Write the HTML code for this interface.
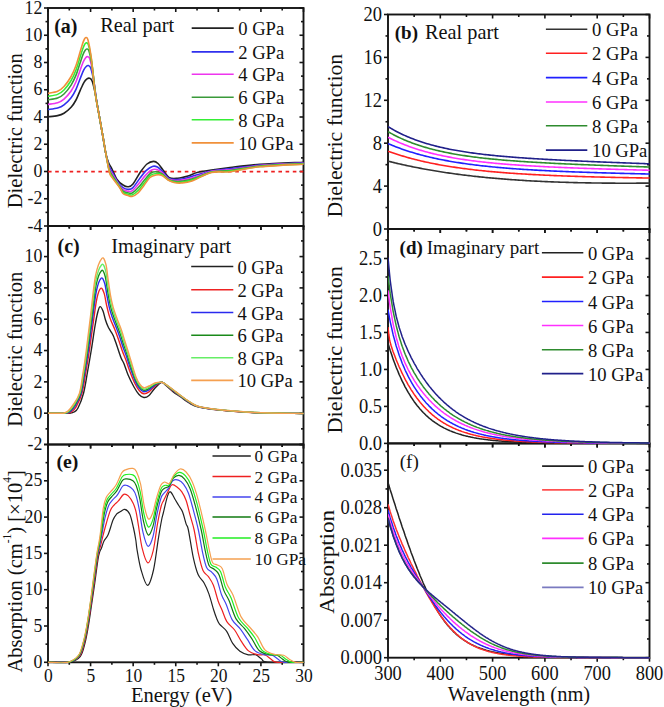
<!DOCTYPE html><html><head><meta charset="utf-8"><style>html,body{margin:0;padding:0;background:#fff;}svg{display:block;}</style></head><body>
<svg width="664" height="707" viewBox="0 0 664 707" style="font-family:'Liberation Serif', serif">
<rect width="664" height="707" fill="#fff"/>
<defs>
<clipPath id="ca"><rect x="48.00" y="7.00" width="255.50" height="220.00"/></clipPath>
<clipPath id="cc"><rect x="48.00" y="225.00" width="255.50" height="220.50"/></clipPath>
<clipPath id="ce"><rect x="48.00" y="443.50" width="255.50" height="219.80"/></clipPath>
<clipPath id="cb"><rect x="388.00" y="13.50" width="261.50" height="216.50"/></clipPath>
<clipPath id="cd"><rect x="388.00" y="228.00" width="261.50" height="216.40"/></clipPath>
<clipPath id="cf"><rect x="388.00" y="442.40" width="261.50" height="216.30"/></clipPath>
</defs>
<rect x="48.00" y="8.00" width="255.50" height="218.00" fill="none" stroke="#151515" stroke-width="1.9"/>
<rect x="48.00" y="226.00" width="255.50" height="218.50" fill="none" stroke="#151515" stroke-width="1.9"/>
<rect x="48.00" y="444.50" width="255.50" height="217.80" fill="none" stroke="#151515" stroke-width="1.9"/>
<rect x="388.00" y="14.50" width="261.50" height="214.50" fill="none" stroke="#151515" stroke-width="1.9"/>
<rect x="388.00" y="229.00" width="261.50" height="214.40" fill="none" stroke="#151515" stroke-width="1.9"/>
<rect x="388.00" y="443.40" width="261.50" height="214.30" fill="none" stroke="#151515" stroke-width="1.9"/>
<line x1="48.00" y1="8.00" x2="48.00" y2="12.00" stroke="#151515" stroke-width="1.6"/>
<line x1="69.29" y1="8.00" x2="69.29" y2="10.50" stroke="#151515" stroke-width="1.6"/>
<line x1="90.58" y1="8.00" x2="90.58" y2="12.00" stroke="#151515" stroke-width="1.6"/>
<line x1="111.88" y1="8.00" x2="111.88" y2="10.50" stroke="#151515" stroke-width="1.6"/>
<line x1="133.17" y1="8.00" x2="133.17" y2="12.00" stroke="#151515" stroke-width="1.6"/>
<line x1="154.46" y1="8.00" x2="154.46" y2="10.50" stroke="#151515" stroke-width="1.6"/>
<line x1="175.75" y1="8.00" x2="175.75" y2="12.00" stroke="#151515" stroke-width="1.6"/>
<line x1="197.04" y1="8.00" x2="197.04" y2="10.50" stroke="#151515" stroke-width="1.6"/>
<line x1="218.33" y1="8.00" x2="218.33" y2="12.00" stroke="#151515" stroke-width="1.6"/>
<line x1="239.63" y1="8.00" x2="239.63" y2="10.50" stroke="#151515" stroke-width="1.6"/>
<line x1="260.92" y1="8.00" x2="260.92" y2="12.00" stroke="#151515" stroke-width="1.6"/>
<line x1="282.21" y1="8.00" x2="282.21" y2="10.50" stroke="#151515" stroke-width="1.6"/>
<line x1="303.50" y1="8.00" x2="303.50" y2="12.00" stroke="#151515" stroke-width="1.6"/>
<line x1="48.00" y1="226.00" x2="48.00" y2="230.00" stroke="#151515" stroke-width="1.6"/>
<line x1="69.29" y1="226.00" x2="69.29" y2="228.50" stroke="#151515" stroke-width="1.6"/>
<line x1="90.58" y1="226.00" x2="90.58" y2="230.00" stroke="#151515" stroke-width="1.6"/>
<line x1="111.88" y1="226.00" x2="111.88" y2="228.50" stroke="#151515" stroke-width="1.6"/>
<line x1="133.17" y1="226.00" x2="133.17" y2="230.00" stroke="#151515" stroke-width="1.6"/>
<line x1="154.46" y1="226.00" x2="154.46" y2="228.50" stroke="#151515" stroke-width="1.6"/>
<line x1="175.75" y1="226.00" x2="175.75" y2="230.00" stroke="#151515" stroke-width="1.6"/>
<line x1="197.04" y1="226.00" x2="197.04" y2="228.50" stroke="#151515" stroke-width="1.6"/>
<line x1="218.33" y1="226.00" x2="218.33" y2="230.00" stroke="#151515" stroke-width="1.6"/>
<line x1="239.63" y1="226.00" x2="239.63" y2="228.50" stroke="#151515" stroke-width="1.6"/>
<line x1="260.92" y1="226.00" x2="260.92" y2="230.00" stroke="#151515" stroke-width="1.6"/>
<line x1="282.21" y1="226.00" x2="282.21" y2="228.50" stroke="#151515" stroke-width="1.6"/>
<line x1="303.50" y1="226.00" x2="303.50" y2="230.00" stroke="#151515" stroke-width="1.6"/>
<line x1="48.00" y1="226.00" x2="48.00" y2="230.00" stroke="#151515" stroke-width="1.6"/>
<line x1="69.29" y1="226.00" x2="69.29" y2="228.50" stroke="#151515" stroke-width="1.6"/>
<line x1="90.58" y1="226.00" x2="90.58" y2="230.00" stroke="#151515" stroke-width="1.6"/>
<line x1="111.88" y1="226.00" x2="111.88" y2="228.50" stroke="#151515" stroke-width="1.6"/>
<line x1="133.17" y1="226.00" x2="133.17" y2="230.00" stroke="#151515" stroke-width="1.6"/>
<line x1="154.46" y1="226.00" x2="154.46" y2="228.50" stroke="#151515" stroke-width="1.6"/>
<line x1="175.75" y1="226.00" x2="175.75" y2="230.00" stroke="#151515" stroke-width="1.6"/>
<line x1="197.04" y1="226.00" x2="197.04" y2="228.50" stroke="#151515" stroke-width="1.6"/>
<line x1="218.33" y1="226.00" x2="218.33" y2="230.00" stroke="#151515" stroke-width="1.6"/>
<line x1="239.63" y1="226.00" x2="239.63" y2="228.50" stroke="#151515" stroke-width="1.6"/>
<line x1="260.92" y1="226.00" x2="260.92" y2="230.00" stroke="#151515" stroke-width="1.6"/>
<line x1="282.21" y1="226.00" x2="282.21" y2="228.50" stroke="#151515" stroke-width="1.6"/>
<line x1="303.50" y1="226.00" x2="303.50" y2="230.00" stroke="#151515" stroke-width="1.6"/>
<line x1="48.00" y1="444.50" x2="48.00" y2="448.50" stroke="#151515" stroke-width="1.6"/>
<line x1="69.29" y1="444.50" x2="69.29" y2="447.00" stroke="#151515" stroke-width="1.6"/>
<line x1="90.58" y1="444.50" x2="90.58" y2="448.50" stroke="#151515" stroke-width="1.6"/>
<line x1="111.88" y1="444.50" x2="111.88" y2="447.00" stroke="#151515" stroke-width="1.6"/>
<line x1="133.17" y1="444.50" x2="133.17" y2="448.50" stroke="#151515" stroke-width="1.6"/>
<line x1="154.46" y1="444.50" x2="154.46" y2="447.00" stroke="#151515" stroke-width="1.6"/>
<line x1="175.75" y1="444.50" x2="175.75" y2="448.50" stroke="#151515" stroke-width="1.6"/>
<line x1="197.04" y1="444.50" x2="197.04" y2="447.00" stroke="#151515" stroke-width="1.6"/>
<line x1="218.33" y1="444.50" x2="218.33" y2="448.50" stroke="#151515" stroke-width="1.6"/>
<line x1="239.63" y1="444.50" x2="239.63" y2="447.00" stroke="#151515" stroke-width="1.6"/>
<line x1="260.92" y1="444.50" x2="260.92" y2="448.50" stroke="#151515" stroke-width="1.6"/>
<line x1="282.21" y1="444.50" x2="282.21" y2="447.00" stroke="#151515" stroke-width="1.6"/>
<line x1="303.50" y1="444.50" x2="303.50" y2="448.50" stroke="#151515" stroke-width="1.6"/>
<line x1="48.00" y1="444.50" x2="48.00" y2="448.50" stroke="#151515" stroke-width="1.6"/>
<line x1="69.29" y1="444.50" x2="69.29" y2="447.00" stroke="#151515" stroke-width="1.6"/>
<line x1="90.58" y1="444.50" x2="90.58" y2="448.50" stroke="#151515" stroke-width="1.6"/>
<line x1="111.88" y1="444.50" x2="111.88" y2="447.00" stroke="#151515" stroke-width="1.6"/>
<line x1="133.17" y1="444.50" x2="133.17" y2="448.50" stroke="#151515" stroke-width="1.6"/>
<line x1="154.46" y1="444.50" x2="154.46" y2="447.00" stroke="#151515" stroke-width="1.6"/>
<line x1="175.75" y1="444.50" x2="175.75" y2="448.50" stroke="#151515" stroke-width="1.6"/>
<line x1="197.04" y1="444.50" x2="197.04" y2="447.00" stroke="#151515" stroke-width="1.6"/>
<line x1="218.33" y1="444.50" x2="218.33" y2="448.50" stroke="#151515" stroke-width="1.6"/>
<line x1="239.63" y1="444.50" x2="239.63" y2="447.00" stroke="#151515" stroke-width="1.6"/>
<line x1="260.92" y1="444.50" x2="260.92" y2="448.50" stroke="#151515" stroke-width="1.6"/>
<line x1="282.21" y1="444.50" x2="282.21" y2="447.00" stroke="#151515" stroke-width="1.6"/>
<line x1="303.50" y1="444.50" x2="303.50" y2="448.50" stroke="#151515" stroke-width="1.6"/>
<line x1="48.00" y1="662.30" x2="48.00" y2="666.30" stroke="#151515" stroke-width="1.6"/>
<line x1="69.29" y1="662.30" x2="69.29" y2="664.80" stroke="#151515" stroke-width="1.6"/>
<line x1="90.58" y1="662.30" x2="90.58" y2="666.30" stroke="#151515" stroke-width="1.6"/>
<line x1="111.88" y1="662.30" x2="111.88" y2="664.80" stroke="#151515" stroke-width="1.6"/>
<line x1="133.17" y1="662.30" x2="133.17" y2="666.30" stroke="#151515" stroke-width="1.6"/>
<line x1="154.46" y1="662.30" x2="154.46" y2="664.80" stroke="#151515" stroke-width="1.6"/>
<line x1="175.75" y1="662.30" x2="175.75" y2="666.30" stroke="#151515" stroke-width="1.6"/>
<line x1="197.04" y1="662.30" x2="197.04" y2="664.80" stroke="#151515" stroke-width="1.6"/>
<line x1="218.33" y1="662.30" x2="218.33" y2="666.30" stroke="#151515" stroke-width="1.6"/>
<line x1="239.63" y1="662.30" x2="239.63" y2="664.80" stroke="#151515" stroke-width="1.6"/>
<line x1="260.92" y1="662.30" x2="260.92" y2="666.30" stroke="#151515" stroke-width="1.6"/>
<line x1="282.21" y1="662.30" x2="282.21" y2="664.80" stroke="#151515" stroke-width="1.6"/>
<line x1="303.50" y1="662.30" x2="303.50" y2="666.30" stroke="#151515" stroke-width="1.6"/>
<line x1="388.00" y1="14.50" x2="388.00" y2="18.50" stroke="#151515" stroke-width="1.6"/>
<line x1="414.15" y1="14.50" x2="414.15" y2="17.00" stroke="#151515" stroke-width="1.6"/>
<line x1="440.30" y1="14.50" x2="440.30" y2="18.50" stroke="#151515" stroke-width="1.6"/>
<line x1="466.45" y1="14.50" x2="466.45" y2="17.00" stroke="#151515" stroke-width="1.6"/>
<line x1="492.60" y1="14.50" x2="492.60" y2="18.50" stroke="#151515" stroke-width="1.6"/>
<line x1="518.75" y1="14.50" x2="518.75" y2="17.00" stroke="#151515" stroke-width="1.6"/>
<line x1="544.90" y1="14.50" x2="544.90" y2="18.50" stroke="#151515" stroke-width="1.6"/>
<line x1="571.05" y1="14.50" x2="571.05" y2="17.00" stroke="#151515" stroke-width="1.6"/>
<line x1="597.20" y1="14.50" x2="597.20" y2="18.50" stroke="#151515" stroke-width="1.6"/>
<line x1="623.35" y1="14.50" x2="623.35" y2="17.00" stroke="#151515" stroke-width="1.6"/>
<line x1="649.50" y1="14.50" x2="649.50" y2="18.50" stroke="#151515" stroke-width="1.6"/>
<line x1="388.00" y1="229.00" x2="388.00" y2="233.00" stroke="#151515" stroke-width="1.6"/>
<line x1="414.15" y1="229.00" x2="414.15" y2="231.50" stroke="#151515" stroke-width="1.6"/>
<line x1="440.30" y1="229.00" x2="440.30" y2="233.00" stroke="#151515" stroke-width="1.6"/>
<line x1="466.45" y1="229.00" x2="466.45" y2="231.50" stroke="#151515" stroke-width="1.6"/>
<line x1="492.60" y1="229.00" x2="492.60" y2="233.00" stroke="#151515" stroke-width="1.6"/>
<line x1="518.75" y1="229.00" x2="518.75" y2="231.50" stroke="#151515" stroke-width="1.6"/>
<line x1="544.90" y1="229.00" x2="544.90" y2="233.00" stroke="#151515" stroke-width="1.6"/>
<line x1="571.05" y1="229.00" x2="571.05" y2="231.50" stroke="#151515" stroke-width="1.6"/>
<line x1="597.20" y1="229.00" x2="597.20" y2="233.00" stroke="#151515" stroke-width="1.6"/>
<line x1="623.35" y1="229.00" x2="623.35" y2="231.50" stroke="#151515" stroke-width="1.6"/>
<line x1="649.50" y1="229.00" x2="649.50" y2="233.00" stroke="#151515" stroke-width="1.6"/>
<line x1="388.00" y1="229.00" x2="388.00" y2="233.00" stroke="#151515" stroke-width="1.6"/>
<line x1="414.15" y1="229.00" x2="414.15" y2="231.50" stroke="#151515" stroke-width="1.6"/>
<line x1="440.30" y1="229.00" x2="440.30" y2="233.00" stroke="#151515" stroke-width="1.6"/>
<line x1="466.45" y1="229.00" x2="466.45" y2="231.50" stroke="#151515" stroke-width="1.6"/>
<line x1="492.60" y1="229.00" x2="492.60" y2="233.00" stroke="#151515" stroke-width="1.6"/>
<line x1="518.75" y1="229.00" x2="518.75" y2="231.50" stroke="#151515" stroke-width="1.6"/>
<line x1="544.90" y1="229.00" x2="544.90" y2="233.00" stroke="#151515" stroke-width="1.6"/>
<line x1="571.05" y1="229.00" x2="571.05" y2="231.50" stroke="#151515" stroke-width="1.6"/>
<line x1="597.20" y1="229.00" x2="597.20" y2="233.00" stroke="#151515" stroke-width="1.6"/>
<line x1="623.35" y1="229.00" x2="623.35" y2="231.50" stroke="#151515" stroke-width="1.6"/>
<line x1="649.50" y1="229.00" x2="649.50" y2="233.00" stroke="#151515" stroke-width="1.6"/>
<line x1="388.00" y1="443.40" x2="388.00" y2="447.40" stroke="#151515" stroke-width="1.6"/>
<line x1="414.15" y1="443.40" x2="414.15" y2="445.90" stroke="#151515" stroke-width="1.6"/>
<line x1="440.30" y1="443.40" x2="440.30" y2="447.40" stroke="#151515" stroke-width="1.6"/>
<line x1="466.45" y1="443.40" x2="466.45" y2="445.90" stroke="#151515" stroke-width="1.6"/>
<line x1="492.60" y1="443.40" x2="492.60" y2="447.40" stroke="#151515" stroke-width="1.6"/>
<line x1="518.75" y1="443.40" x2="518.75" y2="445.90" stroke="#151515" stroke-width="1.6"/>
<line x1="544.90" y1="443.40" x2="544.90" y2="447.40" stroke="#151515" stroke-width="1.6"/>
<line x1="571.05" y1="443.40" x2="571.05" y2="445.90" stroke="#151515" stroke-width="1.6"/>
<line x1="597.20" y1="443.40" x2="597.20" y2="447.40" stroke="#151515" stroke-width="1.6"/>
<line x1="623.35" y1="443.40" x2="623.35" y2="445.90" stroke="#151515" stroke-width="1.6"/>
<line x1="649.50" y1="443.40" x2="649.50" y2="447.40" stroke="#151515" stroke-width="1.6"/>
<line x1="388.00" y1="443.40" x2="388.00" y2="447.40" stroke="#151515" stroke-width="1.6"/>
<line x1="414.15" y1="443.40" x2="414.15" y2="445.90" stroke="#151515" stroke-width="1.6"/>
<line x1="440.30" y1="443.40" x2="440.30" y2="447.40" stroke="#151515" stroke-width="1.6"/>
<line x1="466.45" y1="443.40" x2="466.45" y2="445.90" stroke="#151515" stroke-width="1.6"/>
<line x1="492.60" y1="443.40" x2="492.60" y2="447.40" stroke="#151515" stroke-width="1.6"/>
<line x1="518.75" y1="443.40" x2="518.75" y2="445.90" stroke="#151515" stroke-width="1.6"/>
<line x1="544.90" y1="443.40" x2="544.90" y2="447.40" stroke="#151515" stroke-width="1.6"/>
<line x1="571.05" y1="443.40" x2="571.05" y2="445.90" stroke="#151515" stroke-width="1.6"/>
<line x1="597.20" y1="443.40" x2="597.20" y2="447.40" stroke="#151515" stroke-width="1.6"/>
<line x1="623.35" y1="443.40" x2="623.35" y2="445.90" stroke="#151515" stroke-width="1.6"/>
<line x1="649.50" y1="443.40" x2="649.50" y2="447.40" stroke="#151515" stroke-width="1.6"/>
<line x1="388.00" y1="657.70" x2="388.00" y2="661.70" stroke="#151515" stroke-width="1.6"/>
<line x1="414.15" y1="657.70" x2="414.15" y2="660.20" stroke="#151515" stroke-width="1.6"/>
<line x1="440.30" y1="657.70" x2="440.30" y2="661.70" stroke="#151515" stroke-width="1.6"/>
<line x1="466.45" y1="657.70" x2="466.45" y2="660.20" stroke="#151515" stroke-width="1.6"/>
<line x1="492.60" y1="657.70" x2="492.60" y2="661.70" stroke="#151515" stroke-width="1.6"/>
<line x1="518.75" y1="657.70" x2="518.75" y2="660.20" stroke="#151515" stroke-width="1.6"/>
<line x1="544.90" y1="657.70" x2="544.90" y2="661.70" stroke="#151515" stroke-width="1.6"/>
<line x1="571.05" y1="657.70" x2="571.05" y2="660.20" stroke="#151515" stroke-width="1.6"/>
<line x1="597.20" y1="657.70" x2="597.20" y2="661.70" stroke="#151515" stroke-width="1.6"/>
<line x1="623.35" y1="657.70" x2="623.35" y2="660.20" stroke="#151515" stroke-width="1.6"/>
<line x1="649.50" y1="657.70" x2="649.50" y2="661.70" stroke="#151515" stroke-width="1.6"/>
<line x1="44.00" y1="226.00" x2="48.00" y2="226.00" stroke="#151515" stroke-width="1.6"/>
<line x1="45.50" y1="212.38" x2="48.00" y2="212.38" stroke="#151515" stroke-width="1.6"/>
<line x1="44.00" y1="198.75" x2="48.00" y2="198.75" stroke="#151515" stroke-width="1.6"/>
<line x1="45.50" y1="185.12" x2="48.00" y2="185.12" stroke="#151515" stroke-width="1.6"/>
<line x1="44.00" y1="171.50" x2="48.00" y2="171.50" stroke="#151515" stroke-width="1.6"/>
<line x1="45.50" y1="157.88" x2="48.00" y2="157.88" stroke="#151515" stroke-width="1.6"/>
<line x1="44.00" y1="144.25" x2="48.00" y2="144.25" stroke="#151515" stroke-width="1.6"/>
<line x1="45.50" y1="130.62" x2="48.00" y2="130.62" stroke="#151515" stroke-width="1.6"/>
<line x1="44.00" y1="117.00" x2="48.00" y2="117.00" stroke="#151515" stroke-width="1.6"/>
<line x1="45.50" y1="103.38" x2="48.00" y2="103.38" stroke="#151515" stroke-width="1.6"/>
<line x1="44.00" y1="89.75" x2="48.00" y2="89.75" stroke="#151515" stroke-width="1.6"/>
<line x1="45.50" y1="76.12" x2="48.00" y2="76.12" stroke="#151515" stroke-width="1.6"/>
<line x1="44.00" y1="62.50" x2="48.00" y2="62.50" stroke="#151515" stroke-width="1.6"/>
<line x1="45.50" y1="48.88" x2="48.00" y2="48.88" stroke="#151515" stroke-width="1.6"/>
<line x1="44.00" y1="35.25" x2="48.00" y2="35.25" stroke="#151515" stroke-width="1.6"/>
<line x1="45.50" y1="21.62" x2="48.00" y2="21.62" stroke="#151515" stroke-width="1.6"/>
<line x1="44.00" y1="8.00" x2="48.00" y2="8.00" stroke="#151515" stroke-width="1.6"/>
<line x1="44.00" y1="444.50" x2="48.00" y2="444.50" stroke="#151515" stroke-width="1.6"/>
<line x1="45.50" y1="428.84" x2="48.00" y2="428.84" stroke="#151515" stroke-width="1.6"/>
<line x1="44.00" y1="413.18" x2="48.00" y2="413.18" stroke="#151515" stroke-width="1.6"/>
<line x1="45.50" y1="397.52" x2="48.00" y2="397.52" stroke="#151515" stroke-width="1.6"/>
<line x1="44.00" y1="381.86" x2="48.00" y2="381.86" stroke="#151515" stroke-width="1.6"/>
<line x1="45.50" y1="366.20" x2="48.00" y2="366.20" stroke="#151515" stroke-width="1.6"/>
<line x1="44.00" y1="350.54" x2="48.00" y2="350.54" stroke="#151515" stroke-width="1.6"/>
<line x1="45.50" y1="334.88" x2="48.00" y2="334.88" stroke="#151515" stroke-width="1.6"/>
<line x1="44.00" y1="319.22" x2="48.00" y2="319.22" stroke="#151515" stroke-width="1.6"/>
<line x1="45.50" y1="303.56" x2="48.00" y2="303.56" stroke="#151515" stroke-width="1.6"/>
<line x1="44.00" y1="287.90" x2="48.00" y2="287.90" stroke="#151515" stroke-width="1.6"/>
<line x1="45.50" y1="272.24" x2="48.00" y2="272.24" stroke="#151515" stroke-width="1.6"/>
<line x1="44.00" y1="256.58" x2="48.00" y2="256.58" stroke="#151515" stroke-width="1.6"/>
<line x1="45.50" y1="240.92" x2="48.00" y2="240.92" stroke="#151515" stroke-width="1.6"/>
<line x1="44.00" y1="662.30" x2="48.00" y2="662.30" stroke="#151515" stroke-width="1.6"/>
<line x1="45.50" y1="644.15" x2="48.00" y2="644.15" stroke="#151515" stroke-width="1.6"/>
<line x1="44.00" y1="626.00" x2="48.00" y2="626.00" stroke="#151515" stroke-width="1.6"/>
<line x1="45.50" y1="607.85" x2="48.00" y2="607.85" stroke="#151515" stroke-width="1.6"/>
<line x1="44.00" y1="589.70" x2="48.00" y2="589.70" stroke="#151515" stroke-width="1.6"/>
<line x1="45.50" y1="571.55" x2="48.00" y2="571.55" stroke="#151515" stroke-width="1.6"/>
<line x1="44.00" y1="553.40" x2="48.00" y2="553.40" stroke="#151515" stroke-width="1.6"/>
<line x1="45.50" y1="535.25" x2="48.00" y2="535.25" stroke="#151515" stroke-width="1.6"/>
<line x1="44.00" y1="517.10" x2="48.00" y2="517.10" stroke="#151515" stroke-width="1.6"/>
<line x1="45.50" y1="498.95" x2="48.00" y2="498.95" stroke="#151515" stroke-width="1.6"/>
<line x1="44.00" y1="480.80" x2="48.00" y2="480.80" stroke="#151515" stroke-width="1.6"/>
<line x1="45.50" y1="462.65" x2="48.00" y2="462.65" stroke="#151515" stroke-width="1.6"/>
<line x1="44.00" y1="444.50" x2="48.00" y2="444.50" stroke="#151515" stroke-width="1.6"/>
<line x1="299.50" y1="226.00" x2="303.50" y2="226.00" stroke="#151515" stroke-width="1.6"/>
<line x1="301.00" y1="212.38" x2="303.50" y2="212.38" stroke="#151515" stroke-width="1.6"/>
<line x1="299.50" y1="198.75" x2="303.50" y2="198.75" stroke="#151515" stroke-width="1.6"/>
<line x1="301.00" y1="185.12" x2="303.50" y2="185.12" stroke="#151515" stroke-width="1.6"/>
<line x1="299.50" y1="171.50" x2="303.50" y2="171.50" stroke="#151515" stroke-width="1.6"/>
<line x1="301.00" y1="157.88" x2="303.50" y2="157.88" stroke="#151515" stroke-width="1.6"/>
<line x1="299.50" y1="144.25" x2="303.50" y2="144.25" stroke="#151515" stroke-width="1.6"/>
<line x1="301.00" y1="130.62" x2="303.50" y2="130.62" stroke="#151515" stroke-width="1.6"/>
<line x1="299.50" y1="117.00" x2="303.50" y2="117.00" stroke="#151515" stroke-width="1.6"/>
<line x1="301.00" y1="103.38" x2="303.50" y2="103.38" stroke="#151515" stroke-width="1.6"/>
<line x1="299.50" y1="89.75" x2="303.50" y2="89.75" stroke="#151515" stroke-width="1.6"/>
<line x1="301.00" y1="76.12" x2="303.50" y2="76.12" stroke="#151515" stroke-width="1.6"/>
<line x1="299.50" y1="62.50" x2="303.50" y2="62.50" stroke="#151515" stroke-width="1.6"/>
<line x1="301.00" y1="48.88" x2="303.50" y2="48.88" stroke="#151515" stroke-width="1.6"/>
<line x1="299.50" y1="35.25" x2="303.50" y2="35.25" stroke="#151515" stroke-width="1.6"/>
<line x1="301.00" y1="21.62" x2="303.50" y2="21.62" stroke="#151515" stroke-width="1.6"/>
<line x1="299.50" y1="8.00" x2="303.50" y2="8.00" stroke="#151515" stroke-width="1.6"/>
<line x1="299.50" y1="444.50" x2="303.50" y2="444.50" stroke="#151515" stroke-width="1.6"/>
<line x1="301.00" y1="428.84" x2="303.50" y2="428.84" stroke="#151515" stroke-width="1.6"/>
<line x1="299.50" y1="413.18" x2="303.50" y2="413.18" stroke="#151515" stroke-width="1.6"/>
<line x1="301.00" y1="397.52" x2="303.50" y2="397.52" stroke="#151515" stroke-width="1.6"/>
<line x1="299.50" y1="381.86" x2="303.50" y2="381.86" stroke="#151515" stroke-width="1.6"/>
<line x1="301.00" y1="366.20" x2="303.50" y2="366.20" stroke="#151515" stroke-width="1.6"/>
<line x1="299.50" y1="350.54" x2="303.50" y2="350.54" stroke="#151515" stroke-width="1.6"/>
<line x1="301.00" y1="334.88" x2="303.50" y2="334.88" stroke="#151515" stroke-width="1.6"/>
<line x1="299.50" y1="319.22" x2="303.50" y2="319.22" stroke="#151515" stroke-width="1.6"/>
<line x1="301.00" y1="303.56" x2="303.50" y2="303.56" stroke="#151515" stroke-width="1.6"/>
<line x1="299.50" y1="287.90" x2="303.50" y2="287.90" stroke="#151515" stroke-width="1.6"/>
<line x1="301.00" y1="272.24" x2="303.50" y2="272.24" stroke="#151515" stroke-width="1.6"/>
<line x1="299.50" y1="256.58" x2="303.50" y2="256.58" stroke="#151515" stroke-width="1.6"/>
<line x1="301.00" y1="240.92" x2="303.50" y2="240.92" stroke="#151515" stroke-width="1.6"/>
<line x1="299.50" y1="662.30" x2="303.50" y2="662.30" stroke="#151515" stroke-width="1.6"/>
<line x1="301.00" y1="644.15" x2="303.50" y2="644.15" stroke="#151515" stroke-width="1.6"/>
<line x1="299.50" y1="626.00" x2="303.50" y2="626.00" stroke="#151515" stroke-width="1.6"/>
<line x1="301.00" y1="607.85" x2="303.50" y2="607.85" stroke="#151515" stroke-width="1.6"/>
<line x1="299.50" y1="589.70" x2="303.50" y2="589.70" stroke="#151515" stroke-width="1.6"/>
<line x1="301.00" y1="571.55" x2="303.50" y2="571.55" stroke="#151515" stroke-width="1.6"/>
<line x1="299.50" y1="553.40" x2="303.50" y2="553.40" stroke="#151515" stroke-width="1.6"/>
<line x1="301.00" y1="535.25" x2="303.50" y2="535.25" stroke="#151515" stroke-width="1.6"/>
<line x1="299.50" y1="517.10" x2="303.50" y2="517.10" stroke="#151515" stroke-width="1.6"/>
<line x1="301.00" y1="498.95" x2="303.50" y2="498.95" stroke="#151515" stroke-width="1.6"/>
<line x1="299.50" y1="480.80" x2="303.50" y2="480.80" stroke="#151515" stroke-width="1.6"/>
<line x1="301.00" y1="462.65" x2="303.50" y2="462.65" stroke="#151515" stroke-width="1.6"/>
<line x1="299.50" y1="444.50" x2="303.50" y2="444.50" stroke="#151515" stroke-width="1.6"/>
<line x1="384.00" y1="229.00" x2="388.00" y2="229.00" stroke="#151515" stroke-width="1.6"/>
<line x1="385.50" y1="207.55" x2="388.00" y2="207.55" stroke="#151515" stroke-width="1.6"/>
<line x1="384.00" y1="186.10" x2="388.00" y2="186.10" stroke="#151515" stroke-width="1.6"/>
<line x1="385.50" y1="164.65" x2="388.00" y2="164.65" stroke="#151515" stroke-width="1.6"/>
<line x1="384.00" y1="143.20" x2="388.00" y2="143.20" stroke="#151515" stroke-width="1.6"/>
<line x1="385.50" y1="121.75" x2="388.00" y2="121.75" stroke="#151515" stroke-width="1.6"/>
<line x1="384.00" y1="100.30" x2="388.00" y2="100.30" stroke="#151515" stroke-width="1.6"/>
<line x1="385.50" y1="78.85" x2="388.00" y2="78.85" stroke="#151515" stroke-width="1.6"/>
<line x1="384.00" y1="57.40" x2="388.00" y2="57.40" stroke="#151515" stroke-width="1.6"/>
<line x1="385.50" y1="35.95" x2="388.00" y2="35.95" stroke="#151515" stroke-width="1.6"/>
<line x1="384.00" y1="14.50" x2="388.00" y2="14.50" stroke="#151515" stroke-width="1.6"/>
<line x1="384.00" y1="443.40" x2="388.00" y2="443.40" stroke="#151515" stroke-width="1.6"/>
<line x1="385.50" y1="424.91" x2="388.00" y2="424.91" stroke="#151515" stroke-width="1.6"/>
<line x1="384.00" y1="406.42" x2="388.00" y2="406.42" stroke="#151515" stroke-width="1.6"/>
<line x1="385.50" y1="387.93" x2="388.00" y2="387.93" stroke="#151515" stroke-width="1.6"/>
<line x1="384.00" y1="369.44" x2="388.00" y2="369.44" stroke="#151515" stroke-width="1.6"/>
<line x1="385.50" y1="350.95" x2="388.00" y2="350.95" stroke="#151515" stroke-width="1.6"/>
<line x1="384.00" y1="332.46" x2="388.00" y2="332.46" stroke="#151515" stroke-width="1.6"/>
<line x1="385.50" y1="313.97" x2="388.00" y2="313.97" stroke="#151515" stroke-width="1.6"/>
<line x1="384.00" y1="295.48" x2="388.00" y2="295.48" stroke="#151515" stroke-width="1.6"/>
<line x1="385.50" y1="276.99" x2="388.00" y2="276.99" stroke="#151515" stroke-width="1.6"/>
<line x1="384.00" y1="258.50" x2="388.00" y2="258.50" stroke="#151515" stroke-width="1.6"/>
<line x1="385.50" y1="240.01" x2="388.00" y2="240.01" stroke="#151515" stroke-width="1.6"/>
<line x1="384.00" y1="657.70" x2="388.00" y2="657.70" stroke="#151515" stroke-width="1.6"/>
<line x1="385.50" y1="638.95" x2="388.00" y2="638.95" stroke="#151515" stroke-width="1.6"/>
<line x1="384.00" y1="620.20" x2="388.00" y2="620.20" stroke="#151515" stroke-width="1.6"/>
<line x1="385.50" y1="601.45" x2="388.00" y2="601.45" stroke="#151515" stroke-width="1.6"/>
<line x1="384.00" y1="582.70" x2="388.00" y2="582.70" stroke="#151515" stroke-width="1.6"/>
<line x1="385.50" y1="563.95" x2="388.00" y2="563.95" stroke="#151515" stroke-width="1.6"/>
<line x1="384.00" y1="545.20" x2="388.00" y2="545.20" stroke="#151515" stroke-width="1.6"/>
<line x1="385.50" y1="526.45" x2="388.00" y2="526.45" stroke="#151515" stroke-width="1.6"/>
<line x1="384.00" y1="507.70" x2="388.00" y2="507.70" stroke="#151515" stroke-width="1.6"/>
<line x1="385.50" y1="488.95" x2="388.00" y2="488.95" stroke="#151515" stroke-width="1.6"/>
<line x1="384.00" y1="470.20" x2="388.00" y2="470.20" stroke="#151515" stroke-width="1.6"/>
<line x1="385.50" y1="451.45" x2="388.00" y2="451.45" stroke="#151515" stroke-width="1.6"/>
<line x1="645.50" y1="229.00" x2="649.50" y2="229.00" stroke="#151515" stroke-width="1.6"/>
<line x1="647.00" y1="207.55" x2="649.50" y2="207.55" stroke="#151515" stroke-width="1.6"/>
<line x1="645.50" y1="186.10" x2="649.50" y2="186.10" stroke="#151515" stroke-width="1.6"/>
<line x1="647.00" y1="164.65" x2="649.50" y2="164.65" stroke="#151515" stroke-width="1.6"/>
<line x1="645.50" y1="143.20" x2="649.50" y2="143.20" stroke="#151515" stroke-width="1.6"/>
<line x1="647.00" y1="121.75" x2="649.50" y2="121.75" stroke="#151515" stroke-width="1.6"/>
<line x1="645.50" y1="100.30" x2="649.50" y2="100.30" stroke="#151515" stroke-width="1.6"/>
<line x1="647.00" y1="78.85" x2="649.50" y2="78.85" stroke="#151515" stroke-width="1.6"/>
<line x1="645.50" y1="57.40" x2="649.50" y2="57.40" stroke="#151515" stroke-width="1.6"/>
<line x1="647.00" y1="35.95" x2="649.50" y2="35.95" stroke="#151515" stroke-width="1.6"/>
<line x1="645.50" y1="14.50" x2="649.50" y2="14.50" stroke="#151515" stroke-width="1.6"/>
<line x1="645.50" y1="443.40" x2="649.50" y2="443.40" stroke="#151515" stroke-width="1.6"/>
<line x1="647.00" y1="424.91" x2="649.50" y2="424.91" stroke="#151515" stroke-width="1.6"/>
<line x1="645.50" y1="406.42" x2="649.50" y2="406.42" stroke="#151515" stroke-width="1.6"/>
<line x1="647.00" y1="387.93" x2="649.50" y2="387.93" stroke="#151515" stroke-width="1.6"/>
<line x1="645.50" y1="369.44" x2="649.50" y2="369.44" stroke="#151515" stroke-width="1.6"/>
<line x1="647.00" y1="350.95" x2="649.50" y2="350.95" stroke="#151515" stroke-width="1.6"/>
<line x1="645.50" y1="332.46" x2="649.50" y2="332.46" stroke="#151515" stroke-width="1.6"/>
<line x1="647.00" y1="313.97" x2="649.50" y2="313.97" stroke="#151515" stroke-width="1.6"/>
<line x1="645.50" y1="295.48" x2="649.50" y2="295.48" stroke="#151515" stroke-width="1.6"/>
<line x1="647.00" y1="276.99" x2="649.50" y2="276.99" stroke="#151515" stroke-width="1.6"/>
<line x1="645.50" y1="258.50" x2="649.50" y2="258.50" stroke="#151515" stroke-width="1.6"/>
<line x1="647.00" y1="240.01" x2="649.50" y2="240.01" stroke="#151515" stroke-width="1.6"/>
<line x1="645.50" y1="657.70" x2="649.50" y2="657.70" stroke="#151515" stroke-width="1.6"/>
<line x1="647.00" y1="638.95" x2="649.50" y2="638.95" stroke="#151515" stroke-width="1.6"/>
<line x1="645.50" y1="620.20" x2="649.50" y2="620.20" stroke="#151515" stroke-width="1.6"/>
<line x1="647.00" y1="601.45" x2="649.50" y2="601.45" stroke="#151515" stroke-width="1.6"/>
<line x1="645.50" y1="582.70" x2="649.50" y2="582.70" stroke="#151515" stroke-width="1.6"/>
<line x1="647.00" y1="563.95" x2="649.50" y2="563.95" stroke="#151515" stroke-width="1.6"/>
<line x1="645.50" y1="545.20" x2="649.50" y2="545.20" stroke="#151515" stroke-width="1.6"/>
<line x1="647.00" y1="526.45" x2="649.50" y2="526.45" stroke="#151515" stroke-width="1.6"/>
<line x1="645.50" y1="507.70" x2="649.50" y2="507.70" stroke="#151515" stroke-width="1.6"/>
<line x1="647.00" y1="488.95" x2="649.50" y2="488.95" stroke="#151515" stroke-width="1.6"/>
<line x1="645.50" y1="470.20" x2="649.50" y2="470.20" stroke="#151515" stroke-width="1.6"/>
<line x1="647.00" y1="451.45" x2="649.50" y2="451.45" stroke="#151515" stroke-width="1.6"/>
<g clip-path="url(#ca)">
<line x1="48.00" y1="171.6" x2="303.50" y2="171.6" stroke="#ee2020" stroke-width="1.6" stroke-dasharray="3.6 3.6"/>
<path d="M48.00 116.80 C49.60 116.60 54.93 116.20 57.60 115.60 C60.27 115.00 61.75 114.58 64.00 113.20 C66.25 111.82 69.10 109.50 71.10 107.30 C73.10 105.10 74.50 102.78 76.00 100.00 C77.50 97.22 78.77 93.55 80.10 90.60 C81.43 87.65 82.85 84.25 84.00 82.30 C85.15 80.35 86.08 79.58 87.00 78.90 C87.92 78.22 88.67 77.88 89.50 78.20 C90.33 78.52 91.12 78.60 92.00 80.80 C92.88 83.00 93.88 87.20 94.80 91.40 C95.72 95.60 96.67 101.40 97.50 106.00 C98.33 110.60 98.88 113.83 99.80 119.00 C100.72 124.17 102.02 131.37 103.00 137.00 C103.98 142.63 104.78 148.55 105.70 152.80 C106.62 157.05 107.45 159.80 108.50 162.50 C109.55 165.20 110.58 166.17 112.00 169.00 C113.42 171.83 115.17 176.83 117.00 179.50 C118.83 182.17 121.12 183.80 123.00 185.00 C124.88 186.20 126.63 186.87 128.30 186.70 C129.97 186.53 130.95 186.48 133.00 184.00 C135.05 181.52 138.27 175.13 140.60 171.80 C142.93 168.47 144.85 165.73 147.00 164.00 C149.15 162.27 151.67 161.48 153.50 161.40 C155.33 161.32 156.42 162.07 158.00 163.50 C159.58 164.93 161.12 167.63 163.00 170.00 C164.88 172.37 166.85 176.32 169.30 177.70 C171.75 179.08 174.58 178.58 177.70 178.30 C180.82 178.02 184.62 177.00 188.00 176.00 C191.38 175.00 193.50 173.38 198.00 172.30 C202.50 171.22 209.67 170.30 215.00 169.50 C220.33 168.70 222.50 168.37 230.00 167.50 C237.50 166.63 247.75 165.18 260.00 164.30 C272.25 163.42 296.25 162.55 303.50 162.20" fill="none" stroke="#222222" stroke-width="1.6" stroke-linejoin="round" stroke-linecap="round" />
<path d="M48.00 109.52 C49.60 109.27 54.93 108.80 57.60 108.04 C60.27 107.27 61.75 106.64 64.00 104.92 C66.25 103.21 69.10 100.35 71.10 97.75 C73.10 95.15 74.53 92.39 76.00 89.31 C77.47 86.22 78.66 82.40 79.91 79.25 C81.17 76.11 82.48 72.55 83.53 70.43 C84.59 68.31 85.41 67.33 86.22 66.53 C87.04 65.73 87.66 65.34 88.42 65.61 C89.17 65.88 89.88 65.63 90.76 68.15 C91.64 70.67 92.69 75.15 93.68 80.74 C94.68 86.32 95.71 95.28 96.72 101.66 C97.74 108.04 98.75 113.11 99.80 119.00 C100.85 124.89 102.02 131.37 103.00 137.00 C103.98 142.63 104.74 148.04 105.70 152.80 C106.66 157.56 107.73 162.40 108.78 165.54 C109.83 168.67 110.50 168.86 112.00 171.60 C113.50 174.34 115.97 179.31 117.81 181.98 C119.64 184.65 121.30 186.41 123.00 187.63 C124.70 188.86 126.38 189.29 127.99 189.33 C129.61 189.37 130.72 189.70 132.69 187.88 C134.66 186.05 137.56 181.24 139.79 178.37 C142.02 175.50 143.97 172.66 146.07 170.66 C148.17 168.67 150.53 166.99 152.41 166.39 C154.30 165.79 155.67 166.18 157.38 167.06 C159.09 167.95 160.77 169.81 162.69 171.71 C164.61 173.60 166.59 177.10 168.90 178.41 C171.21 179.73 173.72 179.64 176.55 179.60 C179.39 179.56 182.66 178.94 185.92 178.17 C189.19 177.40 191.48 176.29 196.14 175.00 C200.80 173.71 208.24 171.46 213.88 170.43 C219.53 169.40 222.31 169.69 230.00 168.80 C237.69 167.91 247.75 166.07 260.00 165.08 C272.25 164.08 296.25 163.20 303.50 162.82" fill="none" stroke="#3030ee" stroke-width="1.6" stroke-linejoin="round" stroke-linecap="round" />
<path d="M48.00 104.34 C49.60 104.07 54.93 103.55 57.60 102.67 C60.27 101.79 61.75 101.00 64.00 99.05 C66.25 97.10 69.10 93.86 71.10 90.98 C73.10 88.09 74.55 85.01 76.00 81.72 C77.45 78.42 78.58 74.49 79.78 71.20 C80.98 67.92 82.22 64.24 83.20 62.00 C84.19 59.76 84.94 58.64 85.67 57.75 C86.41 56.87 86.94 56.44 87.64 56.68 C88.35 56.92 89.01 56.43 89.88 59.18 C90.75 61.92 91.84 66.60 92.89 73.17 C93.94 79.74 95.02 90.94 96.17 98.58 C97.33 106.22 98.66 112.60 99.80 119.00 C100.94 125.40 102.02 131.37 103.00 137.00 C103.98 142.63 104.70 147.68 105.70 152.80 C106.70 157.92 107.93 164.25 108.98 167.69 C110.03 171.14 110.43 170.78 112.00 173.45 C113.57 176.13 116.54 181.06 118.38 183.74 C120.21 186.42 121.43 188.26 123.00 189.50 C124.57 190.75 126.19 191.02 127.77 191.20 C129.35 191.39 130.56 191.99 132.47 190.62 C134.38 189.26 137.07 185.57 139.22 183.04 C141.38 180.50 143.34 177.58 145.41 175.40 C147.48 173.21 149.72 170.90 151.65 169.93 C153.57 168.97 155.14 169.10 156.94 169.59 C158.74 170.09 160.52 171.36 162.47 172.91 C164.42 174.47 166.40 177.65 168.61 178.92 C170.82 180.19 173.10 180.39 175.74 180.53 C178.38 180.66 181.27 180.31 184.45 179.71 C187.63 179.11 190.05 178.35 194.82 176.91 C199.59 175.47 207.23 172.29 213.09 171.09 C218.96 169.89 222.18 170.64 230.00 169.73 C237.82 168.82 247.75 166.70 260.00 165.62 C272.25 164.55 296.25 163.65 303.50 163.26" fill="none" stroke="#ee35ee" stroke-width="1.6" stroke-linejoin="round" stroke-linecap="round" />
<path d="M48.00 99.88 C49.60 99.57 54.93 99.02 57.60 98.03 C60.27 97.05 61.75 96.13 64.00 93.98 C66.25 91.82 69.10 88.26 71.10 85.12 C73.10 81.99 74.57 78.64 76.00 75.16 C77.43 71.68 78.51 67.65 79.67 64.25 C80.82 60.84 82.00 57.07 82.92 54.72 C83.84 52.38 84.52 51.13 85.20 50.17 C85.88 49.21 86.33 48.76 86.98 48.97 C87.63 49.18 88.25 48.48 89.12 51.42 C89.99 54.37 91.11 59.22 92.21 66.63 C93.30 74.05 94.43 87.19 95.70 95.92 C96.97 104.65 98.58 112.15 99.80 119.00 C101.02 125.85 102.02 131.37 103.00 137.00 C103.98 142.63 104.68 147.37 105.70 152.80 C106.72 158.23 108.10 165.85 109.15 169.56 C110.20 173.26 110.38 172.43 112.00 175.05 C113.62 177.67 117.04 182.58 118.87 185.26 C120.71 187.94 121.55 189.86 123.00 191.12 C124.45 192.38 126.03 192.51 127.58 192.82 C129.13 193.13 130.42 193.96 132.28 193.00 C134.14 192.04 136.63 189.32 138.73 187.06 C140.82 184.81 142.80 181.83 144.84 179.48 C146.88 177.13 149.03 174.28 150.98 172.99 C152.93 171.71 154.68 171.62 156.56 171.78 C158.44 171.94 160.31 172.70 162.28 173.96 C164.25 175.22 166.24 178.13 168.36 179.36 C170.49 180.58 172.57 181.04 175.04 181.32 C177.50 181.60 180.07 181.50 183.18 181.04 C186.28 180.58 188.81 180.13 193.68 178.56 C198.55 177.00 206.35 173.00 212.41 171.66 C218.46 170.32 222.07 171.45 230.00 170.52 C237.93 169.60 247.75 167.25 260.00 166.10 C272.25 164.95 296.25 164.05 303.50 163.64" fill="none" stroke="#3a9a3a" stroke-width="1.6" stroke-linejoin="round" stroke-linecap="round" />
<path d="M48.00 96.35 C49.60 96.02 54.93 95.44 57.60 94.37 C60.27 93.31 61.75 92.28 64.00 89.97 C66.25 87.66 69.10 83.84 71.10 80.50 C73.10 77.17 74.59 73.61 76.00 69.98 C77.41 66.36 78.46 62.26 79.58 58.76 C80.69 55.26 81.82 51.41 82.69 48.98 C83.57 46.55 84.20 45.20 84.83 44.19 C85.45 43.17 85.84 42.69 86.45 42.88 C87.07 43.06 87.65 42.20 88.52 45.30 C89.39 48.40 90.53 53.39 91.67 61.47 C92.80 69.56 93.97 84.23 95.33 93.82 C96.68 103.41 98.52 111.80 99.80 119.00 C101.08 126.20 102.02 131.37 103.00 137.00 C103.98 142.63 104.65 147.13 105.70 152.80 C106.75 158.47 108.23 167.11 109.28 171.03 C110.33 174.94 110.34 173.74 112.00 176.31 C113.66 178.88 117.43 183.78 119.26 186.46 C121.10 189.14 121.64 191.12 123.00 192.40 C124.36 193.67 125.91 193.68 127.43 194.09 C128.95 194.51 130.31 195.52 132.13 194.88 C133.95 194.23 136.29 192.27 138.34 190.24 C140.38 188.22 142.37 185.18 144.39 182.70 C146.41 180.23 148.48 176.94 150.46 175.41 C152.43 173.87 154.31 173.61 156.26 173.50 C158.21 173.40 160.15 173.75 162.13 174.78 C164.11 175.82 166.11 178.51 168.17 179.70 C170.23 180.90 172.15 181.56 174.48 181.95 C176.81 182.35 179.12 182.44 182.17 182.09 C185.22 181.74 187.83 181.53 192.78 179.87 C197.73 178.21 205.66 173.56 211.87 172.11 C218.07 170.66 221.98 172.09 230.00 171.15 C238.02 170.21 247.75 167.68 260.00 166.48 C272.25 165.27 296.25 164.36 303.50 163.94" fill="none" stroke="#35ee35" stroke-width="1.6" stroke-linejoin="round" stroke-linecap="round" />
<path d="M48.00 93.30 C49.60 92.95 54.93 92.33 57.60 91.20 C60.27 90.07 61.75 88.95 64.00 86.50 C66.25 84.05 69.10 80.00 71.10 76.50 C73.10 73.00 74.60 69.25 76.00 65.50 C77.40 61.75 78.42 57.58 79.50 54.00 C80.58 50.42 81.67 46.50 82.50 44.00 C83.33 41.50 83.92 40.07 84.50 39.00 C85.08 37.93 85.42 37.43 86.00 37.60 C86.58 37.77 87.13 36.77 88.00 40.00 C88.87 43.23 90.03 48.33 91.20 57.00 C92.37 65.67 93.57 81.67 95.00 92.00 C96.43 102.33 98.47 111.50 99.80 119.00 C101.13 126.50 102.02 131.37 103.00 137.00 C103.98 142.63 104.63 146.92 105.70 152.80 C106.77 158.68 108.35 168.20 109.40 172.30 C110.45 176.40 110.30 174.87 112.00 177.40 C113.70 179.93 117.77 184.82 119.60 187.50 C121.43 190.18 121.72 192.22 123.00 193.50 C124.28 194.78 125.80 194.70 127.30 195.20 C128.80 195.70 130.22 196.87 132.00 196.50 C133.78 196.13 136.00 194.83 138.00 193.00 C140.00 191.17 142.00 188.08 144.00 185.50 C146.00 182.92 148.00 179.25 150.00 177.50 C152.00 175.75 154.00 175.33 156.00 175.00 C158.00 174.67 160.00 174.67 162.00 175.50 C164.00 176.33 166.00 178.83 168.00 180.00 C170.00 181.17 171.78 182.00 174.00 182.50 C176.22 183.00 178.30 183.25 181.30 183.00 C184.30 182.75 186.98 182.75 192.00 181.00 C197.02 179.25 205.07 174.05 211.40 172.50 C217.73 170.95 221.90 172.65 230.00 171.70 C238.10 170.75 247.75 168.05 260.00 166.80 C272.25 165.55 296.25 164.63 303.50 164.20" fill="none" stroke="#f0903a" stroke-width="1.6" stroke-linejoin="round" stroke-linecap="round" />
</g>
<g clip-path="url(#cc)">
<path d="M48.00 413.30 C51.00 413.30 62.33 413.32 66.00 413.30 C69.67 413.28 68.67 413.42 70.00 413.20 C71.33 412.98 72.67 412.87 74.00 412.00 C75.33 411.13 76.40 411.17 78.00 408.00 C79.60 404.83 82.02 399.00 83.60 393.00 C85.18 387.00 86.22 379.17 87.50 372.00 C88.78 364.83 90.05 357.67 91.30 350.00 C92.55 342.33 93.92 332.33 95.00 326.00 C96.08 319.67 96.95 315.23 97.80 312.00 C98.65 308.77 99.23 306.77 100.10 306.60 C100.97 306.43 102.10 308.77 103.00 311.00 C103.90 313.23 104.67 317.42 105.50 320.00 C106.33 322.58 107.17 324.67 108.00 326.50 C108.83 328.33 109.60 329.42 110.50 331.00 C111.40 332.58 112.32 333.50 113.40 336.00 C114.48 338.50 115.73 342.38 117.00 346.00 C118.27 349.62 119.82 354.70 121.00 357.70 C122.18 360.70 122.93 361.17 124.10 364.00 C125.27 366.83 126.35 370.87 128.00 374.70 C129.65 378.53 132.17 383.70 134.00 387.00 C135.83 390.30 137.35 392.75 139.00 394.50 C140.65 396.25 142.23 397.33 143.90 397.50 C145.57 397.67 147.15 397.08 149.00 395.50 C150.85 393.92 152.90 390.22 155.00 388.00 C157.10 385.78 159.77 382.62 161.60 382.20 C163.43 381.78 164.00 383.85 166.00 385.50 C168.00 387.15 171.27 390.27 173.60 392.10 C175.93 393.93 177.27 394.60 180.00 396.50 C182.73 398.40 186.88 401.75 190.00 403.50 C193.12 405.25 194.15 405.93 198.70 407.00 C203.25 408.07 207.97 408.95 217.30 409.90 C226.63 410.85 240.33 412.10 254.70 412.70 C269.07 413.30 295.37 413.37 303.50 413.50" fill="none" stroke="#222222" stroke-width="1.4" stroke-linejoin="round" stroke-linecap="round" />
<path d="M48.00 413.30 C50.62 413.30 60.43 413.33 63.72 413.30 C67.01 413.27 66.42 413.40 67.76 413.12 C69.09 412.84 70.33 412.66 71.72 411.62 C73.11 410.58 74.39 409.94 76.10 406.86 C77.81 403.78 80.39 398.90 82.00 393.15 C83.62 387.41 84.56 379.51 85.79 372.38 C87.02 365.25 88.12 358.68 89.36 350.38 C90.61 342.08 91.99 331.26 93.25 322.58 C94.51 313.90 95.67 304.04 96.93 298.32 C98.18 292.60 99.59 289.15 100.78 288.28 C101.97 287.42 103.11 290.38 104.06 293.14 C105.02 295.90 105.71 301.22 106.53 304.84 C107.35 308.45 108.17 312.02 108.99 314.83 C109.81 317.65 110.51 319.37 111.45 321.73 C112.39 324.08 113.41 325.94 114.62 328.97 C115.82 332.00 117.39 336.25 118.67 339.92 C119.96 343.59 121.18 347.78 122.33 350.97 C123.48 354.16 124.45 355.97 125.58 359.06 C126.72 362.15 127.61 365.47 129.14 369.49 C130.67 373.52 133.05 379.67 134.76 383.20 C136.47 386.73 137.86 388.93 139.38 390.70 C140.90 392.47 142.30 393.62 143.90 393.81 C145.50 394.01 147.15 393.18 149.00 391.89 C150.85 390.60 152.90 387.72 155.00 386.10 C157.10 384.49 159.77 382.36 161.60 382.20 C163.43 382.04 164.00 383.60 166.00 385.12 C168.00 386.64 171.27 389.50 173.60 391.30 C175.93 393.10 177.27 393.99 180.00 395.93 C182.73 397.87 186.88 401.12 190.00 402.93 C193.12 404.74 194.15 405.67 198.70 406.81 C203.25 407.95 207.97 408.78 217.30 409.75 C226.63 410.72 240.33 412.00 254.70 412.62 C269.07 413.25 295.37 413.35 303.50 413.50" fill="none" stroke="#ee2222" stroke-width="1.4" stroke-linejoin="round" stroke-linecap="round" />
<path d="M48.00 413.30 C50.41 413.30 59.37 413.34 62.46 413.30 C65.55 413.26 65.19 413.40 66.52 413.08 C67.85 412.77 69.04 412.55 70.46 411.41 C71.88 410.27 73.27 409.26 75.05 406.23 C76.83 403.20 79.49 398.84 81.12 393.24 C82.75 387.63 83.65 379.70 84.84 372.59 C86.04 365.48 87.05 359.24 88.29 350.59 C89.53 341.94 90.93 330.66 92.29 320.69 C93.64 310.72 94.96 297.85 96.44 290.76 C97.92 283.67 99.79 279.41 101.16 278.16 C102.53 276.91 103.66 280.22 104.65 283.27 C105.64 286.32 106.28 292.27 107.09 296.46 C107.91 300.65 108.72 305.03 109.53 308.39 C110.35 311.74 111.02 313.82 111.97 316.60 C112.93 319.39 114.02 321.76 115.29 325.08 C116.56 328.41 118.30 332.86 119.60 336.56 C120.89 340.26 121.93 343.96 123.06 347.26 C124.20 350.55 125.28 353.10 126.40 356.33 C127.52 359.56 128.31 362.49 129.77 366.62 C131.23 370.75 133.54 377.44 135.18 381.10 C136.82 384.76 138.14 386.82 139.59 388.60 C141.04 390.38 142.33 391.56 143.90 391.78 C145.47 391.99 147.15 391.02 149.00 389.89 C150.85 388.77 152.90 386.33 155.00 385.05 C157.10 383.77 159.77 382.22 161.60 382.20 C163.43 382.18 164.00 383.47 166.00 384.91 C168.00 386.35 171.27 389.08 173.60 390.86 C175.93 392.65 177.27 393.66 180.00 395.62 C182.73 397.57 186.88 400.77 190.00 402.62 C193.12 404.46 194.15 405.53 198.70 406.70 C203.25 407.88 207.97 408.68 217.30 409.66 C226.63 410.64 240.33 411.94 254.70 412.58 C269.07 413.22 295.37 413.35 303.50 413.50" fill="none" stroke="#2a2aee" stroke-width="1.4" stroke-linejoin="round" stroke-linecap="round" />
<path d="M48.00 413.30 C50.26 413.30 58.60 413.34 61.53 413.30 C64.46 413.26 64.27 413.39 65.60 413.05 C66.94 412.71 68.08 412.47 69.53 411.25 C70.98 410.04 72.45 408.76 74.28 405.76 C76.10 402.77 78.83 398.80 80.47 393.30 C82.12 387.79 82.98 379.84 84.15 372.75 C85.32 365.65 86.26 359.65 87.50 350.75 C88.74 341.84 90.14 330.22 91.57 319.30 C93.00 308.37 94.44 293.28 96.09 285.18 C97.73 277.08 99.94 272.22 101.44 270.69 C102.94 269.16 104.07 272.72 105.09 275.99 C106.10 279.25 106.70 285.67 107.51 290.27 C108.32 294.88 109.13 299.87 109.94 303.63 C110.75 307.39 111.39 309.72 112.36 312.82 C113.34 315.92 114.46 318.67 115.78 322.22 C117.10 325.76 118.97 330.36 120.28 334.08 C121.58 337.80 122.49 341.14 123.61 344.51 C124.73 347.89 125.90 350.99 127.01 354.31 C128.11 357.64 128.82 360.29 130.24 364.49 C131.65 368.70 133.91 375.79 135.49 379.55 C137.08 383.31 138.34 385.26 139.75 387.05 C141.15 388.84 142.36 390.04 143.90 390.27 C145.44 390.50 147.15 389.42 149.00 388.42 C150.85 387.42 152.90 385.31 155.00 384.27 C157.10 383.24 159.77 382.12 161.60 382.20 C163.43 382.28 164.00 383.37 166.00 384.75 C168.00 386.14 171.27 388.76 173.60 390.54 C175.93 392.31 177.27 393.41 180.00 395.38 C182.73 397.36 186.88 400.51 190.00 402.38 C193.12 404.26 194.15 405.42 198.70 406.63 C203.25 407.83 207.97 408.61 217.30 409.60 C226.63 410.59 240.33 411.90 254.70 412.55 C269.07 413.20 295.37 413.34 303.50 413.50" fill="none" stroke="#1a8a1a" stroke-width="1.4" stroke-linejoin="round" stroke-linecap="round" />
<path d="M48.00 413.30 C50.13 413.30 57.97 413.35 60.78 413.30 C63.59 413.25 63.53 413.39 64.87 413.03 C66.20 412.66 67.32 412.40 68.78 411.13 C70.24 409.86 71.79 408.35 73.65 405.39 C75.51 402.43 78.29 398.77 79.95 393.35 C81.60 387.93 82.43 379.95 83.58 372.87 C84.74 365.79 85.63 359.99 86.86 350.87 C88.10 341.75 89.51 329.87 91.00 318.17 C92.49 306.47 94.02 289.60 95.80 280.68 C97.58 271.76 100.06 266.43 101.67 264.67 C103.27 262.90 104.41 266.67 105.44 270.11 C106.47 273.55 107.04 280.34 107.85 285.29 C108.65 290.23 109.46 295.71 110.26 299.79 C111.07 303.87 111.69 306.42 112.67 309.77 C113.66 313.12 114.83 316.19 116.18 319.90 C117.54 323.62 119.52 328.35 120.83 332.08 C122.14 335.81 122.93 338.87 124.05 342.30 C125.16 345.74 126.40 349.28 127.49 352.69 C128.59 356.10 129.24 358.51 130.61 362.78 C131.98 367.05 134.20 374.46 135.74 378.30 C137.28 382.14 138.51 384.01 139.87 385.80 C141.23 387.59 142.38 388.82 143.90 389.06 C145.42 389.30 147.15 388.14 149.00 387.24 C150.85 386.33 152.90 384.49 155.00 383.65 C157.10 382.81 159.77 382.04 161.60 382.20 C163.43 382.36 164.00 383.28 166.00 384.63 C168.00 385.98 171.27 388.51 173.60 390.27 C175.93 392.03 177.27 393.21 180.00 395.19 C182.73 397.18 186.88 400.30 190.00 402.19 C193.12 404.09 194.15 405.34 198.70 406.56 C203.25 407.79 207.97 408.56 217.30 409.55 C226.63 410.55 240.33 411.87 254.70 412.53 C269.07 413.18 295.37 413.34 303.50 413.50" fill="none" stroke="#66ee66" stroke-width="1.4" stroke-linejoin="round" stroke-linecap="round" />
<path d="M48.00 413.30 C50.00 413.30 57.32 413.35 60.00 413.30 C62.68 413.25 62.77 413.38 64.10 413.00 C65.43 412.62 66.52 412.33 68.00 411.00 C69.48 409.67 71.10 407.93 73.00 405.00 C74.90 402.07 77.73 398.73 79.40 393.40 C81.07 388.07 81.87 380.07 83.00 373.00 C84.13 365.93 84.97 360.33 86.20 351.00 C87.43 341.67 88.85 329.50 90.40 317.00 C91.95 304.50 93.58 285.77 95.50 276.00 C97.42 266.23 100.18 260.40 101.90 258.40 C103.62 256.40 104.75 260.38 105.80 264.00 C106.85 267.62 107.40 274.80 108.20 280.10 C109.00 285.40 109.80 291.38 110.60 295.80 C111.40 300.22 112.00 302.98 113.00 306.60 C114.00 310.22 115.20 313.60 116.60 317.50 C118.00 321.40 120.08 326.25 121.40 330.00 C122.72 333.75 123.40 336.50 124.50 340.00 C125.60 343.50 126.92 347.50 128.00 351.00 C129.08 354.50 129.67 356.67 131.00 361.00 C132.33 365.33 134.50 373.08 136.00 377.00 C137.50 380.92 138.68 382.70 140.00 384.50 C141.32 386.30 142.40 387.55 143.90 387.80 C145.40 388.05 147.15 386.80 149.00 386.00 C150.85 385.20 152.90 383.63 155.00 383.00 C157.10 382.37 159.77 381.95 161.60 382.20 C163.43 382.45 164.00 383.20 166.00 384.50 C168.00 385.80 171.27 388.25 173.60 390.00 C175.93 391.75 177.27 393.00 180.00 395.00 C182.73 397.00 186.88 400.08 190.00 402.00 C193.12 403.92 194.15 405.25 198.70 406.50 C203.25 407.75 207.97 408.50 217.30 409.50 C226.63 410.50 240.33 411.83 254.70 412.50 C269.07 413.17 295.37 413.33 303.50 413.50" fill="none" stroke="#f5a050" stroke-width="1.4" stroke-linejoin="round" stroke-linecap="round" />
</g>
<g clip-path="url(#ce)">
<path d="M48.00 662.30 C51.50 662.30 63.63 663.27 69.00 662.30 C74.37 661.33 77.53 659.72 80.20 656.50 C82.87 653.28 83.67 647.92 85.00 643.00 C86.33 638.08 87.13 633.17 88.20 627.00 C89.27 620.83 90.35 613.00 91.40 606.00 C92.45 599.00 93.30 593.33 94.50 585.00 C95.70 576.67 97.43 562.17 98.60 556.00 C99.77 549.83 100.60 550.50 101.50 548.00 C102.40 545.50 102.88 543.25 104.00 541.00 C105.12 538.75 106.70 538.00 108.20 534.50 C109.70 531.00 111.62 523.38 113.00 520.00 C114.38 516.62 115.32 515.57 116.50 514.20 C117.68 512.83 118.70 512.60 120.10 511.80 C121.50 511.00 123.28 509.00 124.90 509.40 C126.52 509.80 128.38 511.18 129.80 514.20 C131.22 517.22 132.40 523.20 133.40 527.50 C134.40 531.80 135.18 536.23 135.80 540.00 C136.42 543.77 136.22 545.10 137.10 550.10 C137.98 555.10 139.37 564.12 141.10 570.00 C142.83 575.88 145.43 585.40 147.50 585.40 C149.57 585.40 151.68 577.85 153.50 570.00 C155.32 562.15 157.05 546.63 158.40 538.30 C159.75 529.97 160.78 524.22 161.60 520.00 C162.42 515.78 162.32 516.98 163.30 513.00 C164.28 509.02 166.30 499.62 167.50 496.10 C168.70 492.58 169.20 491.28 170.50 491.90 C171.80 492.52 173.90 497.48 175.30 499.80 C176.70 502.12 177.70 503.80 178.90 505.80 C180.10 507.80 181.30 508.78 182.50 511.80 C183.70 514.82 185.12 520.87 186.10 523.90 C187.08 526.93 187.20 524.37 188.40 530.00 C189.60 535.63 191.68 550.27 193.30 557.70 C194.92 565.13 196.30 570.38 198.10 574.60 C199.90 578.82 202.30 579.78 204.10 583.00 C205.90 586.22 207.30 589.40 208.90 593.90 C210.50 598.40 212.43 605.98 213.70 610.00 C214.97 614.02 215.53 615.65 216.50 618.00 C217.47 620.35 217.80 621.88 219.50 624.10 C221.20 626.32 224.50 628.08 226.70 631.30 C228.90 634.52 230.50 640.08 232.70 643.40 C234.90 646.72 237.28 649.30 239.90 651.20 C242.52 653.10 245.78 654.20 248.40 654.80 C251.02 655.40 253.40 654.10 255.60 654.80 C257.80 655.50 259.58 657.75 261.60 659.00 C263.62 660.25 260.72 661.75 267.70 662.30 C274.68 662.85 297.53 662.30 303.50 662.30" fill="none" stroke="#222222" stroke-width="1.2" stroke-linejoin="round" stroke-linecap="round" />
<path d="M48.00 662.30 C51.41 662.30 63.24 663.31 68.49 662.30 C73.74 661.29 76.88 659.44 79.52 656.23 C82.16 653.01 82.97 647.87 84.32 643.00 C85.67 638.13 86.53 633.17 87.62 627.00 C88.71 620.83 89.82 613.00 90.86 606.00 C91.89 599.00 92.68 593.33 93.85 585.00 C95.03 576.67 96.77 562.54 97.89 556.00 C99.00 549.46 99.78 548.87 100.56 545.75 C101.34 542.63 101.63 540.98 102.56 537.31 C103.50 533.64 104.91 528.15 106.19 523.72 C107.47 519.28 108.94 513.80 110.25 510.69 C111.56 507.58 112.69 506.68 114.04 505.06 C115.39 503.43 116.77 502.72 118.38 500.94 C119.98 499.15 122.02 495.19 123.67 494.35 C125.32 493.52 126.70 494.43 128.28 495.91 C129.86 497.40 131.86 500.61 133.15 503.27 C134.45 505.93 135.17 508.19 136.05 511.87 C136.92 515.55 137.39 519.30 138.41 525.35 C139.43 531.40 140.59 541.93 142.15 548.17 C143.72 554.42 145.96 562.42 147.81 562.82 C149.65 563.23 151.61 557.11 153.23 550.62 C154.84 544.13 156.16 531.34 157.50 523.86 C158.84 516.39 160.22 509.70 161.27 505.77 C162.32 501.84 162.63 502.76 163.79 500.29 C164.95 497.82 166.87 493.52 168.24 490.93 C169.60 488.35 170.47 485.39 171.98 484.77 C173.48 484.14 175.62 485.98 177.27 487.17 C178.91 488.37 180.37 489.72 181.85 491.94 C183.33 494.17 184.74 496.55 186.14 500.51 C187.53 504.47 188.88 510.79 190.21 515.71 C191.55 520.62 192.75 523.54 194.15 530.00 C195.54 536.46 197.13 547.69 198.60 554.44 C200.08 561.18 201.33 566.75 203.00 570.49 C204.66 574.22 206.85 574.38 208.59 576.85 C210.33 579.31 211.82 581.23 213.42 585.30 C215.03 589.36 216.77 597.08 218.22 601.23 C219.67 605.38 220.67 606.81 222.11 610.21 C223.55 613.62 224.76 618.35 226.84 621.65 C228.93 624.95 232.23 626.76 234.62 630.01 C237.01 633.25 238.85 637.65 241.17 641.12 C243.48 644.60 245.77 648.60 248.50 650.86 C251.23 653.12 254.77 654.01 257.55 654.70 C260.32 655.38 262.89 654.22 265.15 654.97 C267.42 655.72 269.12 657.95 271.12 659.17 C273.12 660.39 271.76 661.78 277.15 662.30 C282.55 662.82 299.11 662.30 303.50 662.30" fill="none" stroke="#ee2020" stroke-width="1.2" stroke-linejoin="round" stroke-linecap="round" />
<path d="M48.00 662.30 C51.35 662.30 62.94 663.35 68.11 662.30 C73.28 661.25 76.40 659.24 79.02 656.03 C81.64 652.81 82.46 647.84 83.82 643.00 C85.18 638.16 86.09 633.17 87.20 627.00 C88.30 620.83 89.43 613.00 90.46 606.00 C91.49 599.00 92.23 593.33 93.38 585.00 C94.53 576.67 96.26 562.78 97.36 556.00 C98.46 549.22 99.23 547.77 99.96 544.31 C100.70 540.85 100.91 539.68 101.76 535.24 C102.61 530.80 103.91 522.63 105.06 517.67 C106.22 512.71 107.45 508.43 108.71 505.47 C109.98 502.52 111.21 501.70 112.66 499.93 C114.11 498.16 115.69 497.18 117.41 494.84 C119.13 492.50 121.31 487.44 122.98 485.91 C124.65 484.38 125.76 485.03 127.43 485.66 C129.10 486.28 131.56 487.94 133.02 489.68 C134.47 491.42 135.14 492.79 136.18 496.10 C137.22 499.40 138.13 503.51 139.25 509.51 C140.38 515.51 141.47 526.00 142.93 532.12 C144.39 538.24 146.35 545.52 148.03 546.22 C149.71 546.93 151.55 541.64 153.03 536.37 C154.51 531.10 155.58 521.05 156.92 514.62 C158.27 508.19 159.90 501.37 161.09 497.79 C162.28 494.21 162.81 494.79 164.07 493.16 C165.33 491.53 167.20 490.10 168.65 488.04 C170.11 485.97 171.18 482.09 172.80 480.76 C174.42 479.44 176.59 479.52 178.37 480.09 C180.16 480.66 181.83 481.97 183.51 484.17 C185.19 486.37 186.84 489.04 188.47 493.29 C190.09 497.54 191.59 503.56 193.24 509.68 C194.89 515.80 196.83 522.94 198.37 530.00 C199.92 537.06 201.13 545.79 202.50 552.04 C203.87 558.28 205.03 564.08 206.60 567.46 C208.16 570.84 210.20 570.40 211.89 572.32 C213.58 574.24 215.14 575.23 216.75 578.97 C218.36 582.72 219.97 590.53 221.55 594.78 C223.13 599.03 224.45 600.31 226.24 604.49 C228.02 608.67 229.88 615.76 232.24 619.85 C234.61 623.95 237.92 625.79 240.45 629.06 C242.97 632.32 244.99 635.86 247.39 639.45 C249.79 643.04 252.01 648.08 254.83 650.61 C257.64 653.14 261.38 653.88 264.27 654.62 C267.16 655.37 269.87 654.32 272.18 655.09 C274.49 655.87 276.13 658.09 278.12 659.29 C280.11 660.50 279.87 661.80 284.10 662.30 C288.33 662.80 300.27 662.30 303.50 662.30" fill="none" stroke="#4545ee" stroke-width="1.2" stroke-linejoin="round" stroke-linecap="round" />
<path d="M48.00 662.30 C51.31 662.30 62.75 663.37 67.86 662.30 C72.97 661.23 76.08 659.11 78.68 655.89 C81.28 652.68 82.11 647.82 83.48 643.00 C84.85 638.18 85.79 633.17 86.91 627.00 C88.03 620.83 89.16 613.00 90.18 606.00 C91.21 599.00 91.92 593.33 93.06 585.00 C94.19 576.67 95.92 562.94 97.00 556.00 C98.09 549.06 98.86 547.04 99.56 543.35 C100.27 539.66 100.44 538.83 101.23 533.89 C102.03 528.95 103.25 519.03 104.33 513.72 C105.41 508.42 106.47 504.92 107.71 502.07 C108.95 499.21 110.25 498.45 111.76 496.58 C113.27 494.72 114.99 493.56 116.78 490.87 C118.58 488.17 120.85 482.39 122.53 480.41 C124.21 478.42 125.14 478.90 126.88 478.97 C128.61 479.03 131.36 479.67 132.93 480.81 C134.49 481.95 135.13 482.78 136.27 485.81 C137.42 488.83 138.62 493.05 139.81 498.95 C141.01 504.85 142.06 515.21 143.46 521.21 C144.85 527.21 146.61 534.02 148.18 534.94 C149.76 535.85 151.50 531.09 152.89 526.68 C154.28 522.27 155.19 514.14 156.54 508.46 C157.89 502.78 159.68 495.91 160.97 492.59 C162.25 489.26 162.92 489.58 164.25 488.51 C165.57 487.44 167.41 487.87 168.92 486.15 C170.44 484.42 171.65 479.93 173.34 478.15 C175.04 476.37 177.22 475.31 179.09 475.47 C180.97 475.63 182.77 476.93 184.59 479.10 C186.41 481.27 188.23 484.06 190.02 488.47 C191.80 492.89 193.42 498.66 195.30 505.58 C197.17 512.51 199.60 522.53 201.24 530.00 C202.89 537.47 203.86 544.50 205.16 550.40 C206.46 556.30 207.55 562.26 209.04 565.40 C210.54 568.54 212.47 567.70 214.13 569.24 C215.79 570.79 217.40 571.15 219.01 574.67 C220.62 578.20 222.14 586.07 223.81 590.39 C225.48 594.71 227.02 595.89 229.04 600.60 C231.06 605.30 233.35 613.99 235.92 618.63 C238.48 623.26 241.79 625.13 244.41 628.41 C247.03 631.69 249.17 634.64 251.62 638.31 C254.08 641.98 256.26 647.73 259.13 650.44 C262.00 653.15 265.87 653.78 268.84 654.57 C271.82 655.36 274.62 654.38 276.96 655.18 C279.30 655.98 280.90 658.19 282.88 659.38 C284.86 660.57 285.39 661.81 288.83 662.30 C292.26 662.79 301.05 662.30 303.50 662.30" fill="none" stroke="#117a11" stroke-width="1.2" stroke-linejoin="round" stroke-linecap="round" />
<path d="M48.00 662.30 C51.28 662.30 62.61 663.38 67.68 662.30 C72.75 661.22 75.85 659.01 78.44 655.80 C81.03 652.58 81.86 647.80 83.24 643.00 C84.62 638.20 85.58 633.17 86.70 627.00 C87.83 620.83 88.97 613.00 89.99 606.00 C91.01 599.00 91.70 593.33 92.83 585.00 C93.95 576.67 95.68 563.05 96.75 556.00 C97.83 548.95 98.60 546.53 99.29 542.69 C99.98 538.86 100.13 538.26 100.89 532.99 C101.64 527.72 102.81 516.63 103.84 511.09 C104.86 505.56 105.82 502.59 107.04 499.80 C108.26 497.01 109.61 496.28 111.16 494.35 C112.71 492.42 114.52 491.15 116.36 488.22 C118.21 485.28 120.54 479.02 122.23 476.74 C123.92 474.45 124.73 474.81 126.51 474.51 C128.28 474.20 131.23 474.16 132.87 474.90 C134.50 475.64 135.11 476.15 136.33 478.95 C137.56 481.74 138.95 485.93 140.20 491.69 C141.45 497.45 142.48 507.62 143.83 513.50 C145.18 519.38 146.80 525.91 148.29 526.97 C149.79 528.02 151.47 523.63 152.80 519.84 C154.13 516.05 154.93 509.35 156.28 504.23 C157.62 499.11 159.54 492.25 160.89 489.12 C162.24 485.98 163.00 486.12 164.37 485.41 C165.74 484.70 167.55 486.39 169.10 484.89 C170.66 483.39 171.96 478.50 173.70 476.41 C175.45 474.33 177.64 472.50 179.57 472.39 C181.51 472.27 183.39 473.59 185.31 475.72 C187.23 477.85 189.18 480.67 191.08 485.16 C192.99 489.66 194.72 495.22 196.75 502.69 C198.78 510.17 201.56 522.24 203.27 530.00 C204.99 537.76 205.78 543.59 207.03 549.25 C208.28 554.91 209.32 560.98 210.77 563.95 C212.22 566.92 214.08 565.79 215.72 567.07 C217.35 568.35 218.99 568.27 220.60 571.64 C222.22 575.01 223.67 582.93 225.40 587.30 C227.14 591.66 228.84 592.77 231.02 597.85 C233.20 602.93 235.81 612.75 238.51 617.76 C241.21 622.78 244.52 624.67 247.20 627.96 C249.89 631.25 252.12 633.78 254.61 637.50 C257.11 641.23 259.25 647.48 262.16 650.32 C265.07 653.16 269.04 653.72 272.07 654.54 C275.10 655.36 277.97 654.42 280.33 655.24 C282.69 656.06 284.27 658.26 286.24 659.44 C288.21 660.62 289.29 661.82 292.16 662.30 C295.04 662.78 301.61 662.30 303.50 662.30" fill="none" stroke="#22ee22" stroke-width="1.2" stroke-linejoin="round" stroke-linecap="round" />
<path d="M48.00 662.30 C51.25 662.30 62.47 663.40 67.50 662.30 C72.53 661.20 75.62 658.92 78.20 655.70 C80.78 652.48 81.62 647.78 83.00 643.00 C84.38 638.22 85.37 633.17 86.50 627.00 C87.63 620.83 88.78 613.00 89.80 606.00 C90.82 599.00 91.48 593.33 92.60 585.00 C93.72 576.67 95.43 563.17 96.50 556.00 C97.57 548.83 98.33 546.00 99.00 542.00 C99.67 538.00 99.78 537.63 100.50 532.00 C101.22 526.37 102.33 513.98 103.30 508.20 C104.27 502.42 105.10 500.02 106.30 497.30 C107.50 494.58 108.90 493.90 110.50 491.90 C112.10 489.90 114.00 488.50 115.90 485.30 C117.80 482.10 120.20 475.32 121.90 472.70 C123.60 470.08 124.28 470.32 126.10 469.60 C127.92 468.88 131.08 468.10 132.80 468.40 C134.52 468.70 135.10 468.78 136.40 471.40 C137.70 474.02 139.30 478.37 140.60 484.10 C141.90 489.83 142.90 499.98 144.20 505.80 C145.50 511.62 146.98 517.80 148.40 519.00 C149.82 520.20 151.43 516.20 152.70 513.00 C153.97 509.80 154.65 504.42 156.00 499.80 C157.35 495.18 159.38 488.27 160.80 485.30 C162.22 482.33 163.08 482.30 164.50 482.00 C165.92 481.70 167.70 484.75 169.30 483.50 C170.90 482.25 172.30 476.92 174.10 474.50 C175.90 472.08 178.10 469.42 180.10 469.00 C182.10 468.58 184.08 469.88 186.10 472.00 C188.12 474.12 190.18 477.07 192.20 481.70 C194.22 486.33 196.02 491.75 198.20 499.80 C200.38 507.85 203.52 521.95 205.30 530.00 C207.08 538.05 207.70 542.68 208.90 548.10 C210.10 553.52 211.10 559.70 212.50 562.50 C213.90 565.30 215.68 563.88 217.30 564.90 C218.92 565.92 220.58 565.38 222.20 568.60 C223.82 571.82 225.20 579.78 227.00 584.20 C228.80 588.62 230.65 589.65 233.00 595.10 C235.35 600.55 238.27 611.50 241.10 616.90 C243.93 622.30 247.25 624.20 250.00 627.50 C252.75 630.80 255.07 632.92 257.60 636.70 C260.13 640.48 262.25 647.23 265.20 650.20 C268.15 653.17 272.22 653.65 275.30 654.50 C278.38 655.35 281.32 654.47 283.70 655.30 C286.08 656.13 287.63 658.33 289.60 659.50 C291.57 660.67 293.18 661.83 295.50 662.30 C297.82 662.77 302.17 662.30 303.50 662.30" fill="none" stroke="#f5a050" stroke-width="1.2" stroke-linejoin="round" stroke-linecap="round" />
</g>
<g clip-path="url(#cb)">
<polyline points="388.0,161.15 389.5,161.53 391.0,161.90 392.5,162.27 394.0,162.63 395.5,162.99 397.0,163.35 398.5,163.70 400.0,164.04 401.5,164.38 403.0,164.72 404.5,165.05 406.0,165.37 407.5,165.70 409.0,166.01 410.5,166.33 412.0,166.64 413.5,166.94 415.0,167.24 416.5,167.54 418.0,167.83 419.5,168.12 421.0,168.41 422.5,168.69 424.0,168.96 425.5,169.24 427.0,169.51 428.5,169.77 430.0,170.03 431.5,170.29 433.0,170.55 434.5,170.80 436.0,171.05 437.5,171.29 439.0,171.53 440.5,171.77 442.0,172.00 443.5,172.23 445.0,172.46 446.5,172.68 448.0,172.90 449.5,173.12 451.0,173.33 452.5,173.54 454.0,173.75 455.5,173.95 457.0,174.16 458.5,174.35 460.0,174.55 461.5,174.74 463.0,174.93 464.5,175.12 466.0,175.30 467.5,175.48 469.0,175.66 470.5,175.83 472.0,176.01 473.5,176.18 475.0,176.34 476.5,176.51 478.0,176.67 479.5,176.83 481.0,176.98 482.5,177.14 484.0,177.29 485.5,177.44 487.0,177.58 488.5,177.73 490.0,177.87 491.5,178.01 493.0,178.14 494.5,178.28 496.0,178.41 497.5,178.54 499.0,178.66 500.5,178.79 502.0,178.91 503.5,179.03 505.0,179.15 506.5,179.27 508.0,179.38 509.5,179.49 511.0,179.60 512.5,179.71 514.0,179.82 515.5,179.92 517.0,180.02 518.5,180.12 520.0,180.22 521.5,180.31 523.0,180.41 524.5,180.50 526.0,180.59 527.5,180.68 529.0,180.76 530.5,180.85 532.0,180.93 533.5,181.01 535.0,181.09 536.5,181.17 538.0,181.24 539.5,181.32 541.0,181.39 542.5,181.46 544.0,181.53 545.5,181.59 547.0,181.66 548.5,181.72 550.0,181.79 551.5,181.85 553.0,181.91 554.5,181.96 556.0,182.02 557.5,182.07 559.0,182.13 560.5,182.18 562.0,182.23 563.5,182.28 565.0,182.32 566.5,182.37 568.0,182.41 569.5,182.46 571.0,182.50 572.5,182.54 574.0,182.58 575.5,182.62 577.0,182.65 578.5,182.69 580.0,182.72 581.5,182.75 583.0,182.79 584.5,182.82 586.0,182.84 587.5,182.87 589.0,182.90 590.5,182.92 592.0,182.95 593.5,182.97 595.0,182.99 596.5,183.01 598.0,183.03 599.5,183.05 601.0,183.07 602.5,183.08 604.0,183.10 605.5,183.11 607.0,183.12 608.5,183.13 610.0,183.15 611.5,183.16 613.0,183.16 614.5,183.17 616.0,183.18 617.5,183.18 619.0,183.19 620.5,183.19 622.0,183.19 623.5,183.20 625.0,183.20 626.5,183.20 628.0,183.20 629.5,183.19 631.0,183.19 632.5,183.19 634.0,183.18 635.5,183.18 637.0,183.17 638.5,183.16 640.0,183.16 641.5,183.15 643.0,183.14 644.5,183.13 646.0,183.12 647.5,183.10 649.0,183.09 650.5,183.08" fill="none" stroke="#333333" stroke-width="1.6" stroke-linejoin="round"/>
<polyline points="388.0,151.16 389.5,151.70 391.0,152.24 392.5,152.76 394.0,153.27 395.5,153.78 397.0,154.27 398.5,154.75 400.0,155.23 401.5,155.69 403.0,156.14 404.5,156.59 406.0,157.02 407.5,157.45 409.0,157.87 410.5,158.28 412.0,158.68 413.5,159.07 415.0,159.46 416.5,159.83 418.0,160.20 419.5,160.57 421.0,160.92 422.5,161.27 424.0,161.61 425.5,161.95 427.0,162.27 428.5,162.59 430.0,162.91 431.5,163.22 433.0,163.52 434.5,163.81 436.0,164.10 437.5,164.39 439.0,164.67 440.5,164.94 442.0,165.21 443.5,165.47 445.0,165.73 446.5,165.98 448.0,166.23 449.5,166.47 451.0,166.70 452.5,166.94 454.0,167.16 455.5,167.39 457.0,167.61 458.5,167.82 460.0,168.03 461.5,168.24 463.0,168.44 464.5,168.64 466.0,168.83 467.5,169.02 469.0,169.21 470.5,169.39 472.0,169.57 473.5,169.75 475.0,169.92 476.5,170.09 478.0,170.25 479.5,170.42 481.0,170.57 482.5,170.73 484.0,170.88 485.5,171.03 487.0,171.18 488.5,171.33 490.0,171.47 491.5,171.61 493.0,171.74 494.5,171.88 496.0,172.01 497.5,172.14 499.0,172.26 500.5,172.38 502.0,172.51 503.5,172.63 505.0,172.74 506.5,172.86 508.0,172.97 509.5,173.08 511.0,173.19 512.5,173.29 514.0,173.40 515.5,173.50 517.0,173.60 518.5,173.70 520.0,173.79 521.5,173.89 523.0,173.98 524.5,174.07 526.0,174.16 527.5,174.25 529.0,174.33 530.5,174.42 532.0,174.50 533.5,174.58 535.0,174.66 536.5,174.74 538.0,174.82 539.5,174.90 541.0,174.97 542.5,175.04 544.0,175.11 545.5,175.18 547.0,175.25 548.5,175.32 550.0,175.39 551.5,175.45 553.0,175.52 554.5,175.58 556.0,175.64 557.5,175.70 559.0,175.76 560.5,175.82 562.0,175.88 563.5,175.94 565.0,175.99 566.5,176.05 568.0,176.10 569.5,176.15 571.0,176.21 572.5,176.26 574.0,176.31 575.5,176.36 577.0,176.41 578.5,176.45 580.0,176.50 581.5,176.55 583.0,176.59 584.5,176.64 586.0,176.68 587.5,176.72 589.0,176.77 590.5,176.81 592.0,176.85 593.5,176.89 595.0,176.93 596.5,176.97 598.0,177.01 599.5,177.05 601.0,177.08 602.5,177.12 604.0,177.16 605.5,177.19 607.0,177.23 608.5,177.26 610.0,177.30 611.5,177.33 613.0,177.36 614.5,177.40 616.0,177.43 617.5,177.46 619.0,177.49 620.5,177.52 622.0,177.55 623.5,177.58 625.0,177.61 626.5,177.64 628.0,177.67 629.5,177.70 631.0,177.73 632.5,177.75 634.0,177.78 635.5,177.81 637.0,177.83 638.5,177.86 640.0,177.89 641.5,177.91 643.0,177.94 644.5,177.96 646.0,177.98 647.5,178.01 649.0,178.03 650.5,178.06" fill="none" stroke="#ff2020" stroke-width="1.6" stroke-linejoin="round"/>
<polyline points="388.0,143.54 389.5,144.19 391.0,144.82 392.5,145.44 394.0,146.05 395.5,146.64 397.0,147.22 398.5,147.79 400.0,148.34 401.5,148.88 403.0,149.41 404.5,149.93 406.0,150.44 407.5,150.93 409.0,151.42 410.5,151.89 412.0,152.36 413.5,152.81 415.0,153.25 416.5,153.69 418.0,154.11 419.5,154.53 421.0,154.93 422.5,155.33 424.0,155.72 425.5,156.10 427.0,156.47 428.5,156.83 430.0,157.19 431.5,157.53 433.0,157.87 434.5,158.21 436.0,158.53 437.5,158.85 439.0,159.16 440.5,159.47 442.0,159.77 443.5,160.06 445.0,160.35 446.5,160.63 448.0,160.90 449.5,161.17 451.0,161.43 452.5,161.69 454.0,161.94 455.5,162.18 457.0,162.43 458.5,162.66 460.0,162.89 461.5,163.12 463.0,163.34 464.5,163.56 466.0,163.77 467.5,163.98 469.0,164.18 470.5,164.38 472.0,164.58 473.5,164.77 475.0,164.95 476.5,165.14 478.0,165.32 479.5,165.49 481.0,165.67 482.5,165.83 484.0,166.00 485.5,166.16 487.0,166.32 488.5,166.48 490.0,166.63 491.5,166.78 493.0,166.93 494.5,167.07 496.0,167.21 497.5,167.35 499.0,167.49 500.5,167.62 502.0,167.75 503.5,167.88 505.0,168.00 506.5,168.13 508.0,168.25 509.5,168.37 511.0,168.48 512.5,168.60 514.0,168.71 515.5,168.82 517.0,168.93 518.5,169.03 520.0,169.13 521.5,169.24 523.0,169.34 524.5,169.43 526.0,169.53 527.5,169.63 529.0,169.72 530.5,169.81 532.0,169.90 533.5,169.99 535.0,170.08 536.5,170.16 538.0,170.24 539.5,170.33 541.0,170.41 542.5,170.49 544.0,170.56 545.5,170.64 547.0,170.72 548.5,170.79 550.0,170.86 551.5,170.94 553.0,171.01 554.5,171.08 556.0,171.15 557.5,171.21 559.0,171.28 560.5,171.34 562.0,171.41 563.5,171.47 565.0,171.53 566.5,171.60 568.0,171.66 569.5,171.72 571.0,171.77 572.5,171.83 574.0,171.89 575.5,171.94 577.0,172.00 578.5,172.05 580.0,172.11 581.5,172.16 583.0,172.21 584.5,172.27 586.0,172.32 587.5,172.37 589.0,172.42 590.5,172.47 592.0,172.51 593.5,172.56 595.0,172.61 596.5,172.65 598.0,172.70 599.5,172.75 601.0,172.79 602.5,172.83 604.0,172.88 605.5,172.92 607.0,172.96 608.5,173.01 610.0,173.05 611.5,173.09 613.0,173.13 614.5,173.17 616.0,173.21 617.5,173.25 619.0,173.29 620.5,173.33 622.0,173.37 623.5,173.40 625.0,173.44 626.5,173.48 628.0,173.51 629.5,173.55 631.0,173.59 632.5,173.62 634.0,173.66 635.5,173.69 637.0,173.73 638.5,173.76 640.0,173.80 641.5,173.83 643.0,173.86 644.5,173.90 646.0,173.93 647.5,173.96 649.0,174.00 650.5,174.03" fill="none" stroke="#2020ff" stroke-width="1.6" stroke-linejoin="round"/>
<polyline points="388.0,137.21 389.5,137.99 391.0,138.74 392.5,139.47 394.0,140.19 395.5,140.89 397.0,141.57 398.5,142.23 400.0,142.87 401.5,143.50 403.0,144.11 404.5,144.71 406.0,145.29 407.5,145.86 409.0,146.42 410.5,146.95 412.0,147.48 413.5,147.99 415.0,148.49 416.5,148.98 418.0,149.46 419.5,149.92 421.0,150.37 422.5,150.81 424.0,151.24 425.5,151.66 427.0,152.07 428.5,152.47 430.0,152.86 431.5,153.24 433.0,153.61 434.5,153.97 436.0,154.32 437.5,154.67 439.0,155.00 440.5,155.33 442.0,155.65 443.5,155.96 445.0,156.27 446.5,156.56 448.0,156.85 449.5,157.14 451.0,157.41 452.5,157.68 454.0,157.95 455.5,158.21 457.0,158.46 458.5,158.70 460.0,158.94 461.5,159.18 463.0,159.41 464.5,159.63 466.0,159.85 467.5,160.06 469.0,160.27 470.5,160.47 472.0,160.67 473.5,160.87 475.0,161.06 476.5,161.24 478.0,161.43 479.5,161.60 481.0,161.78 482.5,161.95 484.0,162.12 485.5,162.28 487.0,162.44 488.5,162.60 490.0,162.75 491.5,162.90 493.0,163.04 494.5,163.19 496.0,163.33 497.5,163.47 499.0,163.60 500.5,163.73 502.0,163.86 503.5,163.99 505.0,164.11 506.5,164.23 508.0,164.35 509.5,164.47 511.0,164.58 512.5,164.70 514.0,164.81 515.5,164.91 517.0,165.02 518.5,165.12 520.0,165.23 521.5,165.33 523.0,165.42 524.5,165.52 526.0,165.62 527.5,165.71 529.0,165.80 530.5,165.89 532.0,165.98 533.5,166.07 535.0,166.15 536.5,166.23 538.0,166.32 539.5,166.40 541.0,166.48 542.5,166.56 544.0,166.63 545.5,166.71 547.0,166.78 548.5,166.86 550.0,166.93 551.5,167.00 553.0,167.07 554.5,167.14 556.0,167.21 557.5,167.28 559.0,167.34 560.5,167.41 562.0,167.47 563.5,167.54 565.0,167.60 566.5,167.66 568.0,167.72 569.5,167.78 571.0,167.84 572.5,167.90 574.0,167.96 575.5,168.02 577.0,168.07 578.5,168.13 580.0,168.18 581.5,168.24 583.0,168.29 584.5,168.34 586.0,168.40 587.5,168.45 589.0,168.50 590.5,168.55 592.0,168.60 593.5,168.65 595.0,168.70 596.5,168.75 598.0,168.80 599.5,168.85 601.0,168.90 602.5,168.94 604.0,168.99 605.5,169.04 607.0,169.08 608.5,169.13 610.0,169.17 611.5,169.22 613.0,169.26 614.5,169.31 616.0,169.35 617.5,169.39 619.0,169.44 620.5,169.48 622.0,169.52 623.5,169.56 625.0,169.60 626.5,169.65 628.0,169.69 629.5,169.73 631.0,169.77 632.5,169.81 634.0,169.85 635.5,169.89 637.0,169.93 638.5,169.97 640.0,170.01 641.5,170.05 643.0,170.09 644.5,170.12 646.0,170.16 647.5,170.20 649.0,170.24 650.5,170.28" fill="none" stroke="#ff30ff" stroke-width="1.6" stroke-linejoin="round"/>
<polyline points="388.0,131.62 389.5,132.49 391.0,133.33 392.5,134.15 394.0,134.94 395.5,135.71 397.0,136.46 398.5,137.19 400.0,137.90 401.5,138.60 403.0,139.27 404.5,139.92 406.0,140.55 407.5,141.17 409.0,141.77 410.5,142.36 412.0,142.92 413.5,143.48 415.0,144.01 416.5,144.54 418.0,145.05 419.5,145.54 421.0,146.02 422.5,146.49 424.0,146.95 425.5,147.39 427.0,147.83 428.5,148.25 430.0,148.66 431.5,149.06 433.0,149.44 434.5,149.82 436.0,150.19 437.5,150.55 439.0,150.90 440.5,151.24 442.0,151.57 443.5,151.90 445.0,152.21 446.5,152.52 448.0,152.82 449.5,153.11 451.0,153.40 452.5,153.67 454.0,153.94 455.5,154.21 457.0,154.47 458.5,154.72 460.0,154.96 461.5,155.20 463.0,155.44 464.5,155.66 466.0,155.89 467.5,156.10 469.0,156.32 470.5,156.52 472.0,156.73 473.5,156.92 475.0,157.12 476.5,157.30 478.0,157.49 479.5,157.67 481.0,157.85 482.5,158.02 484.0,158.19 485.5,158.35 487.0,158.51 488.5,158.67 490.0,158.83 491.5,158.98 493.0,159.13 494.5,159.27 496.0,159.41 497.5,159.55 499.0,159.69 500.5,159.82 502.0,159.95 503.5,160.08 505.0,160.21 506.5,160.33 508.0,160.45 509.5,160.57 511.0,160.69 512.5,160.81 514.0,160.92 515.5,161.03 517.0,161.14 518.5,161.24 520.0,161.35 521.5,161.45 523.0,161.55 524.5,161.65 526.0,161.75 527.5,161.85 529.0,161.94 530.5,162.04 532.0,162.13 533.5,162.22 535.0,162.31 536.5,162.40 538.0,162.48 539.5,162.57 541.0,162.65 542.5,162.74 544.0,162.82 545.5,162.90 547.0,162.98 548.5,163.06 550.0,163.14 551.5,163.21 553.0,163.29 554.5,163.36 556.0,163.44 557.5,163.51 559.0,163.58 560.5,163.65 562.0,163.72 563.5,163.79 565.0,163.86 566.5,163.93 568.0,164.00 569.5,164.07 571.0,164.13 572.5,164.20 574.0,164.26 575.5,164.33 577.0,164.39 578.5,164.46 580.0,164.52 581.5,164.58 583.0,164.64 584.5,164.70 586.0,164.76 587.5,164.82 589.0,164.88 590.5,164.94 592.0,165.00 593.5,165.06 595.0,165.12 596.5,165.18 598.0,165.23 599.5,165.29 601.0,165.35 602.5,165.40 604.0,165.46 605.5,165.51 607.0,165.57 608.5,165.62 610.0,165.68 611.5,165.73 613.0,165.79 614.5,165.84 616.0,165.89 617.5,165.95 619.0,166.00 620.5,166.05 622.0,166.10 623.5,166.16 625.0,166.21 626.5,166.26 628.0,166.31 629.5,166.36 631.0,166.41 632.5,166.46 634.0,166.51 635.5,166.56 637.0,166.61 638.5,166.67 640.0,166.71 641.5,166.76 643.0,166.81 644.5,166.86 646.0,166.91 647.5,166.96 649.0,167.01 650.5,167.06" fill="none" stroke="#2e8b2e" stroke-width="1.6" stroke-linejoin="round"/>
<polyline points="388.0,126.60 389.5,127.52 391.0,128.41 392.5,129.28 394.0,130.12 395.5,130.93 397.0,131.73 398.5,132.50 400.0,133.25 401.5,133.98 403.0,134.68 404.5,135.37 406.0,136.04 407.5,136.69 409.0,137.32 410.5,137.93 412.0,138.53 413.5,139.11 415.0,139.67 416.5,140.22 418.0,140.75 419.5,141.27 421.0,141.78 422.5,142.27 424.0,142.74 425.5,143.21 427.0,143.66 428.5,144.10 430.0,144.53 431.5,144.94 433.0,145.35 434.5,145.74 436.0,146.13 437.5,146.50 439.0,146.86 440.5,147.22 442.0,147.56 443.5,147.90 445.0,148.23 446.5,148.55 448.0,148.86 449.5,149.16 451.0,149.46 452.5,149.75 454.0,150.03 455.5,150.30 457.0,150.57 458.5,150.83 460.0,151.08 461.5,151.33 463.0,151.57 464.5,151.81 466.0,152.04 467.5,152.26 469.0,152.48 470.5,152.70 472.0,152.91 473.5,153.11 475.0,153.31 476.5,153.51 478.0,153.70 479.5,153.88 481.0,154.07 482.5,154.25 484.0,154.42 485.5,154.59 487.0,154.76 488.5,154.92 490.0,155.08 491.5,155.24 493.0,155.39 494.5,155.54 496.0,155.69 497.5,155.84 499.0,155.98 500.5,156.12 502.0,156.25 503.5,156.39 505.0,156.52 506.5,156.65 508.0,156.77 509.5,156.90 511.0,157.02 512.5,157.14 514.0,157.25 515.5,157.37 517.0,157.48 518.5,157.60 520.0,157.70 521.5,157.81 523.0,157.92 524.5,158.02 526.0,158.13 527.5,158.23 529.0,158.33 530.5,158.42 532.0,158.52 533.5,158.62 535.0,158.71 536.5,158.80 538.0,158.89 539.5,158.98 541.0,159.07 542.5,159.16 544.0,159.25 545.5,159.33 547.0,159.42 548.5,159.50 550.0,159.58 551.5,159.66 553.0,159.74 554.5,159.82 556.0,159.90 557.5,159.98 559.0,160.06 560.5,160.13 562.0,160.21 563.5,160.28 565.0,160.36 566.5,160.43 568.0,160.50 569.5,160.57 571.0,160.65 572.5,160.72 574.0,160.79 575.5,160.85 577.0,160.92 578.5,160.99 580.0,161.06 581.5,161.13 583.0,161.19 584.5,161.26 586.0,161.32 587.5,161.39 589.0,161.45 590.5,161.52 592.0,161.58 593.5,161.65 595.0,161.71 596.5,161.77 598.0,161.83 599.5,161.89 601.0,161.96 602.5,162.02 604.0,162.08 605.5,162.14 607.0,162.20 608.5,162.26 610.0,162.32 611.5,162.38 613.0,162.44 614.5,162.50 616.0,162.55 617.5,162.61 619.0,162.67 620.5,162.73 622.0,162.79 623.5,162.84 625.0,162.90 626.5,162.96 628.0,163.01 629.5,163.07 631.0,163.13 632.5,163.18 634.0,163.24 635.5,163.29 637.0,163.35 638.5,163.40 640.0,163.46 641.5,163.51 643.0,163.57 644.5,163.62 646.0,163.68 647.5,163.73 649.0,163.79 650.5,163.84" fill="none" stroke="#20208a" stroke-width="1.6" stroke-linejoin="round"/>
</g>
<g clip-path="url(#cd)">
<polyline points="388.0,343.27 388.8,345.75 389.5,348.16 390.2,350.51 391.0,352.81 391.8,355.04 392.5,357.23 393.2,359.36 394.0,361.43 394.8,363.46 395.5,365.43 396.2,367.36 397.0,369.24 397.8,371.07 398.5,372.86 399.2,374.60 400.0,376.30 400.8,377.96 401.5,379.58 402.2,381.15 403.0,382.69 403.8,384.19 404.5,385.65 405.2,387.08 406.0,388.47 406.8,389.83 407.5,391.15 408.2,392.44 409.0,393.70 409.8,394.93 410.5,396.13 411.2,397.30 412.0,398.44 412.8,399.55 413.5,400.63 414.2,401.69 415.0,402.72 415.8,403.72 416.5,404.70 417.2,405.66 418.0,406.59 418.8,407.50 419.5,408.39 420.2,409.25 421.0,410.10 421.8,410.92 422.5,411.72 423.2,412.50 424.0,413.27 424.8,414.01 425.5,414.74 426.2,415.45 427.0,416.14 427.8,416.81 428.5,417.47 429.2,418.11 430.0,418.73 430.8,419.34 431.5,419.94 432.2,420.52 433.0,421.08 433.8,421.63 434.5,422.17 435.2,422.70 436.0,423.21 436.8,423.71 437.5,424.19 438.2,424.67 439.0,425.13 439.8,425.58 440.5,426.02 441.2,426.45 442.0,426.87 442.8,427.28 443.5,427.68 444.2,428.07 445.0,428.44 445.8,428.81 446.5,429.17 447.2,429.53 448.0,429.87 448.8,430.20 449.5,430.53 450.2,430.85 451.0,431.16 451.8,431.46 452.5,431.75 453.2,432.04 454.0,432.32 454.8,432.60 455.5,432.86 456.2,433.12 457.0,433.38 457.8,433.63 458.5,433.87 459.2,434.10 460.0,434.33 460.8,434.56 461.5,434.77 462.2,434.99 463.0,435.20 463.8,435.40 464.5,435.60 465.2,435.79 466.0,435.98 466.8,436.16 467.5,436.34 468.2,436.51 469.0,436.68 469.8,436.85 470.5,437.01 471.2,437.17 472.0,437.32 472.8,437.47 473.5,437.62 474.2,437.76 475.0,437.90 475.8,438.04 476.5,438.17 477.2,438.30 478.0,438.43 478.8,438.55 479.5,438.67 480.2,438.79 481.0,438.90 481.8,439.01 482.5,439.12 483.2,439.22 484.0,439.33 484.8,439.43 485.5,439.53 486.2,439.62 487.0,439.72 487.8,439.81 488.5,439.90 489.2,439.98 490.0,440.07 490.8,440.15 491.5,440.23 492.2,440.31 493.0,440.38 493.8,440.46 494.5,440.53 495.2,440.60 496.0,440.67 496.8,440.74 497.5,440.80 498.2,440.87 499.0,440.93 499.8,440.99 500.5,441.05 501.2,441.11 502.0,441.17 502.8,441.22 503.5,441.28 504.2,441.33 505.0,441.38 505.8,441.43 506.5,441.48 507.2,441.53 508.0,441.57 508.8,441.62 509.5,441.66 510.2,441.70 511.0,441.75 511.8,441.79 512.5,441.83 513.2,441.87 514.0,441.90 514.8,441.94 515.5,441.98 516.2,442.01 517.0,442.05 517.8,442.08 518.5,442.11 519.2,442.14 520.0,442.17 520.8,442.20 521.5,442.23 522.2,442.26 523.0,442.29 523.8,442.32 524.5,442.35 525.2,442.37 526.0,442.40 526.8,442.42 527.5,442.45 528.2,442.47 529.0,442.49 529.8,442.51 530.5,442.54 531.2,442.56 532.0,442.58 532.8,442.60 533.5,442.62 534.2,442.64 535.0,442.66 535.8,442.68 536.5,442.69 537.2,442.71 538.0,442.73 538.8,442.74 539.5,442.76 540.2,442.78 541.0,442.79 541.8,442.81 542.5,442.82 543.2,442.84 544.0,442.85 544.8,442.86 545.5,442.88 546.2,442.89 547.0,442.90 547.8,442.91 548.5,442.93 549.2,442.94 550.0,442.95 550.8,442.96 551.5,442.97 552.2,442.98 553.0,442.99 553.8,443.00 554.5,443.01 555.2,443.02 556.0,443.03 556.8,443.04 557.5,443.05 558.2,443.06 559.0,443.07 559.8,443.07 560.5,443.08 561.2,443.09 562.0,443.10 562.8,443.11 563.5,443.11 564.2,443.12 565.0,443.13 565.8,443.13 566.5,443.14 567.2,443.15 568.0,443.15 568.8,443.16 569.5,443.16 570.2,443.17 571.0,443.18 571.8,443.18 572.5,443.19 573.2,443.19 574.0,443.20 574.8,443.20 575.5,443.21 576.2,443.21 577.0,443.22 577.8,443.22 578.5,443.23 579.2,443.23 580.0,443.23 580.8,443.24 581.5,443.24 582.2,443.25 583.0,443.25 583.8,443.25 584.5,443.26 585.2,443.26 586.0,443.26 586.8,443.27 587.5,443.27 588.2,443.27 589.0,443.28 589.8,443.28 590.5,443.28 591.2,443.29 592.0,443.29 592.8,443.29 593.5,443.29 594.2,443.30 595.0,443.30 595.8,443.30 596.5,443.30 597.2,443.31 598.0,443.31 598.8,443.31 599.5,443.31 600.2,443.32 601.0,443.32 601.8,443.32 602.5,443.32 603.2,443.32 604.0,443.33 604.8,443.33 605.5,443.33 606.2,443.33 607.0,443.33 607.8,443.33 608.5,443.34 609.2,443.34 610.0,443.34 610.8,443.34 611.5,443.34 612.2,443.34 613.0,443.34 613.8,443.35 614.5,443.35 615.2,443.35 616.0,443.35 616.8,443.35 617.5,443.35 618.2,443.35 619.0,443.35 619.8,443.36 620.5,443.36 621.2,443.36 622.0,443.36 622.8,443.36 623.5,443.36 624.2,443.36 625.0,443.36 625.8,443.36 626.5,443.36 627.2,443.37 628.0,443.37 628.8,443.37 629.5,443.37 630.2,443.37 631.0,443.37 631.8,443.37 632.5,443.37 633.2,443.37 634.0,443.37 634.8,443.37 635.5,443.37 636.2,443.37 637.0,443.38 637.8,443.38 638.5,443.38 639.2,443.38 640.0,443.38 640.8,443.38 641.5,443.38 642.2,443.38 643.0,443.38 643.8,443.38 644.5,443.38 645.2,443.38 646.0,443.38 646.8,443.38 647.5,443.38 648.2,443.38 649.0,443.38 649.8,443.38" fill="none" stroke="#222222" stroke-width="1.5" stroke-linejoin="round"/>
<polyline points="388.0,327.00 388.8,334.46 389.5,339.17 390.2,342.55 391.0,345.29 391.8,347.69 392.5,349.91 393.2,352.02 394.0,354.05 394.8,356.03 395.5,357.96 396.2,359.84 397.0,361.68 397.8,363.48 398.5,365.24 399.2,366.96 400.0,368.64 400.8,370.28 401.5,371.89 402.2,373.46 403.0,375.00 403.8,376.51 404.5,377.98 405.2,379.42 406.0,380.82 406.8,382.20 407.5,383.55 408.2,384.86 409.0,386.15 409.8,387.41 410.5,388.64 411.2,389.85 412.0,391.02 412.8,392.18 413.5,393.30 414.2,394.40 415.0,395.48 415.8,396.54 416.5,397.57 417.2,398.57 418.0,399.56 418.8,400.53 419.5,401.47 420.2,402.39 421.0,403.29 421.8,404.17 422.5,405.04 423.2,405.88 424.0,406.71 424.8,407.51 425.5,408.30 426.2,409.07 427.0,409.83 427.8,410.57 428.5,411.29 429.2,412.00 430.0,412.69 430.8,413.36 431.5,414.02 432.2,414.67 433.0,415.30 433.8,415.92 434.5,416.52 435.2,417.12 436.0,417.69 436.8,418.26 437.5,418.81 438.2,419.35 439.0,419.88 439.8,420.40 440.5,420.90 441.2,421.40 442.0,421.88 442.8,422.36 443.5,422.82 444.2,423.27 445.0,423.72 445.8,424.15 446.5,424.57 447.2,424.99 448.0,425.39 448.8,425.79 449.5,426.17 450.2,426.55 451.0,426.92 451.8,427.29 452.5,427.64 453.2,427.99 454.0,428.33 454.8,428.66 455.5,428.98 456.2,429.30 457.0,429.61 457.8,429.91 458.5,430.21 459.2,430.50 460.0,430.78 460.8,431.06 461.5,431.33 462.2,431.60 463.0,431.86 463.8,432.11 464.5,432.36 465.2,432.60 466.0,432.84 466.8,433.07 467.5,433.30 468.2,433.52 469.0,433.74 469.8,433.95 470.5,434.16 471.2,434.36 472.0,434.56 472.8,434.76 473.5,434.95 474.2,435.13 475.0,435.31 475.8,435.49 476.5,435.67 477.2,435.84 478.0,436.00 478.8,436.16 479.5,436.32 480.2,436.48 481.0,436.63 481.8,436.78 482.5,436.93 483.2,437.07 484.0,437.21 484.8,437.34 485.5,437.48 486.2,437.61 487.0,437.73 487.8,437.86 488.5,437.98 489.2,438.10 490.0,438.22 490.8,438.33 491.5,438.44 492.2,438.55 493.0,438.66 493.8,438.76 494.5,438.86 495.2,438.96 496.0,439.06 496.8,439.16 497.5,439.25 498.2,439.34 499.0,439.43 499.8,439.52 500.5,439.60 501.2,439.69 502.0,439.77 502.8,439.85 503.5,439.93 504.2,440.00 505.0,440.08 505.8,440.15 506.5,440.22 507.2,440.29 508.0,440.36 508.8,440.43 509.5,440.49 510.2,440.56 511.0,440.62 511.8,440.68 512.5,440.74 513.2,440.80 514.0,440.86 514.8,440.91 515.5,440.97 516.2,441.02 517.0,441.07 517.8,441.12 518.5,441.17 519.2,441.22 520.0,441.27 520.8,441.32 521.5,441.36 522.2,441.41 523.0,441.45 523.8,441.49 524.5,441.54 525.2,441.58 526.0,441.62 526.8,441.66 527.5,441.70 528.2,441.73 529.0,441.77 529.8,441.81 530.5,441.84 531.2,441.87 532.0,441.91 532.8,441.94 533.5,441.97 534.2,442.00 535.0,442.04 535.8,442.07 536.5,442.09 537.2,442.12 538.0,442.15 538.8,442.18 539.5,442.21 540.2,442.23 541.0,442.26 541.8,442.28 542.5,442.31 543.2,442.33 544.0,442.35 544.8,442.38 545.5,442.40 546.2,442.42 547.0,442.44 547.8,442.46 548.5,442.49 549.2,442.51 550.0,442.53 550.8,442.54 551.5,442.56 552.2,442.58 553.0,442.60 553.8,442.62 554.5,442.63 555.2,442.65 556.0,442.67 556.8,442.68 557.5,442.70 558.2,442.72 559.0,442.73 559.8,442.74 560.5,442.76 561.2,442.77 562.0,442.79 562.8,442.80 563.5,442.81 564.2,442.83 565.0,442.84 565.8,442.85 566.5,442.86 567.2,442.88 568.0,442.89 568.8,442.90 569.5,442.91 570.2,442.92 571.0,442.93 571.8,442.94 572.5,442.95 573.2,442.96 574.0,442.97 574.8,442.98 575.5,442.99 576.2,443.00 577.0,443.01 577.8,443.02 578.5,443.02 579.2,443.03 580.0,443.04 580.8,443.05 581.5,443.06 582.2,443.06 583.0,443.07 583.8,443.08 584.5,443.09 585.2,443.09 586.0,443.10 586.8,443.11 587.5,443.11 588.2,443.12 589.0,443.12 589.8,443.13 590.5,443.14 591.2,443.14 592.0,443.15 592.8,443.15 593.5,443.16 594.2,443.16 595.0,443.17 595.8,443.17 596.5,443.18 597.2,443.18 598.0,443.19 598.8,443.19 599.5,443.20 600.2,443.20 601.0,443.21 601.8,443.21 602.5,443.22 603.2,443.22 604.0,443.22 604.8,443.23 605.5,443.23 606.2,443.24 607.0,443.24 607.8,443.24 608.5,443.25 609.2,443.25 610.0,443.25 610.8,443.26 611.5,443.26 612.2,443.26 613.0,443.26 613.8,443.27 614.5,443.27 615.2,443.27 616.0,443.28 616.8,443.28 617.5,443.28 618.2,443.28 619.0,443.29 619.8,443.29 620.5,443.29 621.2,443.29 622.0,443.30 622.8,443.30 623.5,443.30 624.2,443.30 625.0,443.31 625.8,443.31 626.5,443.31 627.2,443.31 628.0,443.31 628.8,443.32 629.5,443.32 630.2,443.32 631.0,443.32 631.8,443.32 632.5,443.32 633.2,443.33 634.0,443.33 634.8,443.33 635.5,443.33 636.2,443.33 637.0,443.33 637.8,443.34 638.5,443.34 639.2,443.34 640.0,443.34 640.8,443.34 641.5,443.34 642.2,443.34 643.0,443.34 643.8,443.35 644.5,443.35 645.2,443.35 646.0,443.35 646.8,443.35 647.5,443.35 648.2,443.35 649.0,443.35 649.8,443.35" fill="none" stroke="#ff2020" stroke-width="1.5" stroke-linejoin="round"/>
<polyline points="388.0,309.57 388.8,313.82 389.5,317.83 390.2,321.62 391.0,325.21 391.8,328.61 392.5,331.85 393.2,334.93 394.0,337.87 394.8,340.68 395.5,343.36 396.2,345.93 397.0,348.39 397.8,350.75 398.5,353.03 399.2,355.21 400.0,357.32 400.8,359.35 401.5,361.31 402.2,363.21 403.0,365.04 403.8,366.82 404.5,368.54 405.2,370.21 406.0,371.83 406.8,373.40 407.5,374.93 408.2,376.41 409.0,377.86 409.8,379.26 410.5,380.63 411.2,381.97 412.0,383.27 412.8,384.54 413.5,385.78 414.2,386.98 415.0,388.16 415.8,389.31 416.5,390.44 417.2,391.53 418.0,392.61 418.8,393.65 419.5,394.68 420.2,395.68 421.0,396.66 421.8,397.62 422.5,398.56 423.2,399.47 424.0,400.37 424.8,401.25 425.5,402.11 426.2,402.95 427.0,403.77 427.8,404.57 428.5,405.36 429.2,406.13 430.0,406.89 430.8,407.63 431.5,408.36 432.2,409.07 433.0,409.76 433.8,410.44 434.5,411.11 435.2,411.76 436.0,412.40 436.8,413.03 437.5,413.64 438.2,414.24 439.0,414.83 439.8,415.41 440.5,415.97 441.2,416.53 442.0,417.07 442.8,417.60 443.5,418.12 444.2,418.63 445.0,419.13 445.8,419.62 446.5,420.10 447.2,420.57 448.0,421.03 448.8,421.48 449.5,421.92 450.2,422.35 451.0,422.78 451.8,423.19 452.5,423.60 453.2,424.00 454.0,424.39 454.8,424.77 455.5,425.15 456.2,425.52 457.0,425.88 457.8,426.23 458.5,426.58 459.2,426.91 460.0,427.25 460.8,427.57 461.5,427.89 462.2,428.20 463.0,428.51 463.8,428.81 464.5,429.10 465.2,429.39 466.0,429.67 466.8,429.95 467.5,430.22 468.2,430.49 469.0,430.75 469.8,431.00 470.5,431.25 471.2,431.50 472.0,431.74 472.8,431.97 473.5,432.20 474.2,432.43 475.0,432.65 475.8,432.86 476.5,433.08 477.2,433.28 478.0,433.49 478.8,433.69 479.5,433.88 480.2,434.07 481.0,434.26 481.8,434.45 482.5,434.63 483.2,434.80 484.0,434.98 484.8,435.15 485.5,435.31 486.2,435.48 487.0,435.64 487.8,435.79 488.5,435.94 489.2,436.09 490.0,436.24 490.8,436.39 491.5,436.53 492.2,436.67 493.0,436.80 493.8,436.93 494.5,437.06 495.2,437.19 496.0,437.32 496.8,437.44 497.5,437.56 498.2,437.68 499.0,437.79 499.8,437.91 500.5,438.02 501.2,438.12 502.0,438.23 502.8,438.33 503.5,438.44 504.2,438.54 505.0,438.63 505.8,438.73 506.5,438.82 507.2,438.92 508.0,439.01 508.8,439.10 509.5,439.18 510.2,439.27 511.0,439.35 511.8,439.43 512.5,439.51 513.2,439.59 514.0,439.67 514.8,439.74 515.5,439.82 516.2,439.89 517.0,439.96 517.8,440.03 518.5,440.10 519.2,440.16 520.0,440.23 520.8,440.29 521.5,440.35 522.2,440.42 523.0,440.48 523.8,440.53 524.5,440.59 525.2,440.65 526.0,440.70 526.8,440.76 527.5,440.81 528.2,440.86 529.0,440.91 529.8,440.97 530.5,441.01 531.2,441.06 532.0,441.11 532.8,441.16 533.5,441.20 534.2,441.24 535.0,441.29 535.8,441.33 536.5,441.37 537.2,441.41 538.0,441.45 538.8,441.49 539.5,441.53 540.2,441.57 541.0,441.61 541.8,441.64 542.5,441.68 543.2,441.71 544.0,441.75 544.8,441.78 545.5,441.81 546.2,441.84 547.0,441.88 547.8,441.91 548.5,441.94 549.2,441.97 550.0,441.99 550.8,442.02 551.5,442.05 552.2,442.08 553.0,442.10 553.8,442.13 554.5,442.16 555.2,442.18 556.0,442.21 556.8,442.23 557.5,442.25 558.2,442.28 559.0,442.30 559.8,442.32 560.5,442.34 561.2,442.36 562.0,442.38 562.8,442.41 563.5,442.43 564.2,442.44 565.0,442.46 565.8,442.48 566.5,442.50 567.2,442.52 568.0,442.54 568.8,442.55 569.5,442.57 570.2,442.59 571.0,442.60 571.8,442.62 572.5,442.64 573.2,442.65 574.0,442.67 574.8,442.68 575.5,442.70 576.2,442.71 577.0,442.72 577.8,442.74 578.5,442.75 579.2,442.76 580.0,442.78 580.8,442.79 581.5,442.80 582.2,442.81 583.0,442.83 583.8,442.84 584.5,442.85 585.2,442.86 586.0,442.87 586.8,442.88 587.5,442.89 588.2,442.90 589.0,442.91 589.8,442.92 590.5,442.93 591.2,442.94 592.0,442.95 592.8,442.96 593.5,442.97 594.2,442.98 595.0,442.99 595.8,442.99 596.5,443.00 597.2,443.01 598.0,443.02 598.8,443.03 599.5,443.03 600.2,443.04 601.0,443.05 601.8,443.05 602.5,443.06 603.2,443.07 604.0,443.08 604.8,443.08 605.5,443.09 606.2,443.09 607.0,443.10 607.8,443.11 608.5,443.11 609.2,443.12 610.0,443.12 610.8,443.13 611.5,443.13 612.2,443.14 613.0,443.15 613.8,443.15 614.5,443.16 615.2,443.16 616.0,443.17 616.8,443.17 617.5,443.17 618.2,443.18 619.0,443.18 619.8,443.19 620.5,443.19 621.2,443.20 622.0,443.20 622.8,443.20 623.5,443.21 624.2,443.21 625.0,443.22 625.8,443.22 626.5,443.22 627.2,443.23 628.0,443.23 628.8,443.23 629.5,443.24 630.2,443.24 631.0,443.24 631.8,443.25 632.5,443.25 633.2,443.25 634.0,443.26 634.8,443.26 635.5,443.26 636.2,443.26 637.0,443.27 637.8,443.27 638.5,443.27 639.2,443.28 640.0,443.28 640.8,443.28 641.5,443.28 642.2,443.28 643.0,443.29 643.8,443.29 644.5,443.29 645.2,443.29 646.0,443.30 646.8,443.30 647.5,443.30 648.2,443.30 649.0,443.30 649.8,443.31" fill="none" stroke="#2020ff" stroke-width="1.5" stroke-linejoin="round"/>
<polyline points="388.0,290.34 388.8,296.43 389.5,302.04 390.2,307.21 391.0,311.98 391.8,316.41 392.5,320.52 393.2,324.35 394.0,327.93 394.8,331.28 395.5,334.43 396.2,337.39 397.0,340.18 397.8,342.83 398.5,345.33 399.2,347.72 400.0,349.99 400.8,352.16 401.5,354.23 402.2,356.22 403.0,358.13 403.8,359.97 404.5,361.74 405.2,363.44 406.0,365.10 406.8,366.69 407.5,368.24 408.2,369.74 409.0,371.20 409.8,372.62 410.5,374.00 411.2,375.34 412.0,376.65 412.8,377.93 413.5,379.17 414.2,380.39 415.0,381.57 415.8,382.73 416.5,383.87 417.2,384.98 418.0,386.07 418.8,387.13 419.5,388.17 420.2,389.19 421.0,390.19 421.8,391.17 422.5,392.13 423.2,393.07 424.0,393.99 424.8,394.89 425.5,395.78 426.2,396.65 427.0,397.50 427.8,398.33 428.5,399.16 429.2,399.96 430.0,400.75 430.8,401.53 431.5,402.29 432.2,403.03 433.0,403.77 433.8,404.48 434.5,405.19 435.2,405.88 436.0,406.56 436.8,407.23 437.5,407.89 438.2,408.53 439.0,409.16 439.8,409.78 440.5,410.39 441.2,410.99 442.0,411.58 442.8,412.15 443.5,412.72 444.2,413.27 445.0,413.82 445.8,414.35 446.5,414.88 447.2,415.39 448.0,415.90 448.8,416.40 449.5,416.89 450.2,417.37 451.0,417.84 451.8,418.30 452.5,418.75 453.2,419.20 454.0,419.64 454.8,420.07 455.5,420.49 456.2,420.90 457.0,421.31 457.8,421.71 458.5,422.10 459.2,422.49 460.0,422.87 460.8,423.24 461.5,423.60 462.2,423.96 463.0,424.31 463.8,424.66 464.5,425.00 465.2,425.33 466.0,425.66 466.8,425.98 467.5,426.29 468.2,426.60 469.0,426.91 469.8,427.20 470.5,427.50 471.2,427.78 472.0,428.07 472.8,428.34 473.5,428.62 474.2,428.88 475.0,429.15 475.8,429.40 476.5,429.66 477.2,429.91 478.0,430.15 478.8,430.39 479.5,430.63 480.2,430.86 481.0,431.08 481.8,431.31 482.5,431.52 483.2,431.74 484.0,431.95 484.8,432.16 485.5,432.36 486.2,432.56 487.0,432.76 487.8,432.95 488.5,433.14 489.2,433.32 490.0,433.51 490.8,433.68 491.5,433.86 492.2,434.03 493.0,434.20 493.8,434.37 494.5,434.53 495.2,434.69 496.0,434.85 496.8,435.00 497.5,435.16 498.2,435.31 499.0,435.45 499.8,435.60 500.5,435.74 501.2,435.88 502.0,436.01 502.8,436.15 503.5,436.28 504.2,436.41 505.0,436.53 505.8,436.66 506.5,436.78 507.2,436.90 508.0,437.02 508.8,437.13 509.5,437.24 510.2,437.36 511.0,437.46 511.8,437.57 512.5,437.68 513.2,437.78 514.0,437.88 514.8,437.98 515.5,438.08 516.2,438.18 517.0,438.27 517.8,438.36 518.5,438.46 519.2,438.54 520.0,438.63 520.8,438.72 521.5,438.80 522.2,438.89 523.0,438.97 523.8,439.05 524.5,439.13 525.2,439.20 526.0,439.28 526.8,439.35 527.5,439.43 528.2,439.50 529.0,439.57 529.8,439.64 530.5,439.71 531.2,439.77 532.0,439.84 532.8,439.90 533.5,439.97 534.2,440.03 535.0,440.09 535.8,440.15 536.5,440.21 537.2,440.27 538.0,440.32 538.8,440.38 539.5,440.43 540.2,440.49 541.0,440.54 541.8,440.59 542.5,440.64 543.2,440.69 544.0,440.74 544.8,440.79 545.5,440.84 546.2,440.88 547.0,440.93 547.8,440.97 548.5,441.02 549.2,441.06 550.0,441.10 550.8,441.14 551.5,441.19 552.2,441.23 553.0,441.26 553.8,441.30 554.5,441.34 555.2,441.38 556.0,441.41 556.8,441.45 557.5,441.49 558.2,441.52 559.0,441.55 559.8,441.59 560.5,441.62 561.2,441.65 562.0,441.68 562.8,441.72 563.5,441.75 564.2,441.78 565.0,441.81 565.8,441.83 566.5,441.86 567.2,441.89 568.0,441.92 568.8,441.94 569.5,441.97 570.2,442.00 571.0,442.02 571.8,442.05 572.5,442.07 573.2,442.10 574.0,442.12 574.8,442.14 575.5,442.16 576.2,442.19 577.0,442.21 577.8,442.23 578.5,442.25 579.2,442.27 580.0,442.29 580.8,442.31 581.5,442.33 582.2,442.35 583.0,442.37 583.8,442.39 584.5,442.41 585.2,442.43 586.0,442.44 586.8,442.46 587.5,442.48 588.2,442.49 589.0,442.51 589.8,442.53 590.5,442.54 591.2,442.56 592.0,442.57 592.8,442.59 593.5,442.60 594.2,442.62 595.0,442.63 595.8,442.65 596.5,442.66 597.2,442.67 598.0,442.69 598.8,442.70 599.5,442.71 600.2,442.72 601.0,442.74 601.8,442.75 602.5,442.76 603.2,442.77 604.0,442.78 604.8,442.79 605.5,442.80 606.2,442.82 607.0,442.83 607.8,442.84 608.5,442.85 609.2,442.86 610.0,442.87 610.8,442.88 611.5,442.89 612.2,442.89 613.0,442.90 613.8,442.91 614.5,442.92 615.2,442.93 616.0,442.94 616.8,442.95 617.5,442.96 618.2,442.96 619.0,442.97 619.8,442.98 620.5,442.99 621.2,442.99 622.0,443.00 622.8,443.01 623.5,443.02 624.2,443.02 625.0,443.03 625.8,443.04 626.5,443.04 627.2,443.05 628.0,443.06 628.8,443.06 629.5,443.07 630.2,443.07 631.0,443.08 631.8,443.09 632.5,443.09 633.2,443.10 634.0,443.10 634.8,443.11 635.5,443.11 636.2,443.12 637.0,443.12 637.8,443.13 638.5,443.13 639.2,443.14 640.0,443.14 640.8,443.15 641.5,443.15 642.2,443.16 643.0,443.16 643.8,443.17 644.5,443.17 645.2,443.17 646.0,443.18 646.8,443.18 647.5,443.19 648.2,443.19 649.0,443.19 649.8,443.20" fill="none" stroke="#ff30ff" stroke-width="1.5" stroke-linejoin="round"/>
<polyline points="388.0,275.92 388.8,282.19 389.5,288.00 390.2,293.39 391.0,298.42 391.8,303.10 392.5,307.48 393.2,311.58 394.0,315.43 394.8,319.05 395.5,322.46 396.2,325.68 397.0,328.73 397.8,331.63 398.5,334.38 399.2,336.99 400.0,339.49 400.8,341.87 401.5,344.16 402.2,346.35 403.0,348.45 403.8,350.47 404.5,352.42 405.2,354.30 406.0,356.12 406.8,357.87 407.5,359.58 408.2,361.22 409.0,362.82 409.8,364.38 410.5,365.89 411.2,367.36 412.0,368.79 412.8,370.18 413.5,371.54 414.2,372.87 415.0,374.17 415.8,375.43 416.5,376.67 417.2,377.88 418.0,379.06 418.8,380.22 419.5,381.35 420.2,382.46 421.0,383.54 421.8,384.61 422.5,385.65 423.2,386.68 424.0,387.68 424.8,388.66 425.5,389.63 426.2,390.57 427.0,391.50 427.8,392.41 428.5,393.30 429.2,394.18 430.0,395.04 430.8,395.89 431.5,396.72 432.2,397.53 433.0,398.33 433.8,399.12 434.5,399.89 435.2,400.65 436.0,401.39 436.8,402.12 437.5,402.84 438.2,403.55 439.0,404.24 439.8,404.92 440.5,405.59 441.2,406.24 442.0,406.89 442.8,407.52 443.5,408.15 444.2,408.76 445.0,409.36 445.8,409.95 446.5,410.53 447.2,411.10 448.0,411.66 448.8,412.21 449.5,412.75 450.2,413.28 451.0,413.81 451.8,414.32 452.5,414.82 453.2,415.32 454.0,415.81 454.8,416.28 455.5,416.75 456.2,417.22 457.0,417.67 457.8,418.12 458.5,418.55 459.2,418.99 460.0,419.41 460.8,419.82 461.5,420.23 462.2,420.63 463.0,421.03 463.8,421.42 464.5,421.80 465.2,422.17 466.0,422.54 466.8,422.90 467.5,423.26 468.2,423.61 469.0,423.95 469.8,424.29 470.5,424.62 471.2,424.94 472.0,425.26 472.8,425.58 473.5,425.89 474.2,426.19 475.0,426.49 475.8,426.78 476.5,427.07 477.2,427.35 478.0,427.63 478.8,427.90 479.5,428.17 480.2,428.43 481.0,428.69 481.8,428.95 482.5,429.20 483.2,429.45 484.0,429.69 484.8,429.92 485.5,430.16 486.2,430.39 487.0,430.61 487.8,430.83 488.5,431.05 489.2,431.27 490.0,431.48 490.8,431.68 491.5,431.89 492.2,432.09 493.0,432.28 493.8,432.47 494.5,432.66 495.2,432.85 496.0,433.03 496.8,433.21 497.5,433.39 498.2,433.56 499.0,433.73 499.8,433.90 500.5,434.07 501.2,434.23 502.0,434.39 502.8,434.54 503.5,434.70 504.2,434.85 505.0,434.99 505.8,435.14 506.5,435.28 507.2,435.42 508.0,435.56 508.8,435.70 509.5,435.83 510.2,435.96 511.0,436.09 511.8,436.22 512.5,436.34 513.2,436.46 514.0,436.58 514.8,436.70 515.5,436.82 516.2,436.93 517.0,437.05 517.8,437.16 518.5,437.26 519.2,437.37 520.0,437.47 520.8,437.58 521.5,437.68 522.2,437.78 523.0,437.87 523.8,437.97 524.5,438.06 525.2,438.16 526.0,438.25 526.8,438.34 527.5,438.42 528.2,438.51 529.0,438.60 529.8,438.68 530.5,438.76 531.2,438.84 532.0,438.92 532.8,439.00 533.5,439.07 534.2,439.15 535.0,439.22 535.8,439.29 536.5,439.37 537.2,439.44 538.0,439.50 538.8,439.57 539.5,439.64 540.2,439.70 541.0,439.77 541.8,439.83 542.5,439.89 543.2,439.95 544.0,440.01 544.8,440.07 545.5,440.13 546.2,440.19 547.0,440.24 547.8,440.30 548.5,440.35 549.2,440.40 550.0,440.45 550.8,440.51 551.5,440.56 552.2,440.61 553.0,440.65 553.8,440.70 554.5,440.75 555.2,440.79 556.0,440.84 556.8,440.88 557.5,440.93 558.2,440.97 559.0,441.01 559.8,441.05 560.5,441.09 561.2,441.13 562.0,441.17 562.8,441.21 563.5,441.25 564.2,441.29 565.0,441.32 565.8,441.36 566.5,441.40 567.2,441.43 568.0,441.46 568.8,441.50 569.5,441.53 570.2,441.56 571.0,441.59 571.8,441.63 572.5,441.66 573.2,441.69 574.0,441.72 574.8,441.75 575.5,441.77 576.2,441.80 577.0,441.83 577.8,441.86 578.5,441.88 579.2,441.91 580.0,441.94 580.8,441.96 581.5,441.99 582.2,442.01 583.0,442.04 583.8,442.06 584.5,442.08 585.2,442.10 586.0,442.13 586.8,442.15 587.5,442.17 588.2,442.19 589.0,442.21 589.8,442.23 590.5,442.25 591.2,442.27 592.0,442.29 592.8,442.31 593.5,442.33 594.2,442.35 595.0,442.37 595.8,442.39 596.5,442.40 597.2,442.42 598.0,442.44 598.8,442.45 599.5,442.47 600.2,442.49 601.0,442.50 601.8,442.52 602.5,442.53 603.2,442.55 604.0,442.56 604.8,442.58 605.5,442.59 606.2,442.61 607.0,442.62 607.8,442.63 608.5,442.65 609.2,442.66 610.0,442.67 610.8,442.69 611.5,442.70 612.2,442.71 613.0,442.72 613.8,442.73 614.5,442.75 615.2,442.76 616.0,442.77 616.8,442.78 617.5,442.79 618.2,442.80 619.0,442.81 619.8,442.82 620.5,442.83 621.2,442.84 622.0,442.85 622.8,442.86 623.5,442.87 624.2,442.88 625.0,442.89 625.8,442.90 626.5,442.90 627.2,442.91 628.0,442.92 628.8,442.93 629.5,442.94 630.2,442.95 631.0,442.95 631.8,442.96 632.5,442.97 633.2,442.98 634.0,442.98 634.8,442.99 635.5,443.00 636.2,443.01 637.0,443.01 637.8,443.02 638.5,443.03 639.2,443.03 640.0,443.04 640.8,443.04 641.5,443.05 642.2,443.06 643.0,443.06 643.8,443.07 644.5,443.07 645.2,443.08 646.0,443.09 646.8,443.09 647.5,443.10 648.2,443.10 649.0,443.11 649.8,443.11" fill="none" stroke="#2e8b2e" stroke-width="1.5" stroke-linejoin="round"/>
<polyline points="388.0,257.67 388.8,266.08 389.5,273.59 390.2,280.32 391.0,286.38 391.8,291.87 392.5,296.85 393.2,301.39 394.0,305.56 394.8,309.41 395.5,312.96 396.2,316.27 397.0,319.36 397.8,322.26 398.5,324.98 399.2,327.57 400.0,330.02 400.8,332.35 401.5,334.58 402.2,336.72 403.0,338.77 403.8,340.75 404.5,342.66 405.2,344.51 406.0,346.30 406.8,348.05 407.5,349.74 408.2,351.39 409.0,353.00 409.8,354.56 410.5,356.10 411.2,357.60 412.0,359.06 412.8,360.50 413.5,361.91 414.2,363.28 415.0,364.63 415.8,365.96 416.5,367.26 417.2,368.54 418.0,369.79 418.8,371.02 419.5,372.23 420.2,373.42 421.0,374.58 421.8,375.73 422.5,376.85 423.2,377.96 424.0,379.05 424.8,380.12 425.5,381.17 426.2,382.20 427.0,383.22 427.8,384.22 428.5,385.20 429.2,386.16 430.0,387.11 430.8,388.04 431.5,388.96 432.2,389.86 433.0,390.75 433.8,391.62 434.5,392.48 435.2,393.32 436.0,394.15 436.8,394.97 437.5,395.77 438.2,396.56 439.0,397.34 439.8,398.10 440.5,398.85 441.2,399.59 442.0,400.31 442.8,401.03 443.5,401.73 444.2,402.42 445.0,403.10 445.8,403.77 446.5,404.42 447.2,405.07 448.0,405.70 448.8,406.33 449.5,406.94 450.2,407.54 451.0,408.14 451.8,408.72 452.5,409.30 453.2,409.86 454.0,410.42 454.8,410.96 455.5,411.50 456.2,412.03 457.0,412.55 457.8,413.06 458.5,413.56 459.2,414.06 460.0,414.54 460.8,415.02 461.5,415.49 462.2,415.95 463.0,416.41 463.8,416.85 464.5,417.29 465.2,417.73 466.0,418.15 466.8,418.57 467.5,418.98 468.2,419.38 469.0,419.78 469.8,420.17 470.5,420.56 471.2,420.94 472.0,421.31 472.8,421.67 473.5,422.03 474.2,422.39 475.0,422.74 475.8,423.08 476.5,423.41 477.2,423.75 478.0,424.07 478.8,424.39 479.5,424.71 480.2,425.02 481.0,425.32 481.8,425.62 482.5,425.91 483.2,426.20 484.0,426.49 484.8,426.77 485.5,427.04 486.2,427.31 487.0,427.58 487.8,427.84 488.5,428.10 489.2,428.35 490.0,428.60 490.8,428.85 491.5,429.09 492.2,429.33 493.0,429.56 493.8,429.79 494.5,430.01 495.2,430.24 496.0,430.45 496.8,430.67 497.5,430.88 498.2,431.09 499.0,431.29 499.8,431.49 500.5,431.69 501.2,431.88 502.0,432.07 502.8,432.26 503.5,432.44 504.2,432.63 505.0,432.80 505.8,432.98 506.5,433.15 507.2,433.32 508.0,433.49 508.8,433.65 509.5,433.81 510.2,433.97 511.0,434.13 511.8,434.28 512.5,434.43 513.2,434.58 514.0,434.73 514.8,434.87 515.5,435.01 516.2,435.15 517.0,435.29 517.8,435.42 518.5,435.56 519.2,435.68 520.0,435.81 520.8,435.94 521.5,436.06 522.2,436.18 523.0,436.30 523.8,436.42 524.5,436.54 525.2,436.65 526.0,436.76 526.8,436.87 527.5,436.98 528.2,437.09 529.0,437.19 529.8,437.29 530.5,437.39 531.2,437.49 532.0,437.59 532.8,437.69 533.5,437.78 534.2,437.88 535.0,437.97 535.8,438.06 536.5,438.15 537.2,438.23 538.0,438.32 538.8,438.40 539.5,438.48 540.2,438.57 541.0,438.65 541.8,438.73 542.5,438.80 543.2,438.88 544.0,438.95 544.8,439.03 545.5,439.10 546.2,439.17 547.0,439.24 547.8,439.31 548.5,439.38 549.2,439.44 550.0,439.51 550.8,439.57 551.5,439.64 552.2,439.70 553.0,439.76 553.8,439.82 554.5,439.88 555.2,439.94 556.0,440.00 556.8,440.05 557.5,440.11 558.2,440.16 559.0,440.22 559.8,440.27 560.5,440.32 561.2,440.37 562.0,440.42 562.8,440.47 563.5,440.52 564.2,440.57 565.0,440.61 565.8,440.66 566.5,440.71 567.2,440.75 568.0,440.79 568.8,440.84 569.5,440.88 570.2,440.92 571.0,440.96 571.8,441.00 572.5,441.04 573.2,441.08 574.0,441.12 574.8,441.16 575.5,441.19 576.2,441.23 577.0,441.27 577.8,441.30 578.5,441.34 579.2,441.37 580.0,441.41 580.8,441.44 581.5,441.47 582.2,441.50 583.0,441.53 583.8,441.56 584.5,441.60 585.2,441.63 586.0,441.65 586.8,441.68 587.5,441.71 588.2,441.74 589.0,441.77 589.8,441.79 590.5,441.82 591.2,441.85 592.0,441.87 592.8,441.90 593.5,441.92 594.2,441.95 595.0,441.97 595.8,442.00 596.5,442.02 597.2,442.04 598.0,442.06 598.8,442.09 599.5,442.11 600.2,442.13 601.0,442.15 601.8,442.17 602.5,442.19 603.2,442.21 604.0,442.23 604.8,442.25 605.5,442.27 606.2,442.29 607.0,442.31 607.8,442.32 608.5,442.34 609.2,442.36 610.0,442.38 610.8,442.39 611.5,442.41 612.2,442.43 613.0,442.44 613.8,442.46 614.5,442.47 615.2,442.49 616.0,442.51 616.8,442.52 617.5,442.53 618.2,442.55 619.0,442.56 619.8,442.58 620.5,442.59 621.2,442.60 622.0,442.62 622.8,442.63 623.5,442.64 624.2,442.66 625.0,442.67 625.8,442.68 626.5,442.69 627.2,442.70 628.0,442.71 628.8,442.73 629.5,442.74 630.2,442.75 631.0,442.76 631.8,442.77 632.5,442.78 633.2,442.79 634.0,442.80 634.8,442.81 635.5,442.82 636.2,442.83 637.0,442.84 637.8,442.85 638.5,442.86 639.2,442.87 640.0,442.88 640.8,442.88 641.5,442.89 642.2,442.90 643.0,442.91 643.8,442.92 644.5,442.93 645.2,442.93 646.0,442.94 646.8,442.95 647.5,442.96 648.2,442.96 649.0,442.97 649.8,442.98" fill="none" stroke="#20208a" stroke-width="1.5" stroke-linejoin="round"/>
</g>
<g clip-path="url(#cf)">
<polyline points="388.0,482.55 388.8,484.98 389.5,487.41 390.2,489.82 391.0,492.22 391.8,494.61 392.5,496.99 393.2,499.36 394.0,501.71 394.8,504.06 395.5,506.39 396.2,508.72 397.0,511.03 397.8,513.33 398.5,515.63 399.2,517.91 400.0,520.18 400.8,522.44 401.5,524.68 402.2,526.92 403.0,529.14 403.8,531.35 404.5,533.55 405.2,535.74 406.0,537.91 406.8,540.07 407.5,542.21 408.2,544.34 409.0,546.45 409.8,548.55 410.5,550.63 411.2,552.69 412.0,554.74 412.8,556.77 413.5,558.78 414.2,560.77 415.0,562.74 415.8,564.69 416.5,566.62 417.2,568.53 418.0,570.42 418.8,572.29 419.5,574.13 420.2,575.95 421.0,577.75 421.8,579.53 422.5,581.28 423.2,583.01 424.0,584.71 424.8,586.39 425.5,588.04 426.2,589.67 427.0,591.27 427.8,592.85 428.5,594.40 429.2,595.92 430.0,597.42 430.8,598.89 431.5,600.34 432.2,601.75 433.0,603.15 433.8,604.51 434.5,605.85 435.2,607.17 436.0,608.46 436.8,609.72 437.5,610.95 438.2,612.16 439.0,613.35 439.8,614.51 440.5,615.64 441.2,616.75 442.0,617.84 442.8,618.90 443.5,619.93 444.2,620.94 445.0,621.93 445.8,622.90 446.5,623.84 447.2,624.76 448.0,625.66 448.8,626.53 449.5,627.39 450.2,628.22 451.0,629.03 451.8,629.82 452.5,630.59 453.2,631.35 454.0,632.08 454.8,632.79 455.5,633.49 456.2,634.16 457.0,634.82 457.8,635.46 458.5,636.09 459.2,636.69 460.0,637.28 460.8,637.86 461.5,638.42 462.2,638.96 463.0,639.49 463.8,640.01 464.5,640.51 465.2,640.99 466.0,641.47 466.8,641.93 467.5,642.37 468.2,642.81 469.0,643.23 469.8,643.64 470.5,644.04 471.2,644.43 472.0,644.80 472.8,645.17 473.5,645.52 474.2,645.87 475.0,646.20 475.8,646.53 476.5,646.85 477.2,647.15 478.0,647.45 478.8,647.74 479.5,648.02 480.2,648.30 481.0,648.56 481.8,648.82 482.5,649.07 483.2,649.31 484.0,649.55 484.8,649.78 485.5,650.00 486.2,650.22 487.0,650.43 487.8,650.63 488.5,650.83 489.2,651.02 490.0,651.21 490.8,651.39 491.5,651.57 492.2,651.74 493.0,651.90 493.8,652.06 494.5,652.22 495.2,652.37 496.0,652.52 496.8,652.66 497.5,652.80 498.2,652.94 499.0,653.07 499.8,653.20 500.5,653.32 501.2,653.44 502.0,653.56 502.8,653.67 503.5,653.78 504.2,653.89 505.0,653.99 505.8,654.09 506.5,654.19 507.2,654.29 508.0,654.38 508.8,654.47 509.5,654.56 510.2,654.64 511.0,654.73 511.8,654.81 512.5,654.88 513.2,654.96 514.0,655.03 514.8,655.10 515.5,655.17 516.2,655.24 517.0,655.31 517.8,655.37 518.5,655.43 519.2,655.49 520.0,655.55 520.8,655.61 521.5,655.66 522.2,655.72 523.0,655.77 523.8,655.82 524.5,655.87 525.2,655.92 526.0,655.96 526.8,656.01 527.5,656.05 528.2,656.10 529.0,656.14 529.8,656.18 530.5,656.22 531.2,656.26 532.0,656.29 532.8,656.33 533.5,656.37 534.2,656.40 535.0,656.43 535.8,656.47 536.5,656.50 537.2,656.53 538.0,656.56 538.8,656.59 539.5,656.62 540.2,656.64 541.0,656.67 541.8,656.70 542.5,656.72 543.2,656.75 544.0,656.77 544.8,656.79 545.5,656.82 546.2,656.84 547.0,656.86 547.8,656.88 548.5,656.90 549.2,656.92 550.0,656.94 550.8,656.96 551.5,656.98 552.2,657.00 553.0,657.01 553.8,657.03 554.5,657.05 555.2,657.06 556.0,657.08 556.8,657.10 557.5,657.11 558.2,657.12 559.0,657.14 559.8,657.15 560.5,657.17 561.2,657.18 562.0,657.19 562.8,657.20 563.5,657.22 564.2,657.23 565.0,657.24 565.8,657.25 566.5,657.26 567.2,657.27 568.0,657.28 568.8,657.29 569.5,657.30 570.2,657.31 571.0,657.32 571.8,657.33 572.5,657.34 573.2,657.35 574.0,657.36 574.8,657.37 575.5,657.37 576.2,657.38 577.0,657.39 577.8,657.40 578.5,657.40 579.2,657.41 580.0,657.42 580.8,657.42 581.5,657.43 582.2,657.44 583.0,657.44 583.8,657.45 584.5,657.46 585.2,657.46 586.0,657.47 586.8,657.47 587.5,657.48 588.2,657.48 589.0,657.49 589.8,657.49 590.5,657.50 591.2,657.50 592.0,657.51 592.8,657.51 593.5,657.52 594.2,657.52 595.0,657.52 595.8,657.53 596.5,657.53 597.2,657.54 598.0,657.54 598.8,657.54 599.5,657.55 600.2,657.55 601.0,657.55 601.8,657.56 602.5,657.56 603.2,657.56 604.0,657.57 604.8,657.57 605.5,657.57 606.2,657.58 607.0,657.58 607.8,657.58 608.5,657.58 609.2,657.59 610.0,657.59 610.8,657.59 611.5,657.60 612.2,657.60 613.0,657.60 613.8,657.60 614.5,657.60 615.2,657.61 616.0,657.61 616.8,657.61 617.5,657.61 618.2,657.61 619.0,657.62 619.8,657.62 620.5,657.62 621.2,657.62 622.0,657.62 622.8,657.63 623.5,657.63 624.2,657.63 625.0,657.63 625.8,657.63 626.5,657.63 627.2,657.64 628.0,657.64 628.8,657.64 629.5,657.64 630.2,657.64 631.0,657.64 631.8,657.64 632.5,657.64 633.2,657.65 634.0,657.65 634.8,657.65 635.5,657.65 636.2,657.65 637.0,657.65 637.8,657.65 638.5,657.65 639.2,657.66 640.0,657.66 640.8,657.66 641.5,657.66 642.2,657.66 643.0,657.66 643.8,657.66 644.5,657.66 645.2,657.66 646.0,657.66 646.8,657.66 647.5,657.66 648.2,657.67 649.0,657.67 649.8,657.67" fill="none" stroke="#222222" stroke-width="1.5" stroke-linejoin="round"/>
<polyline points="388.0,504.17 388.8,506.76 389.5,509.28 390.2,511.73 391.0,514.12 391.8,516.43 392.5,518.70 393.2,520.90 394.0,523.05 394.8,525.16 395.5,527.22 396.2,529.23 397.0,531.21 397.8,533.15 398.5,535.05 399.2,536.92 400.0,538.76 400.8,540.57 401.5,542.36 402.2,544.12 403.0,545.86 403.8,547.57 404.5,549.26 405.2,550.94 406.0,552.60 406.8,554.24 407.5,555.86 408.2,557.47 409.0,559.07 409.8,560.65 410.5,562.22 411.2,563.78 412.0,565.32 412.8,566.85 413.5,568.38 414.2,569.89 415.0,571.39 415.8,572.88 416.5,574.36 417.2,575.83 418.0,577.29 418.8,578.75 419.5,580.19 420.2,581.62 421.0,583.04 421.8,584.45 422.5,585.84 423.2,587.23 424.0,588.61 424.8,589.97 425.5,591.33 426.2,592.67 427.0,594.00 427.8,595.32 428.5,596.62 429.2,597.91 430.0,599.19 430.8,600.45 431.5,601.70 432.2,602.94 433.0,604.16 433.8,605.37 434.5,606.56 435.2,607.73 436.0,608.89 436.8,610.04 437.5,611.17 438.2,612.28 439.0,613.37 439.8,614.45 440.5,615.51 441.2,616.56 442.0,617.58 442.8,618.59 443.5,619.59 444.2,620.56 445.0,621.52 445.8,622.46 446.5,623.38 447.2,624.29 448.0,625.17 448.8,626.04 449.5,626.89 450.2,627.73 451.0,628.55 451.8,629.35 452.5,630.13 453.2,630.90 454.0,631.65 454.8,632.38 455.5,633.09 456.2,633.79 457.0,634.48 457.8,635.14 458.5,635.79 459.2,636.43 460.0,637.05 460.8,637.65 461.5,638.24 462.2,638.82 463.0,639.38 463.8,639.92 464.5,640.45 465.2,640.97 466.0,641.47 466.8,641.96 467.5,642.44 468.2,642.90 469.0,643.36 469.8,643.80 470.5,644.22 471.2,644.64 472.0,645.04 472.8,645.43 473.5,645.82 474.2,646.19 475.0,646.55 475.8,646.89 476.5,647.23 477.2,647.56 478.0,647.88 478.8,648.19 479.5,648.49 480.2,648.79 481.0,649.07 481.8,649.35 482.5,649.61 483.2,649.87 484.0,650.12 484.8,650.37 485.5,650.60 486.2,650.83 487.0,651.05 487.8,651.27 488.5,651.47 489.2,651.68 490.0,651.87 490.8,652.06 491.5,652.24 492.2,652.42 493.0,652.59 493.8,652.76 494.5,652.92 495.2,653.08 496.0,653.23 496.8,653.38 497.5,653.52 498.2,653.66 499.0,653.79 499.8,653.92 500.5,654.04 501.2,654.16 502.0,654.28 502.8,654.39 503.5,654.50 504.2,654.61 505.0,654.71 505.8,654.81 506.5,654.90 507.2,655.00 508.0,655.09 508.8,655.17 509.5,655.26 510.2,655.34 511.0,655.42 511.8,655.49 512.5,655.57 513.2,655.64 514.0,655.71 514.8,655.77 515.5,655.84 516.2,655.90 517.0,655.96 517.8,656.02 518.5,656.07 519.2,656.13 520.0,656.18 520.8,656.23 521.5,656.28 522.2,656.33 523.0,656.37 523.8,656.42 524.5,656.46 525.2,656.50 526.0,656.54 526.8,656.58 527.5,656.62 528.2,656.65 529.0,656.69 529.8,656.72 530.5,656.76 531.2,656.79 532.0,656.82 532.8,656.85 533.5,656.88 534.2,656.90 535.0,656.93 535.8,656.96 536.5,656.98 537.2,657.01 538.0,657.03 538.8,657.05 539.5,657.07 540.2,657.09 541.0,657.11 541.8,657.13 542.5,657.15 543.2,657.17 544.0,657.19 544.8,657.21 545.5,657.22 546.2,657.24 547.0,657.25 547.8,657.27 548.5,657.28 549.2,657.30 550.0,657.31 550.8,657.32 551.5,657.34 552.2,657.35 553.0,657.36 553.8,657.37 554.5,657.38 555.2,657.39 556.0,657.40 556.8,657.41 557.5,657.42 558.2,657.43 559.0,657.44 559.8,657.45 560.5,657.46 561.2,657.47 562.0,657.48 562.8,657.48 563.5,657.49 564.2,657.50 565.0,657.50 565.8,657.51 566.5,657.52 567.2,657.52 568.0,657.53 568.8,657.54 569.5,657.54 570.2,657.55 571.0,657.55 571.8,657.56 572.5,657.56 573.2,657.57 574.0,657.57 574.8,657.57 575.5,657.58 576.2,657.58 577.0,657.59 577.8,657.59 578.5,657.59 579.2,657.60 580.0,657.60 580.8,657.60 581.5,657.61 582.2,657.61 583.0,657.61 583.8,657.62 584.5,657.62 585.2,657.62 586.0,657.63 586.8,657.63 587.5,657.63 588.2,657.63 589.0,657.63 589.8,657.64 590.5,657.64 591.2,657.64 592.0,657.64 592.8,657.64 593.5,657.65 594.2,657.65 595.0,657.65 595.8,657.65 596.5,657.65 597.2,657.66 598.0,657.66 598.8,657.66 599.5,657.66 600.2,657.66 601.0,657.66 601.8,657.66 602.5,657.66 603.2,657.67 604.0,657.67 604.8,657.67 605.5,657.67 606.2,657.67 607.0,657.67 607.8,657.67 608.5,657.67 609.2,657.67 610.0,657.67 610.8,657.68 611.5,657.68 612.2,657.68 613.0,657.68 613.8,657.68 614.5,657.68 615.2,657.68 616.0,657.68 616.8,657.68 617.5,657.68 618.2,657.68 619.0,657.68 619.8,657.68 620.5,657.68 621.2,657.69 622.0,657.69 622.8,657.69 623.5,657.69 624.2,657.69 625.0,657.69 625.8,657.69 626.5,657.69 627.2,657.69 628.0,657.69 628.8,657.69 629.5,657.69 630.2,657.69 631.0,657.69 631.8,657.69 632.5,657.69 633.2,657.69 634.0,657.69 634.8,657.69 635.5,657.69 636.2,657.69 637.0,657.69 637.8,657.69 638.5,657.69 639.2,657.69 640.0,657.69 640.8,657.69 641.5,657.69 642.2,657.69 643.0,657.69 643.8,657.69 644.5,657.69 645.2,657.70 646.0,657.70 646.8,657.70 647.5,657.70 648.2,657.70 649.0,657.70 649.8,657.70" fill="none" stroke="#ff3030" stroke-width="1.5" stroke-linejoin="round"/>
<polyline points="388.0,510.07 388.8,512.78 389.5,515.39 390.2,517.92 391.0,520.38 391.8,522.76 392.5,525.07 393.2,527.31 394.0,529.49 394.8,531.61 395.5,533.67 396.2,535.67 397.0,537.63 397.8,539.53 398.5,541.39 399.2,543.20 400.0,544.98 400.8,546.71 401.5,548.40 402.2,550.06 403.0,551.69 403.8,553.28 404.5,554.84 405.2,556.38 406.0,557.88 406.8,559.35 407.5,560.79 408.2,562.20 409.0,563.59 409.8,564.95 410.5,566.29 411.2,567.62 412.0,568.92 412.8,570.21 413.5,571.48 414.2,572.74 415.0,573.99 415.8,575.23 416.5,576.45 417.2,577.67 418.0,578.88 418.8,580.08 419.5,581.28 420.2,582.47 421.0,583.65 421.8,584.83 422.5,586.01 423.2,587.18 424.0,588.35 424.8,589.51 425.5,590.67 426.2,591.82 427.0,592.97 427.8,594.11 428.5,595.25 429.2,596.38 430.0,597.51 430.8,598.63 431.5,599.74 432.2,600.84 433.0,601.93 433.8,603.01 434.5,604.08 435.2,605.14 436.0,606.19 436.8,607.22 437.5,608.24 438.2,609.24 439.0,610.22 439.8,611.19 440.5,612.13 441.2,613.07 442.0,613.99 442.8,614.90 443.5,615.80 444.2,616.68 445.0,617.55 445.8,618.41 446.5,619.25 447.2,620.08 448.0,620.90 448.8,621.71 449.5,622.50 450.2,623.28 451.0,624.04 451.8,624.79 452.5,625.53 453.2,626.26 454.0,626.98 454.8,627.68 455.5,628.37 456.2,629.05 457.0,629.71 457.8,630.37 458.5,631.01 459.2,631.64 460.0,632.26 460.8,632.86 461.5,633.46 462.2,634.04 463.0,634.61 463.8,635.17 464.5,635.72 465.2,636.26 466.0,636.79 466.8,637.31 467.5,637.82 468.2,638.32 469.0,638.80 469.8,639.28 470.5,639.75 471.2,640.20 472.0,640.65 472.8,641.09 473.5,641.52 474.2,641.94 475.0,642.35 475.8,642.75 476.5,643.14 477.2,643.53 478.0,643.90 478.8,644.27 479.5,644.63 480.2,644.98 481.0,645.32 481.8,645.66 482.5,645.98 483.2,646.30 484.0,646.62 484.8,646.92 485.5,647.22 486.2,647.51 487.0,647.79 487.8,648.07 488.5,648.34 489.2,648.60 490.0,648.86 490.8,649.11 491.5,649.35 492.2,649.59 493.0,649.82 493.8,650.05 494.5,650.27 495.2,650.48 496.0,650.69 496.8,650.89 497.5,651.09 498.2,651.29 499.0,651.47 499.8,651.66 500.5,651.83 501.2,652.01 502.0,652.18 502.8,652.34 503.5,652.50 504.2,652.65 505.0,652.81 505.8,652.95 506.5,653.10 507.2,653.23 508.0,653.37 508.8,653.50 509.5,653.63 510.2,653.75 511.0,653.87 511.8,653.99 512.5,654.10 513.2,654.21 514.0,654.32 514.8,654.42 515.5,654.52 516.2,654.62 517.0,654.72 517.8,654.81 518.5,654.90 519.2,654.99 520.0,655.07 520.8,655.15 521.5,655.23 522.2,655.31 523.0,655.38 523.8,655.46 524.5,655.53 525.2,655.59 526.0,655.66 526.8,655.72 527.5,655.79 528.2,655.85 529.0,655.91 529.8,655.96 530.5,656.02 531.2,656.07 532.0,656.12 532.8,656.17 533.5,656.22 534.2,656.27 535.0,656.31 535.8,656.36 536.5,656.40 537.2,656.44 538.0,656.48 538.8,656.52 539.5,656.56 540.2,656.59 541.0,656.63 541.8,656.66 542.5,656.70 543.2,656.73 544.0,656.76 544.8,656.79 545.5,656.82 546.2,656.85 547.0,656.88 547.8,656.90 548.5,656.93 549.2,656.95 550.0,656.98 550.8,657.00 551.5,657.02 552.2,657.04 553.0,657.07 553.8,657.09 554.5,657.11 555.2,657.13 556.0,657.14 556.8,657.16 557.5,657.18 558.2,657.20 559.0,657.21 559.8,657.23 560.5,657.24 561.2,657.26 562.0,657.27 562.8,657.29 563.5,657.30 564.2,657.31 565.0,657.33 565.8,657.34 566.5,657.35 567.2,657.36 568.0,657.37 568.8,657.38 569.5,657.39 570.2,657.40 571.0,657.41 571.8,657.42 572.5,657.43 573.2,657.44 574.0,657.45 574.8,657.46 575.5,657.46 576.2,657.47 577.0,657.48 577.8,657.49 578.5,657.49 579.2,657.50 580.0,657.51 580.8,657.51 581.5,657.52 582.2,657.52 583.0,657.53 583.8,657.54 584.5,657.54 585.2,657.55 586.0,657.55 586.8,657.56 587.5,657.56 588.2,657.57 589.0,657.57 589.8,657.57 590.5,657.58 591.2,657.58 592.0,657.59 592.8,657.59 593.5,657.59 594.2,657.60 595.0,657.60 595.8,657.60 596.5,657.61 597.2,657.61 598.0,657.61 598.8,657.62 599.5,657.62 600.2,657.62 601.0,657.62 601.8,657.63 602.5,657.63 603.2,657.63 604.0,657.63 604.8,657.64 605.5,657.64 606.2,657.64 607.0,657.64 607.8,657.64 608.5,657.64 609.2,657.65 610.0,657.65 610.8,657.65 611.5,657.65 612.2,657.65 613.0,657.65 613.8,657.66 614.5,657.66 615.2,657.66 616.0,657.66 616.8,657.66 617.5,657.66 618.2,657.66 619.0,657.67 619.8,657.67 620.5,657.67 621.2,657.67 622.0,657.67 622.8,657.67 623.5,657.67 624.2,657.67 625.0,657.67 625.8,657.67 626.5,657.68 627.2,657.68 628.0,657.68 628.8,657.68 629.5,657.68 630.2,657.68 631.0,657.68 631.8,657.68 632.5,657.68 633.2,657.68 634.0,657.68 634.8,657.68 635.5,657.68 636.2,657.68 637.0,657.68 637.8,657.68 638.5,657.69 639.2,657.69 640.0,657.69 640.8,657.69 641.5,657.69 642.2,657.69 643.0,657.69 643.8,657.69 644.5,657.69 645.2,657.69 646.0,657.69 646.8,657.69 647.5,657.69 648.2,657.69 649.0,657.69 649.8,657.69" fill="none" stroke="#2222ee" stroke-width="1.5" stroke-linejoin="round"/>
<polyline points="388.0,514.15 388.8,516.93 389.5,519.61 390.2,522.20 391.0,524.70 391.8,527.12 392.5,529.47 393.2,531.73 394.0,533.93 394.8,536.06 395.5,538.12 396.2,540.12 397.0,542.06 397.8,543.94 398.5,545.77 399.2,547.54 400.0,549.27 400.8,550.95 401.5,552.58 402.2,554.17 403.0,555.72 403.8,557.23 404.5,558.70 405.2,560.13 406.0,561.53 406.8,562.88 407.5,564.20 408.2,565.49 409.0,566.74 409.8,567.96 410.5,569.16 411.2,570.33 412.0,571.48 412.8,572.61 413.5,573.72 414.2,574.81 415.0,575.89 415.8,576.96 416.5,578.01 417.2,579.05 418.0,580.08 418.8,581.11 419.5,582.12 420.2,583.13 421.0,584.14 421.8,585.14 422.5,586.14 423.2,587.14 424.0,588.13 424.8,589.12 425.5,590.11 426.2,591.09 427.0,592.08 427.8,593.06 428.5,594.03 429.2,595.01 430.0,595.98 430.8,596.95 431.5,597.91 432.2,598.86 433.0,599.81 433.8,600.75 434.5,601.69 435.2,602.61 436.0,603.53 436.8,604.43 437.5,605.33 438.2,606.21 439.0,607.07 439.8,607.92 440.5,608.76 441.2,609.58 442.0,610.40 442.8,611.21 443.5,612.01 444.2,612.80 445.0,613.58 445.8,614.36 446.5,615.12 447.2,615.88 448.0,616.63 448.8,617.37 449.5,618.10 450.2,618.82 451.0,619.54 451.8,620.24 452.5,620.94 453.2,621.63 454.0,622.31 454.8,622.98 455.5,623.65 456.2,624.30 457.0,624.95 457.8,625.59 458.5,626.23 459.2,626.85 460.0,627.47 460.8,628.07 461.5,628.67 462.2,629.27 463.0,629.85 463.8,630.43 464.5,631.00 465.2,631.56 466.0,632.11 466.8,632.66 467.5,633.20 468.2,633.73 469.0,634.25 469.8,634.76 470.5,635.27 471.2,635.77 472.0,636.26 472.8,636.75 473.5,637.22 474.2,637.69 475.0,638.15 475.8,638.61 476.5,639.05 477.2,639.49 478.0,639.92 478.8,640.35 479.5,640.76 480.2,641.17 481.0,641.57 481.8,641.97 482.5,642.36 483.2,642.74 484.0,643.11 484.8,643.47 485.5,643.83 486.2,644.19 487.0,644.53 487.8,644.87 488.5,645.20 489.2,645.52 490.0,645.84 490.8,646.15 491.5,646.46 492.2,646.76 493.0,647.05 493.8,647.33 494.5,647.61 495.2,647.88 496.0,648.15 496.8,648.41 497.5,648.67 498.2,648.92 499.0,649.16 499.8,649.40 500.5,649.63 501.2,649.85 502.0,650.07 502.8,650.29 503.5,650.50 504.2,650.70 505.0,650.90 505.8,651.10 506.5,651.29 507.2,651.47 508.0,651.65 508.8,651.83 509.5,652.00 510.2,652.16 511.0,652.33 511.8,652.48 512.5,652.64 513.2,652.79 514.0,652.93 514.8,653.07 515.5,653.21 516.2,653.34 517.0,653.47 517.8,653.60 518.5,653.72 519.2,653.84 520.0,653.96 520.8,654.07 521.5,654.18 522.2,654.29 523.0,654.39 523.8,654.49 524.5,654.59 525.2,654.69 526.0,654.78 526.8,654.87 527.5,654.96 528.2,655.04 529.0,655.12 529.8,655.20 530.5,655.28 531.2,655.35 532.0,655.43 532.8,655.50 533.5,655.56 534.2,655.63 535.0,655.70 535.8,655.76 536.5,655.82 537.2,655.88 538.0,655.93 538.8,655.99 539.5,656.04 540.2,656.10 541.0,656.15 541.8,656.19 542.5,656.24 543.2,656.29 544.0,656.33 544.8,656.38 545.5,656.42 546.2,656.46 547.0,656.50 547.8,656.53 548.5,656.57 549.2,656.61 550.0,656.64 550.8,656.68 551.5,656.71 552.2,656.74 553.0,656.77 553.8,656.80 554.5,656.83 555.2,656.86 556.0,656.88 556.8,656.91 557.5,656.93 558.2,656.96 559.0,656.98 559.8,657.00 560.5,657.03 561.2,657.05 562.0,657.07 562.8,657.09 563.5,657.11 564.2,657.13 565.0,657.15 565.8,657.16 566.5,657.18 567.2,657.20 568.0,657.21 568.8,657.23 569.5,657.24 570.2,657.26 571.0,657.27 571.8,657.29 572.5,657.30 573.2,657.31 574.0,657.33 574.8,657.34 575.5,657.35 576.2,657.36 577.0,657.37 577.8,657.38 578.5,657.39 579.2,657.40 580.0,657.41 580.8,657.42 581.5,657.43 582.2,657.44 583.0,657.45 583.8,657.45 584.5,657.46 585.2,657.47 586.0,657.48 586.8,657.48 587.5,657.49 588.2,657.50 589.0,657.50 589.8,657.51 590.5,657.52 591.2,657.52 592.0,657.53 592.8,657.53 593.5,657.54 594.2,657.54 595.0,657.55 595.8,657.55 596.5,657.56 597.2,657.56 598.0,657.57 598.8,657.57 599.5,657.58 600.2,657.58 601.0,657.58 601.8,657.59 602.5,657.59 603.2,657.60 604.0,657.60 604.8,657.60 605.5,657.61 606.2,657.61 607.0,657.61 607.8,657.61 608.5,657.62 609.2,657.62 610.0,657.62 610.8,657.62 611.5,657.63 612.2,657.63 613.0,657.63 613.8,657.63 614.5,657.64 615.2,657.64 616.0,657.64 616.8,657.64 617.5,657.64 618.2,657.65 619.0,657.65 619.8,657.65 620.5,657.65 621.2,657.65 622.0,657.65 622.8,657.66 623.5,657.66 624.2,657.66 625.0,657.66 625.8,657.66 626.5,657.66 627.2,657.66 628.0,657.66 628.8,657.67 629.5,657.67 630.2,657.67 631.0,657.67 631.8,657.67 632.5,657.67 633.2,657.67 634.0,657.67 634.8,657.67 635.5,657.67 636.2,657.68 637.0,657.68 637.8,657.68 638.5,657.68 639.2,657.68 640.0,657.68 640.8,657.68 641.5,657.68 642.2,657.68 643.0,657.68 643.8,657.68 644.5,657.68 645.2,657.68 646.0,657.68 646.8,657.68 647.5,657.68 648.2,657.69 649.0,657.69 649.8,657.69" fill="none" stroke="#ff30ff" stroke-width="1.5" stroke-linejoin="round"/>
<polyline points="388.0,517.81 388.8,520.65 389.5,523.39 390.2,526.03 391.0,528.58 391.8,531.04 392.5,533.41 393.2,535.70 394.0,537.91 394.8,540.05 395.5,542.11 396.2,544.10 397.0,546.03 397.8,547.89 398.5,549.69 399.2,551.43 400.0,553.12 400.8,554.74 401.5,556.32 402.2,557.85 403.0,559.33 403.8,560.76 404.5,562.15 405.2,563.50 406.0,564.80 406.8,566.05 407.5,567.27 408.2,568.44 409.0,569.58 409.8,570.68 410.5,571.75 411.2,572.79 412.0,573.80 412.8,574.79 413.5,575.76 414.2,576.70 415.0,577.63 415.8,578.54 416.5,579.44 417.2,580.32 418.0,581.19 418.8,582.05 419.5,582.91 420.2,583.76 421.0,584.60 421.8,585.44 422.5,586.27 423.2,587.10 424.0,587.92 424.8,588.75 425.5,589.57 426.2,590.39 427.0,591.22 427.8,592.03 428.5,592.85 429.2,593.67 430.0,594.49 430.8,595.30 431.5,596.11 432.2,596.92 433.0,597.72 433.8,598.52 434.5,599.31 435.2,600.10 436.0,600.88 436.8,601.66 437.5,602.42 438.2,603.18 439.0,603.92 439.8,604.66 440.5,605.38 441.2,606.10 442.0,606.81 442.8,607.52 443.5,608.22 444.2,608.92 445.0,609.62 445.8,610.31 446.5,611.00 447.2,611.68 448.0,612.36 448.8,613.03 449.5,613.70 450.2,614.37 451.0,615.03 451.8,615.69 452.5,616.34 453.2,616.99 454.0,617.64 454.8,618.29 455.5,618.92 456.2,619.56 457.0,620.19 457.8,620.82 458.5,621.44 459.2,622.06 460.0,622.68 460.8,623.29 461.5,623.89 462.2,624.49 463.0,625.09 463.8,625.68 464.5,626.27 465.2,626.85 466.0,627.43 466.8,628.01 467.5,628.57 468.2,629.14 469.0,629.69 469.8,630.25 470.5,630.79 471.2,631.33 472.0,631.87 472.8,632.40 473.5,632.92 474.2,633.44 475.0,633.95 475.8,634.46 476.5,634.96 477.2,635.45 478.0,635.94 478.8,636.42 479.5,636.90 480.2,637.36 481.0,637.83 481.8,638.28 482.5,638.73 483.2,639.17 484.0,639.60 484.8,640.03 485.5,640.45 486.2,640.86 487.0,641.27 487.8,641.67 488.5,642.06 489.2,642.45 490.0,642.83 490.8,643.20 491.5,643.57 492.2,643.92 493.0,644.27 493.8,644.62 494.5,644.96 495.2,645.29 496.0,645.61 496.8,645.93 497.5,646.24 498.2,646.54 499.0,646.84 499.8,647.13 500.5,647.42 501.2,647.70 502.0,647.97 502.8,648.24 503.5,648.50 504.2,648.75 505.0,649.00 505.8,649.24 506.5,649.48 507.2,649.71 508.0,649.93 508.8,650.15 509.5,650.37 510.2,650.58 511.0,650.78 511.8,650.98 512.5,651.17 513.2,651.36 514.0,651.54 514.8,651.72 515.5,651.90 516.2,652.07 517.0,652.23 517.8,652.39 518.5,652.55 519.2,652.70 520.0,652.85 520.8,652.99 521.5,653.13 522.2,653.27 523.0,653.40 523.8,653.53 524.5,653.66 525.2,653.78 526.0,653.90 526.8,654.01 527.5,654.12 528.2,654.23 529.0,654.34 529.8,654.44 530.5,654.54 531.2,654.64 532.0,654.73 532.8,654.82 533.5,654.91 534.2,654.99 535.0,655.08 535.8,655.16 536.5,655.24 537.2,655.31 538.0,655.39 538.8,655.46 539.5,655.53 540.2,655.60 541.0,655.66 541.8,655.72 542.5,655.79 543.2,655.85 544.0,655.90 544.8,655.96 545.5,656.01 546.2,656.07 547.0,656.12 547.8,656.17 548.5,656.22 549.2,656.26 550.0,656.31 550.8,656.35 551.5,656.39 552.2,656.43 553.0,656.47 553.8,656.51 554.5,656.55 555.2,656.59 556.0,656.62 556.8,656.66 557.5,656.69 558.2,656.72 559.0,656.75 559.8,656.78 560.5,656.81 561.2,656.84 562.0,656.87 562.8,656.89 563.5,656.92 564.2,656.94 565.0,656.97 565.8,656.99 566.5,657.01 567.2,657.03 568.0,657.06 568.8,657.08 569.5,657.10 570.2,657.12 571.0,657.13 571.8,657.15 572.5,657.17 573.2,657.19 574.0,657.20 574.8,657.22 575.5,657.23 576.2,657.25 577.0,657.26 577.8,657.28 578.5,657.29 579.2,657.30 580.0,657.32 580.8,657.33 581.5,657.34 582.2,657.35 583.0,657.36 583.8,657.37 584.5,657.38 585.2,657.39 586.0,657.40 586.8,657.41 587.5,657.42 588.2,657.43 589.0,657.44 589.8,657.45 590.5,657.46 591.2,657.46 592.0,657.47 592.8,657.48 593.5,657.49 594.2,657.49 595.0,657.50 595.8,657.51 596.5,657.51 597.2,657.52 598.0,657.52 598.8,657.53 599.5,657.54 600.2,657.54 601.0,657.55 601.8,657.55 602.5,657.56 603.2,657.56 604.0,657.56 604.8,657.57 605.5,657.57 606.2,657.58 607.0,657.58 607.8,657.58 608.5,657.59 609.2,657.59 610.0,657.60 610.8,657.60 611.5,657.60 612.2,657.61 613.0,657.61 613.8,657.61 614.5,657.61 615.2,657.62 616.0,657.62 616.8,657.62 617.5,657.62 618.2,657.63 619.0,657.63 619.8,657.63 620.5,657.63 621.2,657.64 622.0,657.64 622.8,657.64 623.5,657.64 624.2,657.64 625.0,657.65 625.8,657.65 626.5,657.65 627.2,657.65 628.0,657.65 628.8,657.65 629.5,657.66 630.2,657.66 631.0,657.66 631.8,657.66 632.5,657.66 633.2,657.66 634.0,657.66 634.8,657.66 635.5,657.67 636.2,657.67 637.0,657.67 637.8,657.67 638.5,657.67 639.2,657.67 640.0,657.67 640.8,657.67 641.5,657.67 642.2,657.67 643.0,657.68 643.8,657.68 644.5,657.68 645.2,657.68 646.0,657.68 646.8,657.68 647.5,657.68 648.2,657.68 649.0,657.68 649.8,657.68" fill="none" stroke="#2e8b2e" stroke-width="1.5" stroke-linejoin="round"/>
<polyline points="388.0,518.23 388.8,521.08 389.5,523.82 390.2,526.47 391.0,529.02 391.8,531.49 392.5,533.86 393.2,536.16 394.0,538.37 394.8,540.51 395.5,542.57 396.2,544.56 397.0,546.49 397.8,548.35 398.5,550.14 399.2,551.88 400.0,553.56 400.8,555.18 401.5,556.75 402.2,558.27 403.0,559.74 403.8,561.17 404.5,562.55 405.2,563.89 406.0,565.18 406.8,566.44 407.5,567.66 408.2,568.84 409.0,569.99 409.8,571.11 410.5,572.19 411.2,573.25 412.0,574.27 412.8,575.27 413.5,576.25 414.2,577.20 415.0,578.12 415.8,579.03 416.5,579.91 417.2,580.77 418.0,581.62 418.8,582.44 419.5,583.25 420.2,584.05 421.0,584.82 421.8,585.59 422.5,586.34 423.2,587.07 424.0,587.80 424.8,588.51 425.5,589.22 426.2,589.91 427.0,590.60 427.8,591.28 428.5,591.94 429.2,592.61 430.0,593.26 430.8,593.91 431.5,594.55 432.2,595.19 433.0,595.83 433.8,596.46 434.5,597.08 435.2,597.71 436.0,598.33 436.8,598.94 437.5,599.56 438.2,600.17 439.0,600.78 439.8,601.40 440.5,602.00 441.2,602.61 442.0,603.22 442.8,603.83 443.5,604.44 444.2,605.04 445.0,605.65 445.8,606.26 446.5,606.87 447.2,607.47 448.0,608.08 448.8,608.69 449.5,609.30 450.2,609.91 451.0,610.52 451.8,611.14 452.5,611.75 453.2,612.36 454.0,612.97 454.8,613.59 455.5,614.20 456.2,614.82 457.0,615.43 457.8,616.04 458.5,616.66 459.2,617.27 460.0,617.88 460.8,618.50 461.5,619.11 462.2,619.72 463.0,620.33 463.8,620.94 464.5,621.54 465.2,622.15 466.0,622.75 466.8,623.35 467.5,623.95 468.2,624.55 469.0,625.14 469.8,625.73 470.5,626.32 471.2,626.90 472.0,627.48 472.8,628.06 473.5,628.63 474.2,629.20 475.0,629.76 475.8,630.32 476.5,630.87 477.2,631.42 478.0,631.96 478.8,632.50 479.5,633.03 480.2,633.56 481.0,634.08 481.8,634.59 482.5,635.10 483.2,635.60 484.0,636.10 484.8,636.58 485.5,637.07 486.2,637.54 487.0,638.01 487.8,638.47 488.5,638.93 489.2,639.37 490.0,639.81 490.8,640.25 491.5,640.67 492.2,641.09 493.0,641.50 493.8,641.91 494.5,642.30 495.2,642.69 496.0,643.07 496.8,643.45 497.5,643.81 498.2,644.17 499.0,644.53 499.8,644.87 500.5,645.21 501.2,645.54 502.0,645.87 502.8,646.18 503.5,646.50 504.2,646.80 505.0,647.10 505.8,647.39 506.5,647.67 507.2,647.95 508.0,648.22 508.8,648.48 509.5,648.74 510.2,648.99 511.0,649.24 511.8,649.47 512.5,649.71 513.2,649.94 514.0,650.16 514.8,650.37 515.5,650.59 516.2,650.79 517.0,650.99 517.8,651.19 518.5,651.38 519.2,651.56 520.0,651.74 520.8,651.92 521.5,652.09 522.2,652.25 523.0,652.41 523.8,652.57 524.5,652.72 525.2,652.87 526.0,653.02 526.8,653.16 527.5,653.29 528.2,653.42 529.0,653.55 529.8,653.68 530.5,653.80 531.2,653.92 532.0,654.03 532.8,654.14 533.5,654.25 534.2,654.36 535.0,654.46 535.8,654.56 536.5,654.66 537.2,654.75 538.0,654.84 538.8,654.93 539.5,655.01 540.2,655.10 541.0,655.18 541.8,655.25 542.5,655.33 543.2,655.40 544.0,655.47 544.8,655.54 545.5,655.61 546.2,655.68 547.0,655.74 547.8,655.80 548.5,655.86 549.2,655.92 550.0,655.97 550.8,656.03 551.5,656.08 552.2,656.13 553.0,656.18 553.8,656.23 554.5,656.27 555.2,656.32 556.0,656.36 556.8,656.40 557.5,656.44 558.2,656.48 559.0,656.52 559.8,656.56 560.5,656.59 561.2,656.63 562.0,656.66 562.8,656.70 563.5,656.73 564.2,656.76 565.0,656.79 565.8,656.82 566.5,656.84 567.2,656.87 568.0,656.90 568.8,656.92 569.5,656.95 570.2,656.97 571.0,656.99 571.8,657.02 572.5,657.04 573.2,657.06 574.0,657.08 574.8,657.10 575.5,657.12 576.2,657.14 577.0,657.16 577.8,657.17 578.5,657.19 579.2,657.21 580.0,657.22 580.8,657.24 581.5,657.25 582.2,657.27 583.0,657.28 583.8,657.29 584.5,657.31 585.2,657.32 586.0,657.33 586.8,657.34 587.5,657.35 588.2,657.36 589.0,657.38 589.8,657.39 590.5,657.40 591.2,657.41 592.0,657.41 592.8,657.42 593.5,657.43 594.2,657.44 595.0,657.45 595.8,657.46 596.5,657.47 597.2,657.47 598.0,657.48 598.8,657.49 599.5,657.49 600.2,657.50 601.0,657.51 601.8,657.51 602.5,657.52 603.2,657.52 604.0,657.53 604.8,657.54 605.5,657.54 606.2,657.55 607.0,657.55 607.8,657.56 608.5,657.56 609.2,657.56 610.0,657.57 610.8,657.57 611.5,657.58 612.2,657.58 613.0,657.58 613.8,657.59 614.5,657.59 615.2,657.60 616.0,657.60 616.8,657.60 617.5,657.61 618.2,657.61 619.0,657.61 619.8,657.61 620.5,657.62 621.2,657.62 622.0,657.62 622.8,657.62 623.5,657.63 624.2,657.63 625.0,657.63 625.8,657.63 626.5,657.64 627.2,657.64 628.0,657.64 628.8,657.64 629.5,657.64 630.2,657.65 631.0,657.65 631.8,657.65 632.5,657.65 633.2,657.65 634.0,657.65 634.8,657.66 635.5,657.66 636.2,657.66 637.0,657.66 637.8,657.66 638.5,657.66 639.2,657.66 640.0,657.66 640.8,657.67 641.5,657.67 642.2,657.67 643.0,657.67 643.8,657.67 644.5,657.67 645.2,657.67 646.0,657.67 646.8,657.67 647.5,657.67 648.2,657.68 649.0,657.68 649.8,657.68" fill="none" stroke="#25258a" stroke-width="1.5" stroke-linejoin="round"/>
</g>
<text x="0" y="0" font-size="17.8" text-anchor="end" fill="#111" transform="translate(42.30 231.66) scale(1 1.040)">-4</text>
<text x="0" y="0" font-size="17.8" text-anchor="end" fill="#111" transform="translate(42.30 204.41) scale(1 1.040)">-2</text>
<text x="0" y="0" font-size="17.8" text-anchor="end" fill="#111" transform="translate(42.30 177.16) scale(1 1.040)">0</text>
<text x="0" y="0" font-size="17.8" text-anchor="end" fill="#111" transform="translate(42.30 149.91) scale(1 1.040)">2</text>
<text x="0" y="0" font-size="17.8" text-anchor="end" fill="#111" transform="translate(42.30 122.66) scale(1 1.040)">4</text>
<text x="0" y="0" font-size="17.8" text-anchor="end" fill="#111" transform="translate(42.30 95.41) scale(1 1.040)">6</text>
<text x="0" y="0" font-size="17.8" text-anchor="end" fill="#111" transform="translate(42.30 68.16) scale(1 1.040)">8</text>
<text x="0" y="0" font-size="17.8" text-anchor="end" fill="#111" transform="translate(42.30 40.91) scale(1 1.040)">10</text>
<text x="0" y="0" font-size="17.8" text-anchor="end" fill="#111" transform="translate(42.30 13.66) scale(1 1.040)">12</text>
<text x="0" y="0" font-size="17.8" text-anchor="end" fill="#111" transform="translate(42.30 450.16) scale(1 1.040)">-2</text>
<text x="0" y="0" font-size="17.8" text-anchor="end" fill="#111" transform="translate(42.30 418.84) scale(1 1.040)">0</text>
<text x="0" y="0" font-size="17.8" text-anchor="end" fill="#111" transform="translate(42.30 387.52) scale(1 1.040)">2</text>
<text x="0" y="0" font-size="17.8" text-anchor="end" fill="#111" transform="translate(42.30 356.20) scale(1 1.040)">4</text>
<text x="0" y="0" font-size="17.8" text-anchor="end" fill="#111" transform="translate(42.30 324.88) scale(1 1.040)">6</text>
<text x="0" y="0" font-size="17.8" text-anchor="end" fill="#111" transform="translate(42.30 293.56) scale(1 1.040)">8</text>
<text x="0" y="0" font-size="17.8" text-anchor="end" fill="#111" transform="translate(42.30 262.24) scale(1 1.040)">10</text>
<text x="0" y="0" font-size="17.8" text-anchor="end" fill="#111" transform="translate(42.30 667.96) scale(1 1.040)">0</text>
<text x="0" y="0" font-size="17.8" text-anchor="end" fill="#111" transform="translate(42.30 631.66) scale(1 1.040)">5</text>
<text x="0" y="0" font-size="17.8" text-anchor="end" fill="#111" transform="translate(42.30 595.36) scale(1 1.040)">10</text>
<text x="0" y="0" font-size="17.8" text-anchor="end" fill="#111" transform="translate(42.30 559.06) scale(1 1.040)">15</text>
<text x="0" y="0" font-size="17.8" text-anchor="end" fill="#111" transform="translate(42.30 522.76) scale(1 1.040)">20</text>
<text x="0" y="0" font-size="17.8" text-anchor="end" fill="#111" transform="translate(42.30 486.46) scale(1 1.040)">25</text>
<text x="0" y="0" font-size="18.5" text-anchor="end" fill="#111" transform="translate(382.00 235.58) scale(1 1.180)">0</text>
<text x="0" y="0" font-size="18.5" text-anchor="end" fill="#111" transform="translate(382.00 192.68) scale(1 1.180)">4</text>
<text x="0" y="0" font-size="18.5" text-anchor="end" fill="#111" transform="translate(382.00 149.78) scale(1 1.180)">8</text>
<text x="0" y="0" font-size="18.5" text-anchor="end" fill="#111" transform="translate(382.00 106.88) scale(1 1.180)">12</text>
<text x="0" y="0" font-size="18.5" text-anchor="end" fill="#111" transform="translate(382.00 63.98) scale(1 1.180)">16</text>
<text x="0" y="0" font-size="18.5" text-anchor="end" fill="#111" transform="translate(382.00 21.08) scale(1 1.180)">20</text>
<text x="0" y="0" font-size="18.5" text-anchor="end" fill="#111" transform="translate(382.00 449.98) scale(1 1.180)">0.0</text>
<text x="0" y="0" font-size="18.5" text-anchor="end" fill="#111" transform="translate(382.00 413.00) scale(1 1.180)">0.5</text>
<text x="0" y="0" font-size="18.5" text-anchor="end" fill="#111" transform="translate(382.00 376.02) scale(1 1.180)">1.0</text>
<text x="0" y="0" font-size="18.5" text-anchor="end" fill="#111" transform="translate(382.00 339.04) scale(1 1.180)">1.5</text>
<text x="0" y="0" font-size="18.5" text-anchor="end" fill="#111" transform="translate(382.00 302.06) scale(1 1.180)">2.0</text>
<text x="0" y="0" font-size="18.5" text-anchor="end" fill="#111" transform="translate(382.00 265.08) scale(1 1.180)">2.5</text>
<text x="0" y="0" font-size="18.5" text-anchor="end" fill="#111" transform="translate(382.00 664.28) scale(1 1.180)">0.000</text>
<text x="0" y="0" font-size="18.5" text-anchor="end" fill="#111" transform="translate(382.00 626.78) scale(1 1.180)">0.007</text>
<text x="0" y="0" font-size="18.5" text-anchor="end" fill="#111" transform="translate(382.00 589.28) scale(1 1.180)">0.014</text>
<text x="0" y="0" font-size="18.5" text-anchor="end" fill="#111" transform="translate(382.00 551.78) scale(1 1.180)">0.021</text>
<text x="0" y="0" font-size="18.5" text-anchor="end" fill="#111" transform="translate(382.00 514.28) scale(1 1.180)">0.028</text>
<text x="0" y="0" font-size="18.5" text-anchor="end" fill="#111" transform="translate(382.00 476.78) scale(1 1.180)">0.035</text>
<text x="0" y="0" font-size="17.5" text-anchor="middle" fill="#111" transform="translate(48.40 682.00) scale(1 1.080)">0</text>
<text x="0" y="0" font-size="17.5" text-anchor="middle" fill="#111" transform="translate(90.98 682.00) scale(1 1.080)">5</text>
<text x="0" y="0" font-size="17.5" text-anchor="middle" fill="#111" transform="translate(133.57 682.00) scale(1 1.080)">10</text>
<text x="0" y="0" font-size="17.5" text-anchor="middle" fill="#111" transform="translate(176.15 682.00) scale(1 1.080)">15</text>
<text x="0" y="0" font-size="17.5" text-anchor="middle" fill="#111" transform="translate(218.73 682.00) scale(1 1.080)">20</text>
<text x="0" y="0" font-size="17.5" text-anchor="middle" fill="#111" transform="translate(261.32 682.00) scale(1 1.080)">25</text>
<text x="0" y="0" font-size="17.5" text-anchor="middle" fill="#111" transform="translate(303.90 682.00) scale(1 1.080)">30</text>
<text x="0" y="0" font-size="18.4" text-anchor="middle" fill="#111" transform="translate(388.00 680.10) scale(1 1.100)">300</text>
<text x="0" y="0" font-size="18.4" text-anchor="middle" fill="#111" transform="translate(440.30 680.10) scale(1 1.100)">400</text>
<text x="0" y="0" font-size="18.4" text-anchor="middle" fill="#111" transform="translate(492.60 680.10) scale(1 1.100)">500</text>
<text x="0" y="0" font-size="18.4" text-anchor="middle" fill="#111" transform="translate(544.90 680.10) scale(1 1.100)">600</text>
<text x="0" y="0" font-size="18.4" text-anchor="middle" fill="#111" transform="translate(597.20 680.10) scale(1 1.100)">700</text>
<text x="0" y="0" font-size="18.4" text-anchor="middle" fill="#111" transform="translate(649.50 680.10) scale(1 1.100)">800</text>
<text x="181.70" y="702.10" font-size="20.5" text-anchor="middle" font-weight="normal" fill="#111" >Energy (eV)</text>
<text x="519.00" y="700.50" font-size="20.5" text-anchor="middle" font-weight="normal" fill="#111" >Wavelength (nm)</text>
<text x="0" y="0" font-size="20.5" text-anchor="middle" fill="#111" transform="translate(21.70 130.80) rotate(-90) scale(1.005 1)" >Dielectric function</text>
<text x="0" y="0" font-size="20.5" text-anchor="middle" fill="#111" transform="translate(21.70 349.15) rotate(-90) scale(1.005 1)" >Dielectric function</text>
<text x="0" y="0" font-size="21.5" text-anchor="middle" fill="#111" transform="translate(341.70 135.65) rotate(-90) scale(1.013 1)" >Dielectric function</text>
<text x="0" y="0" font-size="21.5" text-anchor="middle" fill="#111" transform="translate(341.70 349.85) rotate(-90) scale(1.036 1)" >Dielectric function</text>
<text x="0" y="0" font-size="21" text-anchor="middle" fill="#111" transform="translate(333.80 561.85) rotate(-90) scale(1.100 1)" >Absorption</text>
<text x="0" y="0" font-size="20.5" text-anchor="middle" fill="#111" transform="translate(21.8 571.4) rotate(-90) scale(1.0 1)">Absorption (cm<tspan font-size="11.5" dy="-10.5">-1</tspan><tspan dy="10.5">) [×10</tspan><tspan font-size="11.5" dy="-10.5">4</tspan><tspan dy="10.5">]</tspan></text>
<text x="54.20" y="32.60" font-size="20" text-anchor="start" font-weight="bold" fill="#111" >(a)</text>
<text x="100.30" y="32.30" font-size="20.3" text-anchor="start" font-weight="normal" fill="#111" >Real part</text>
<text x="394.80" y="38.80" font-size="19" text-anchor="start" font-weight="bold" fill="#111" >(b)</text>
<text x="425.00" y="39.00" font-size="20.3" text-anchor="start" font-weight="normal" fill="#111" >Real part</text>
<text x="57.50" y="252.50" font-size="20" text-anchor="start" font-weight="bold" fill="#111" >(c)</text>
<text x="111.20" y="252.50" font-size="20.3" text-anchor="start" font-weight="normal" fill="#111" >Imaginary part</text>
<text x="399.60" y="253.70" font-size="19" text-anchor="start" font-weight="bold" fill="#111" >(d)</text>
<text x="426.80" y="253.70" font-size="19" text-anchor="start" font-weight="normal" fill="#111" >Imaginary part</text>
<text x="56.40" y="468.20" font-size="19.8" text-anchor="start" font-weight="bold" fill="#111" >(e)</text>
<text x="399.70" y="467.50" font-size="19.1" text-anchor="start" font-weight="normal" fill="#111" >(f)</text>
<line x1="191.70" y1="28.10" x2="233.70" y2="28.10" stroke="#222222" stroke-width="1.6"/>
<text x="238.20" y="35.10" font-size="18.6" text-anchor="start" font-weight="normal" fill="#111" >0 GPa</text>
<line x1="191.70" y1="51.90" x2="233.70" y2="51.90" stroke="#3030ee" stroke-width="1.6"/>
<text x="238.20" y="58.90" font-size="18.6" text-anchor="start" font-weight="normal" fill="#111" >2 GPa</text>
<line x1="191.70" y1="74.20" x2="233.70" y2="74.20" stroke="#ee35ee" stroke-width="1.6"/>
<text x="238.20" y="81.20" font-size="18.6" text-anchor="start" font-weight="normal" fill="#111" >4 GPa</text>
<line x1="191.70" y1="97.20" x2="233.70" y2="97.20" stroke="#3a9a3a" stroke-width="1.6"/>
<text x="238.20" y="104.20" font-size="18.6" text-anchor="start" font-weight="normal" fill="#111" >6 GPa</text>
<line x1="191.70" y1="119.80" x2="233.70" y2="119.80" stroke="#35ee35" stroke-width="1.6"/>
<text x="238.20" y="126.80" font-size="18.6" text-anchor="start" font-weight="normal" fill="#111" >8 GPa</text>
<line x1="191.70" y1="142.90" x2="233.70" y2="142.90" stroke="#f0903a" stroke-width="1.6"/>
<text x="238.20" y="149.90" font-size="18.6" text-anchor="start" font-weight="normal" fill="#111" >10 GPa</text>
<line x1="545.90" y1="29.20" x2="587.30" y2="29.20" stroke="#333333" stroke-width="1.6"/>
<text x="592.10" y="36.20" font-size="18.6" text-anchor="start" font-weight="normal" fill="#111" >0 GPa</text>
<line x1="545.90" y1="53.20" x2="587.30" y2="53.20" stroke="#ff2020" stroke-width="1.6"/>
<text x="592.10" y="60.20" font-size="18.6" text-anchor="start" font-weight="normal" fill="#111" >2 GPa</text>
<line x1="545.90" y1="77.60" x2="587.30" y2="77.60" stroke="#2020ff" stroke-width="1.6"/>
<text x="592.10" y="84.60" font-size="18.6" text-anchor="start" font-weight="normal" fill="#111" >4 GPa</text>
<line x1="545.90" y1="102.00" x2="587.30" y2="102.00" stroke="#ff30ff" stroke-width="1.6"/>
<text x="592.10" y="109.00" font-size="18.6" text-anchor="start" font-weight="normal" fill="#111" >6 GPa</text>
<line x1="545.90" y1="125.70" x2="587.30" y2="125.70" stroke="#2e8b2e" stroke-width="1.6"/>
<text x="592.10" y="132.70" font-size="18.6" text-anchor="start" font-weight="normal" fill="#111" >8 GPa</text>
<line x1="545.90" y1="150.10" x2="587.30" y2="150.10" stroke="#20208a" stroke-width="1.6"/>
<text x="592.10" y="157.10" font-size="18.6" text-anchor="start" font-weight="normal" fill="#111" >10 GPa</text>
<line x1="191.20" y1="266.50" x2="233.30" y2="266.50" stroke="#222222" stroke-width="1.6"/>
<text x="237.40" y="273.50" font-size="18.6" text-anchor="start" font-weight="normal" fill="#111" >0 GPa</text>
<line x1="191.20" y1="289.70" x2="233.30" y2="289.70" stroke="#ee2222" stroke-width="1.6"/>
<text x="237.40" y="296.70" font-size="18.6" text-anchor="start" font-weight="normal" fill="#111" >2 GPa</text>
<line x1="191.20" y1="312.50" x2="233.30" y2="312.50" stroke="#2a2aee" stroke-width="1.6"/>
<text x="237.40" y="319.50" font-size="18.6" text-anchor="start" font-weight="normal" fill="#111" >4 GPa</text>
<line x1="191.20" y1="335.30" x2="233.30" y2="335.30" stroke="#1a8a1a" stroke-width="1.6"/>
<text x="237.40" y="342.30" font-size="18.6" text-anchor="start" font-weight="normal" fill="#111" >6 GPa</text>
<line x1="191.20" y1="357.70" x2="233.30" y2="357.70" stroke="#66ee66" stroke-width="1.6"/>
<text x="237.40" y="364.70" font-size="18.6" text-anchor="start" font-weight="normal" fill="#111" >8 GPa</text>
<line x1="191.20" y1="380.40" x2="233.30" y2="380.40" stroke="#f5a050" stroke-width="1.6"/>
<text x="237.40" y="387.40" font-size="18.6" text-anchor="start" font-weight="normal" fill="#111" >10 GPa</text>
<line x1="541.90" y1="252.70" x2="583.30" y2="252.70" stroke="#222222" stroke-width="1.6"/>
<text x="587.90" y="259.70" font-size="18.6" text-anchor="start" font-weight="normal" fill="#111" >0 GPa</text>
<line x1="541.90" y1="277.10" x2="583.30" y2="277.10" stroke="#ff2020" stroke-width="1.6"/>
<text x="587.90" y="284.10" font-size="18.6" text-anchor="start" font-weight="normal" fill="#111" >2 GPa</text>
<line x1="541.90" y1="301.50" x2="583.30" y2="301.50" stroke="#2020ff" stroke-width="1.6"/>
<text x="587.90" y="308.50" font-size="18.6" text-anchor="start" font-weight="normal" fill="#111" >4 GPa</text>
<line x1="541.90" y1="325.50" x2="583.30" y2="325.50" stroke="#ff30ff" stroke-width="1.6"/>
<text x="587.90" y="332.50" font-size="18.6" text-anchor="start" font-weight="normal" fill="#111" >6 GPa</text>
<line x1="541.90" y1="349.70" x2="583.30" y2="349.70" stroke="#2e8b2e" stroke-width="1.6"/>
<text x="587.90" y="356.70" font-size="18.6" text-anchor="start" font-weight="normal" fill="#111" >8 GPa</text>
<line x1="541.90" y1="373.60" x2="583.30" y2="373.60" stroke="#20208a" stroke-width="1.6"/>
<text x="587.90" y="380.60" font-size="18.6" text-anchor="start" font-weight="normal" fill="#111" >10 GPa</text>
<line x1="212.50" y1="456.10" x2="250.80" y2="456.10" stroke="#222222" stroke-width="1.5"/>
<text x="254.60" y="462.10" font-size="17.3" text-anchor="start" font-weight="normal" fill="#111" >0 GPa</text>
<line x1="212.50" y1="476.60" x2="250.80" y2="476.60" stroke="#ee2020" stroke-width="1.5"/>
<text x="254.60" y="482.60" font-size="17.3" text-anchor="start" font-weight="normal" fill="#111" >2 GPa</text>
<line x1="212.50" y1="497.10" x2="250.80" y2="497.10" stroke="#4545ee" stroke-width="1.5"/>
<text x="254.60" y="503.10" font-size="17.3" text-anchor="start" font-weight="normal" fill="#111" >4 GPa</text>
<line x1="212.50" y1="517.00" x2="250.80" y2="517.00" stroke="#117a11" stroke-width="1.5"/>
<text x="254.60" y="523.00" font-size="17.3" text-anchor="start" font-weight="normal" fill="#111" >6 GPa</text>
<line x1="212.50" y1="537.90" x2="250.80" y2="537.90" stroke="#22ee22" stroke-width="1.5"/>
<text x="254.60" y="543.90" font-size="17.3" text-anchor="start" font-weight="normal" fill="#111" >8 GPa</text>
<line x1="212.50" y1="558.90" x2="250.80" y2="558.90" stroke="#f5a050" stroke-width="1.5"/>
<text x="254.60" y="564.90" font-size="17.3" text-anchor="start" font-weight="normal" fill="#111" >10 GPa</text>
<line x1="542.10" y1="466.10" x2="583.60" y2="466.10" stroke="#222222" stroke-width="1.6"/>
<text x="588.00" y="472.70" font-size="18.6" text-anchor="start" font-weight="normal" fill="#111" >0 GPa</text>
<line x1="542.10" y1="489.90" x2="583.60" y2="489.90" stroke="#ff5050" stroke-width="1.6"/>
<text x="588.00" y="496.50" font-size="18.6" text-anchor="start" font-weight="normal" fill="#111" >2 GPa</text>
<line x1="542.10" y1="514.20" x2="583.60" y2="514.20" stroke="#2222ee" stroke-width="1.6"/>
<text x="588.00" y="520.80" font-size="18.6" text-anchor="start" font-weight="normal" fill="#111" >4 GPa</text>
<line x1="542.10" y1="538.40" x2="583.60" y2="538.40" stroke="#ff30ff" stroke-width="1.6"/>
<text x="588.00" y="545.00" font-size="18.6" text-anchor="start" font-weight="normal" fill="#111" >6 GPa</text>
<line x1="542.10" y1="563.10" x2="583.60" y2="563.10" stroke="#2e8b2e" stroke-width="1.6"/>
<text x="588.00" y="569.70" font-size="18.6" text-anchor="start" font-weight="normal" fill="#111" >8 GPa</text>
<line x1="542.10" y1="587.40" x2="583.60" y2="587.40" stroke="#7a7ac0" stroke-width="1.6"/>
<text x="588.00" y="594.00" font-size="18.6" text-anchor="start" font-weight="normal" fill="#111" >10 GPa</text>
</svg></body></html>
